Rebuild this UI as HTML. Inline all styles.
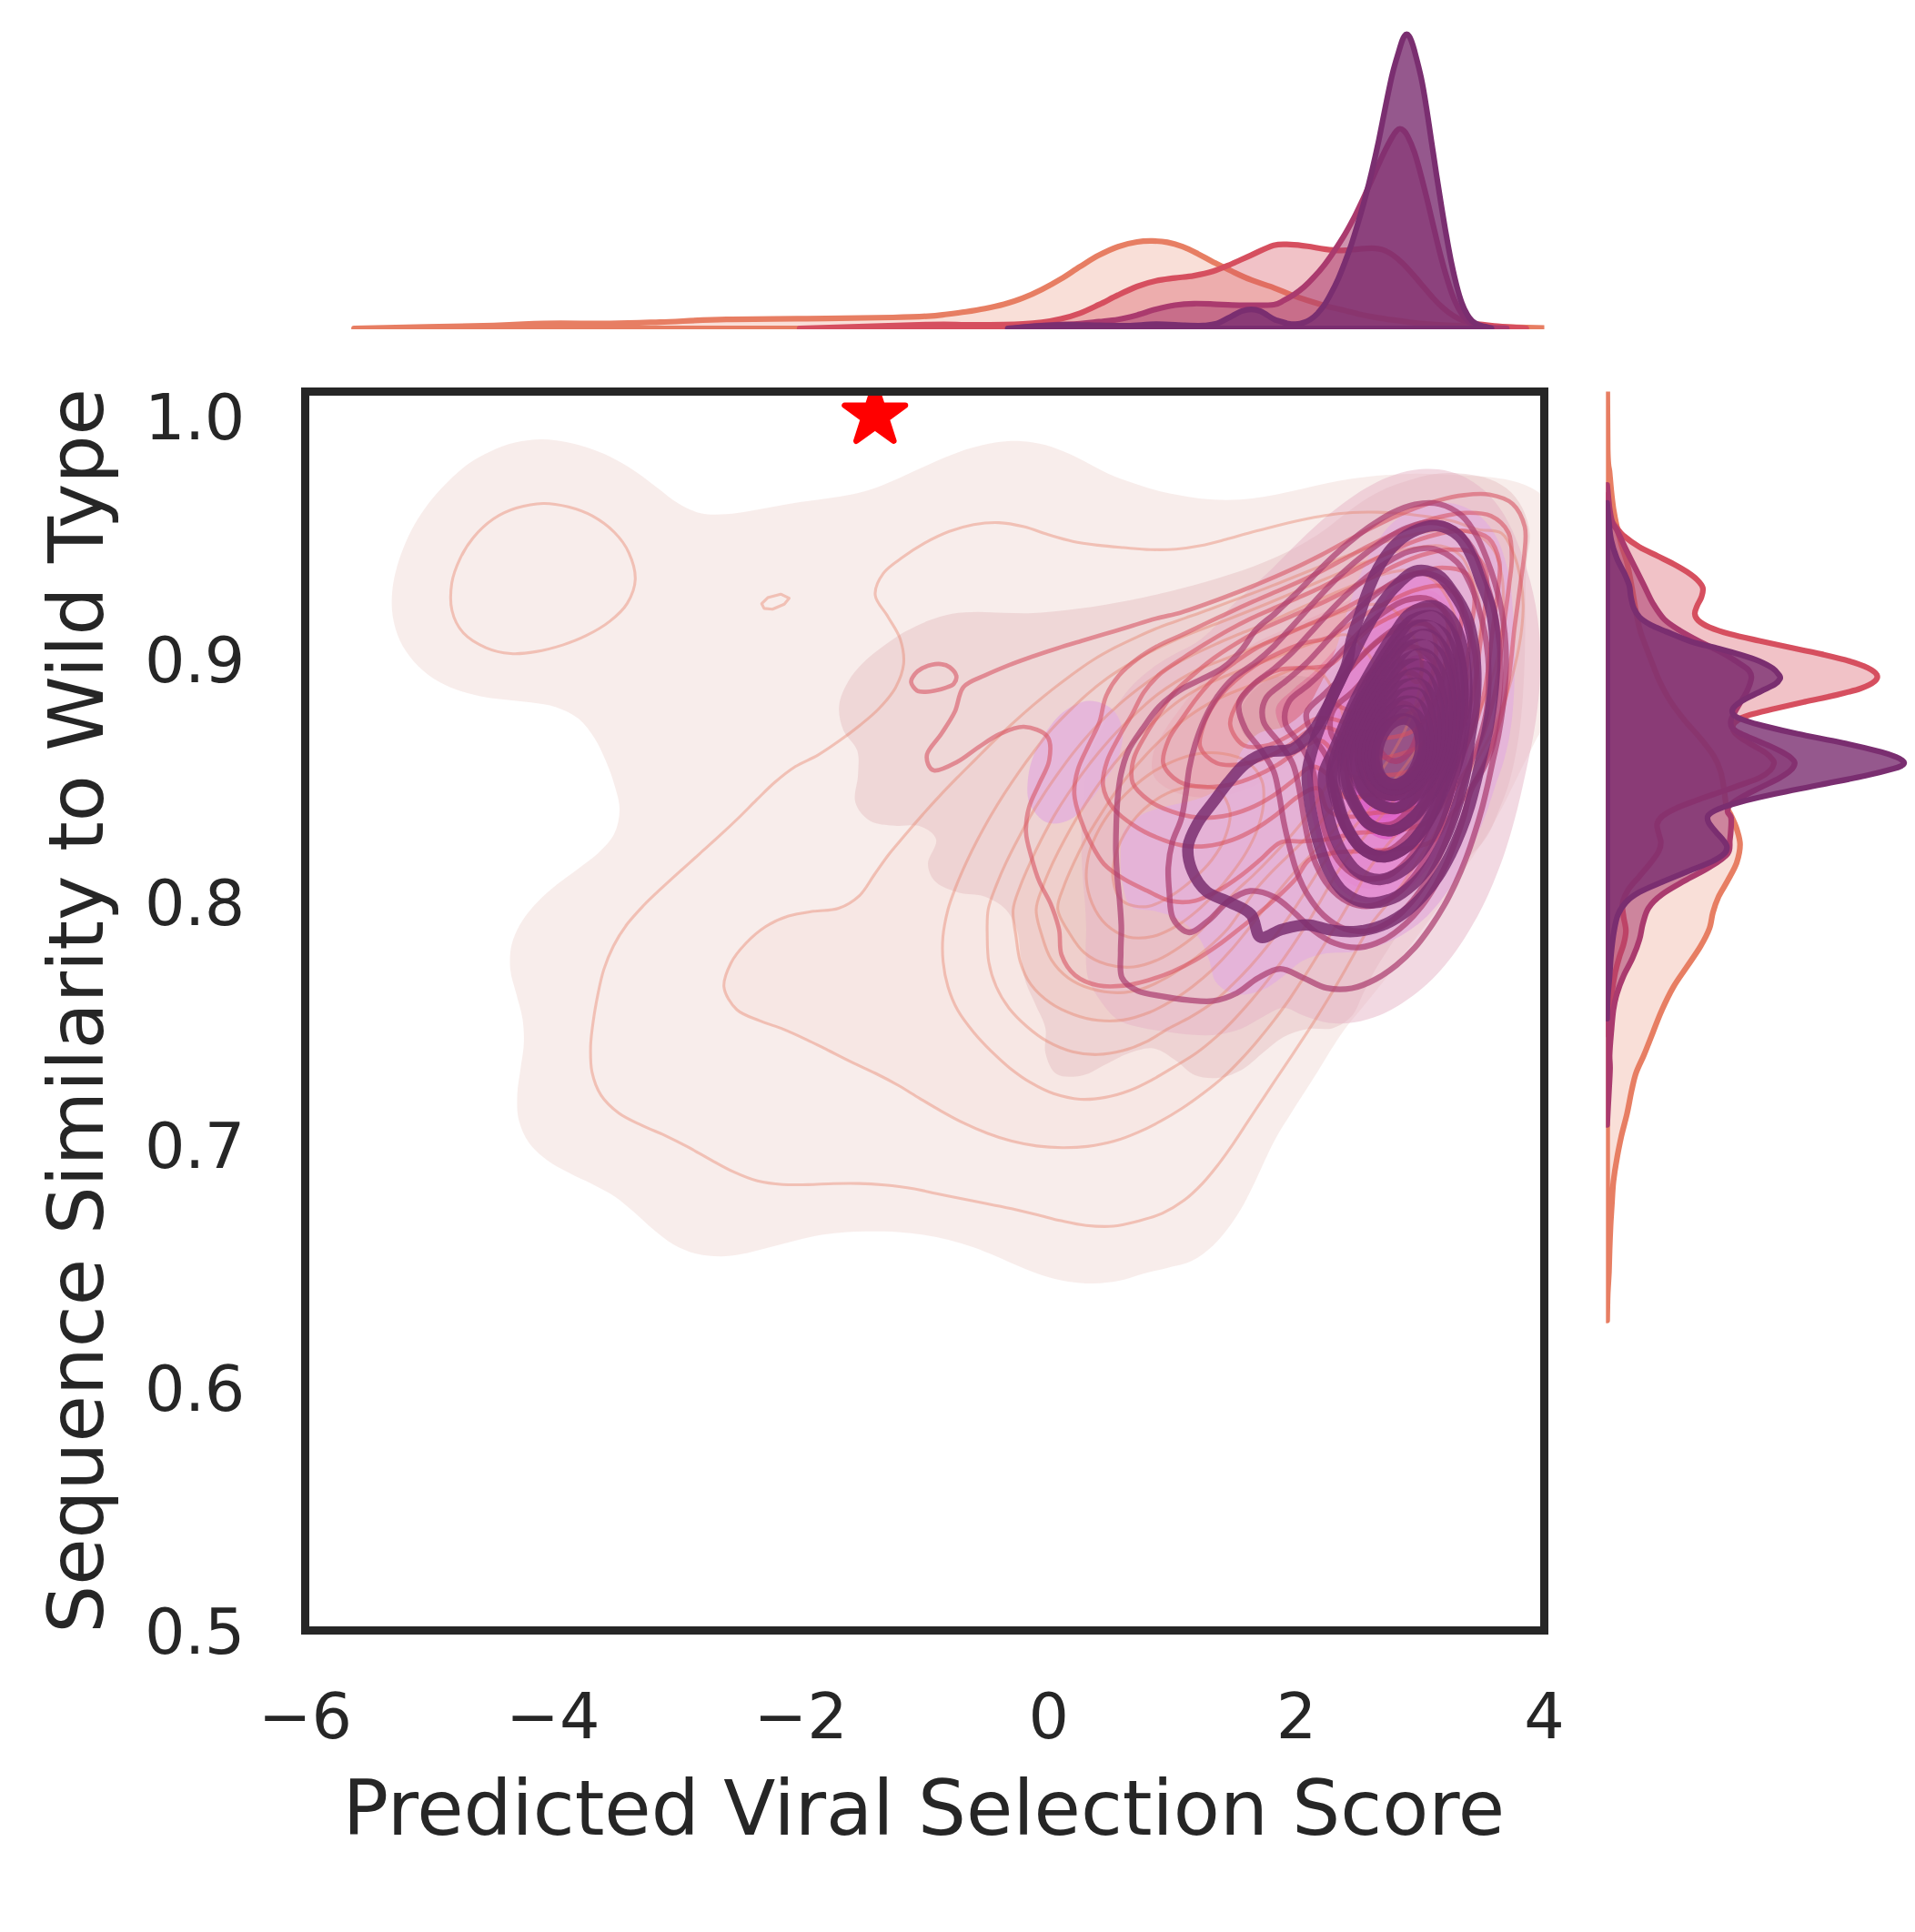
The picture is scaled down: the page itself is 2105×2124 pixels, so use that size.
<!DOCTYPE html>
<html><head><meta charset="utf-8"><title>Joint KDE plot</title>
<style>html,body{margin:0;padding:0;background:#fff}svg{display:block}</style></head>
<body><svg width="2105" height="2124" viewBox="0 0 2105 2124">
<rect width="2105" height="2124" fill="#ffffff"/>
<clipPath id="cpt"><rect x="335.5" y="0" width="1362" height="362"/></clipPath><g clip-path="url(#cpt)" stroke-linejoin="round">
<path d="M389.2 361C414.8 360.5 508 358.7 542.8 357.8C577.5 356.8 576.3 355.9 597.6 355.6C618.9 355.2 649.4 355.8 670.7 355.6C692 355.3 704.2 354.8 725.5 354.1C746.9 353.4 768.2 351.8 798.6 351.2C829.1 350.5 877.8 350.4 908.3 350.1C938.8 349.7 962.8 349.4 981.4 349C1000 348.6 1010.1 348.2 1020 347.6C1029.9 347 1033.9 346.3 1040.9 345.5C1047.9 344.7 1054.8 343.9 1061.8 342.8C1068.7 341.8 1075.7 340.7 1082.7 339.3C1089.6 337.9 1096.6 336.4 1103.6 334.5C1110.5 332.5 1117.5 330.3 1124.4 327.6C1131.4 324.9 1138.4 321.7 1145.3 318.2C1152.3 314.7 1159.3 310.9 1166.2 306.7C1173.2 302.5 1180.1 297.5 1187.1 293.1C1194.1 288.8 1201 284.2 1208 280.6C1215 276.9 1221.9 273.6 1228.9 271.2C1235.8 268.7 1243.5 267 1249.8 266C1256 264.9 1260.9 264.8 1266.5 264.9C1272 265 1277.6 265.3 1283.2 266.4C1288.8 267.4 1294.3 269.1 1299.9 271.2C1305.5 273.3 1311 276.1 1316.6 278.9C1322.2 281.7 1327 284.6 1333.3 287.9C1339.6 291.1 1347.2 295 1354.2 298.3C1361.2 301.6 1367.5 304.7 1375.1 307.7C1382.7 310.7 1392.7 313.7 1400 316.3C1407.3 319 1412.4 321.5 1418.6 323.8C1424.8 326.1 1431.1 328.3 1437.3 330.3C1443.5 332.3 1449.7 334.2 1455.9 335.9C1462.1 337.6 1468.3 339 1474.5 340.6C1480.8 342.1 1487 343.8 1493.2 345.2C1499.4 346.6 1505.6 347.9 1511.8 348.9C1518 350 1524.2 350.9 1530.5 351.7C1536.7 352.6 1542.9 353.4 1549.1 354.2C1555.3 354.9 1561.5 355.5 1567.7 356C1573.9 356.6 1577.1 356.9 1586.4 357.3C1595.7 357.8 1605.1 358.3 1623.6 358.8C1642.2 359.4 1682.3 360.2 1697.8 360.6C1713.4 361 1713.7 360.9 1716.8 361L1716.8 361.0L389.2 361.0Z" fill="#e77e63" fill-opacity="0.25" stroke="#e77e63" stroke-width="6.2"/>
<path d="M879 361C902.5 360.3 989.5 357.5 1020 356.8C1050.5 356.2 1047.9 357 1061.8 357C1075.7 357 1093.1 357 1103.6 356.8C1114 356.7 1117.5 356.6 1124.4 356.2C1131.4 355.8 1138.4 355.2 1145.3 354.3C1152.3 353.4 1159.3 352.2 1166.2 350.5C1173.2 348.9 1180.1 346.9 1187.1 344.3C1194.1 341.7 1201 338.2 1208 334.9C1215 331.6 1221.9 327.7 1228.9 324.4C1235.8 321.1 1242.8 317.7 1249.8 315C1256.7 312.4 1263.7 310.3 1270.7 308.8C1277.6 307.2 1284.6 306.6 1291.5 305.6C1298.5 304.7 1305.5 304.4 1312.4 303.1C1319.4 301.9 1326.4 300.5 1333.3 298.3C1340.3 296.1 1347.2 292.9 1354.2 290C1361.2 287 1367.5 283.9 1375.1 280.6C1382.7 277.2 1392.7 271.7 1400 269.7C1407.3 267.8 1412.4 268.7 1418.6 268.8C1424.8 269 1431.1 269.8 1437.3 270.7C1443.5 271.5 1449.7 273.1 1455.9 273.8C1462.1 274.6 1468.3 275.3 1474.5 275.3C1480.8 275.3 1487.6 274.2 1493.2 273.8C1498.8 273.4 1503.7 272.8 1508.1 272.9C1512.4 273 1515.6 273.2 1519.3 274.4C1523 275.6 1526.7 277.5 1530.5 280C1534.2 282.5 1537.9 285.7 1541.6 289.3C1545.4 292.9 1549.1 297.2 1552.8 301.4C1556.6 305.6 1560.3 310.1 1564 314.5C1567.7 318.8 1571.5 323.5 1575.2 327.5C1578.9 331.6 1582.6 335.4 1586.4 338.7C1590.1 342 1593.8 344.8 1597.6 347.1C1601.3 349.4 1605 351.3 1608.7 352.7C1612.5 354.1 1614.3 354.5 1619.9 355.5C1625.5 356.4 1632.7 357.3 1642.3 358.3C1651.9 359.2 1671.8 360.5 1677.7 361L1677.7 361.0L879.0 361.0Z" fill="#d64f5f" fill-opacity="0.35" stroke="#d64f5f" stroke-width="6.2"/>
<path d="M1112 361C1117.6 360.5 1132.8 358.7 1145.3 357.9C1157.8 357 1176.7 356.5 1187.1 355.8C1197.5 355.1 1201 354.4 1208 353.7C1215 352.9 1221.9 352.4 1228.9 351.2C1235.8 350 1242.8 348.2 1249.8 346.4C1256.7 344.5 1263.7 341.9 1270.7 340.1C1277.6 338.3 1284.6 336.6 1291.5 335.5C1298.5 334.5 1305.5 334 1312.4 333.8C1319.4 333.6 1326.4 334 1333.3 334.3C1340.3 334.5 1347.2 335.1 1354.2 335.3C1361.2 335.5 1367.5 335.6 1375.1 335.5C1382.7 335.5 1394 335.8 1400 335C1406 334.1 1407.5 332.2 1411.2 330.3C1414.9 328.4 1418.6 326.3 1422.4 323.8C1426.1 321.3 1429.8 318.7 1433.5 315.4C1437.3 312.1 1441 308.3 1444.7 304.2C1448.5 300.2 1452.2 296 1455.9 291.2C1459.6 286.4 1463.4 280.9 1467.1 275.3C1470.8 269.7 1474.5 264 1478.3 257.6C1482 251.3 1485.7 244.4 1489.5 237.1C1493.2 229.8 1497.5 220.5 1500.6 213.8C1503.7 207.1 1505.6 202.6 1508.1 197.1C1510.6 191.5 1513.1 185.7 1515.6 180.3C1518 174.8 1520.5 169.4 1523 164.4C1525.5 159.5 1528.4 153.9 1530.5 150.5C1532.5 147 1533.7 145.4 1535.1 143.9C1536.5 142.4 1537.5 141.5 1538.8 141.5C1540.2 141.5 1541.7 142.4 1543.1 143.8C1544.5 145.1 1545.3 145.6 1547.2 149.5C1549.2 153.4 1552.2 159.9 1554.7 167.2C1557.2 174.5 1559.7 184 1562.1 193.3C1564.6 202.6 1567.1 212.9 1569.6 223.1C1572.1 233.4 1574.6 244.6 1577.1 254.8C1579.5 265.1 1582 275.3 1584.5 284.6C1587 294 1589.5 303 1592 310.7C1594.4 318.5 1596.9 325.5 1599.4 331.2C1601.9 337 1604.4 341.5 1606.9 345.2C1609.4 348.9 1611.5 351.5 1614.3 353.6C1617.1 355.7 1619.6 356.6 1623.6 357.7C1627.7 358.8 1633.1 359.7 1638.6 360.2C1644 360.8 1653.3 360.9 1656.3 361L1656.3 361.0L1112.0 361.0Z" fill="#aa3a6e" fill-opacity="0.55" stroke="#aa3a6e" stroke-width="6.2"/>
<path d="M1107.7 361C1114 360.5 1133.8 358.7 1145.3 358.1C1156.8 357.4 1166.2 357.1 1176.7 357C1187.1 357 1197.5 357.5 1208 357.7C1218.4 357.8 1228.9 358.3 1239.3 358.1C1249.8 357.9 1260.2 356.5 1270.7 356.4C1281.1 356.3 1293.3 357.4 1302 357.7C1310.7 357.9 1317 358.2 1322.9 357.9C1328.8 357.5 1332.3 357.5 1337.5 355.8C1342.7 354 1349.7 349.7 1354.2 347.4C1358.7 345.2 1361.2 343.4 1364.6 342.2C1368.1 341 1371.6 340.1 1375.1 340.1C1378.6 340.1 1381.4 340.4 1385.5 342.2C1389.7 344 1396.7 349.1 1400 350.8C1403.3 352.6 1403.1 351.9 1405.6 352.7C1408.1 353.4 1411.8 354.8 1414.9 355.5C1418 356.1 1421.1 356.6 1424.2 356.4C1427.3 356.2 1430.8 355.5 1433.5 354.5C1436.3 353.6 1438.5 352.5 1441 350.8C1443.5 349.1 1446 346.9 1448.5 344.3C1450.9 341.6 1453.4 338.7 1455.9 335C1458.4 331.2 1460.9 326.6 1463.4 321.9C1465.9 317.3 1468.3 312.6 1470.8 307C1473.3 301.4 1475.8 294.9 1478.3 288.4C1480.8 281.9 1483.2 275.3 1485.7 267.9C1488.2 260.4 1490.7 252 1493.2 243.6C1495.7 235.3 1498.2 226.9 1500.6 217.6C1503.1 208.2 1505.6 198.3 1508.1 187.7C1510.6 177.2 1513.1 166 1515.6 154.2C1518 142.4 1520.5 129 1523 116.9C1525.5 104.8 1528 91.8 1530.5 81.5C1532.9 71.3 1536.1 61.6 1537.9 55.4C1539.7 49.3 1540.3 47.3 1541.3 44.6C1542.3 41.9 1543 40.5 1543.9 39.4C1544.7 38.2 1545.5 37.7 1546.3 37.7C1547.1 37.7 1547.9 38.2 1548.7 39.4C1549.6 40.5 1550.3 41.9 1551.3 44.6C1552.3 47.3 1552.9 48.6 1554.7 55.4C1556.5 62.2 1560 75 1562.1 85.2C1564.3 95.5 1565.9 105.4 1567.7 116.9C1569.6 128.4 1571.5 141.8 1573.3 154.2C1575.2 166.6 1577.1 179.3 1578.9 191.5C1580.8 203.6 1582.6 215.4 1584.5 226.9C1586.4 238.4 1588.2 249.9 1590.1 260.4C1592 271 1593.8 281.2 1595.7 290.2C1597.6 299.2 1599.4 307.3 1601.3 314.5C1603.1 321.6 1605 328 1606.9 333.1C1608.7 338.2 1610.6 342 1612.5 345.2C1614.3 348.5 1616.2 350.8 1618.1 352.7C1619.9 354.5 1621.5 355.4 1623.6 356.4C1625.8 357.4 1628.5 358.1 1631.1 358.8C1633.7 359.6 1638.1 360.6 1639.5 361L1639.5 361.0L1107.7 361.0Z" fill="#7a2e70" fill-opacity="0.80" stroke="#7a2e70" stroke-width="6.2"/>
</g>
<clipPath id="cpr"><rect x="1765.3" y="430.5" width="340" height="1362"/></clipPath><g clip-path="url(#cpr)" stroke-linejoin="round">
<path d="M1766.6 380C1766.7 399.1 1766.8 471.3 1767.2 494.5C1767.7 517.8 1768.7 511.9 1769.3 519.4C1770 526.8 1770.4 532.6 1771.1 539.3C1771.8 545.9 1772.5 552.5 1773.5 559.1C1774.6 565.8 1775.8 572.4 1777.3 579C1778.7 585.6 1780.4 592.3 1782.2 598.9C1784.1 605.5 1786.6 611.3 1788.5 618.8C1790.3 626.2 1791.9 635.3 1793.4 643.6C1795 651.9 1796.3 661 1797.6 668.5C1799 675.9 1800.4 683.1 1801.6 688.3C1802.9 693.6 1802.9 693.9 1805.1 700C1807.3 706.1 1811.3 716.6 1814.5 724.8C1817.8 733.1 1820.8 741.8 1824.5 749.7C1828.2 757.6 1832.3 765 1836.9 772.1C1841.5 779.1 1846.4 785.3 1851.8 791.9C1857.2 798.6 1863.8 805.2 1869.2 811.8C1874.6 818.4 1880.4 825.5 1884.1 831.7C1887.8 837.9 1889.7 842.9 1891.6 849.1C1893.4 855.3 1894.3 862.7 1895.3 869C1896.3 875.2 1896.5 881.8 1897.8 886.4C1899 890.9 1900.9 892.1 1902.7 896.3C1904.6 900.4 1907.3 905.8 1909 911.2C1910.6 916.6 1912.7 922.4 1912.7 928.6C1912.7 934.8 1911.2 941.8 1909 948.5C1906.7 955.1 1902.3 962.1 1899 968.3C1895.7 974.6 1891.8 979.9 1889.1 985.7C1886.4 991.5 1884.5 997.3 1882.9 1003.1C1881.2 1008.9 1881.4 1014.3 1879.1 1020.5C1876.9 1026.7 1873.3 1033.4 1869.2 1040.4C1865.1 1047.4 1859.3 1055.3 1854.3 1062.8C1849.3 1070.2 1843.9 1077.3 1839.4 1085.1C1834.8 1093 1830.7 1101.7 1827 1110C1823.2 1118.3 1820.3 1126.5 1817 1134.8C1813.7 1143.1 1810.2 1152.2 1807.1 1159.7C1804 1167.1 1800.7 1172.9 1798.4 1179.5C1796.1 1186.1 1795.1 1191.9 1793.4 1199.4C1791.8 1206.8 1790.3 1216 1788.5 1224.2C1786.6 1232.5 1784.1 1240.8 1782.2 1249.1C1780.4 1257.4 1778.7 1265.6 1777.3 1273.9C1775.8 1282.2 1774.5 1290.5 1773.5 1298.8C1772.6 1307.1 1772.3 1315.3 1771.8 1323.6C1771.3 1331.9 1770.7 1340.2 1770.3 1348.5C1769.9 1356.8 1769.6 1365 1769.3 1373.3C1769 1381.6 1768.9 1389.9 1768.6 1398.2C1768.2 1406.4 1767.6 1414.1 1767.2 1423C1766.9 1431.9 1766.7 1446.8 1766.6 1451.6Z" fill="#e77e63" fill-opacity="0.25" stroke="#e77e63" stroke-width="6.25"/>
<path d="M1766.6 544.2C1766.9 546.7 1767.5 554.6 1768.2 559.1C1769 563.7 1769.6 568 1771.1 571.6C1772.6 575.1 1775 577.4 1777.3 580.3C1779.5 583.2 1780.6 585.4 1784.7 589C1788.9 592.5 1795.9 597.7 1802.1 601.4C1808.3 605.1 1815.8 608.2 1822 611.3C1828.2 614.4 1834 617.1 1839.4 620C1844.8 622.9 1849.9 625.8 1854.3 628.7C1858.6 631.6 1862.6 634.5 1865.5 637.4C1868.4 640.3 1870.9 643 1871.7 646.1C1872.5 649.2 1871.5 652.7 1870.4 656C1869.4 659.4 1866.7 662.9 1865.5 666C1864.2 669.1 1862.8 672 1863 674.7C1863.2 677.4 1864 679.6 1866.7 682.1C1869.4 684.6 1873.3 687.1 1879.1 689.6C1884.9 692.1 1892.4 694.6 1901.5 697C1910.6 699.5 1922.6 702 1933.8 704.5C1945 707 1957 709.5 1968.6 712C1980.2 714.4 1992.6 716.9 2003.4 719.4C2014.1 721.9 2024.9 724.4 2033.2 726.9C2041.5 729.3 2048.1 731.8 2053.1 734.3C2058 736.8 2061.8 739.3 2063 741.8C2064.3 744.3 2063.4 746.7 2060.5 749.2C2057.6 751.7 2052.7 754.2 2045.6 756.7C2038.6 759.2 2028.6 761.6 2018.3 764.1C2007.9 766.6 1994.7 769.1 1983.5 771.6C1972.3 774.1 1961.1 776.7 1951.2 779C1941.3 781.4 1930.1 784 1923.9 785.7C1917.7 787.5 1916.7 788 1913.9 789.4C1911.1 790.9 1908.5 792.8 1907 794.4C1905.4 796.1 1904.5 797.5 1904.5 799.4C1904.5 801.3 1905 803.3 1907 805.6C1909 807.9 1912.8 810.6 1916.4 813.1C1920.1 815.5 1924.7 818 1928.8 820.5C1933 823 1937.9 825.5 1941.3 828C1944.6 830.4 1947.3 833.6 1948.7 835.4C1950.2 837.3 1950.4 837.3 1950 839.1C1949.5 841 1948.9 843.9 1946.2 846.6C1943.5 849.3 1939.2 852.6 1933.8 855.3C1928.4 858 1921.4 860.1 1913.9 862.7C1906.5 865.4 1897.4 868.5 1889.1 871.4C1880.8 874.3 1872.1 877.2 1864.2 880.1C1856.4 883 1848.1 885.9 1841.9 888.8C1835.7 891.7 1830.4 894.6 1827 897.5C1823.6 900.4 1822.1 903.1 1821.5 906.2C1820.9 909.3 1822.5 912.9 1823.2 916.2C1823.9 919.5 1825.7 922.8 1825.7 926.1C1825.7 929.4 1825.1 932.3 1823.2 936C1821.4 939.8 1818.1 943.9 1814.5 948.5C1811 953 1806.3 958.4 1802.1 963.4C1798 968.3 1792.8 973.3 1789.7 978.3C1786.6 983.3 1784.3 988.2 1783.5 993.2C1782.7 998.2 1784.1 1003.1 1784.7 1008.1C1785.3 1013.1 1787.2 1018 1787.2 1023C1787.2 1028 1786 1032.9 1784.7 1037.9C1783.5 1042.9 1781.4 1047 1779.8 1052.8C1778.1 1058.6 1776.2 1065.2 1774.8 1072.7C1773.3 1080.2 1772.1 1089.3 1771.1 1097.5C1770 1105.8 1769.3 1115.8 1768.6 1122.4C1767.8 1129 1766.9 1134.8 1766.6 1137.3Z" fill="#d64f5f" fill-opacity="0.35" stroke="#d64f5f" stroke-width="6.25"/>
<path d="M1766.6 533.1C1767.1 537.4 1768.4 552.3 1769.3 559.1C1770.3 566 1771 570.1 1772.3 574.1C1773.6 578 1774.8 577.8 1777.3 582.7C1779.8 587.7 1783.9 597 1787.2 603.9C1790.5 610.7 1793.8 617.1 1797.1 623.7C1800.5 630.4 1803.8 637 1807.1 643.6C1810.4 650.2 1813.3 657.3 1817 663.5C1820.8 669.7 1824.5 675.9 1829.4 680.9C1834.4 685.9 1840.2 689.2 1846.8 693.3C1853.5 697.5 1861.3 701.6 1869.2 705.7C1877.1 709.9 1886.6 714 1894.1 718.2C1901.5 722.3 1909.2 727.4 1913.9 730.6C1918.7 733.8 1920.8 734.8 1922.6 737.3C1924.5 739.8 1925.5 741.6 1925.1 745.5C1924.7 749.3 1922.2 755.8 1920.1 760.4C1918.1 764.9 1915 768.8 1912.7 772.8C1910.3 776.8 1907.6 781.3 1906 784.5C1904.3 787.7 1903.2 789.4 1902.7 791.9C1902.3 794.4 1902 797.1 1903.5 799.4C1904.9 801.7 1907.2 803.3 1911.4 805.6C1915.7 807.9 1923 810.6 1928.8 813.1C1934.6 815.5 1940.8 818 1946.2 820.5C1951.6 823 1957.2 825.7 1961.1 828C1965.1 830.2 1967.9 832.3 1969.8 834.2C1971.8 836 1973 837.1 1972.8 839.1C1972.6 841.2 1971.4 843.9 1968.6 846.6C1965.8 849.3 1961.6 852.2 1956.2 855.3C1950.8 858.4 1942.9 861.9 1936.3 865.2C1929.7 868.5 1922.2 871.9 1916.4 875.2C1910.6 878.5 1904.4 882.2 1901.5 885.1C1898.6 888 1898.8 890.3 1899 892.6C1899.2 894.8 1902.1 895.7 1902.7 898.8C1903.4 901.9 1903 907.1 1902.7 911.2C1902.5 915.3 1902.1 919.1 1901.5 923.6C1900.9 928.2 1902.7 933.6 1899 938.5C1895.3 943.5 1887 948.5 1879.1 953.4C1871.3 958.4 1860.5 963.4 1851.8 968.3C1843.1 973.3 1833.6 978.3 1827 983.3C1820.3 988.2 1815.6 992.8 1812.1 998.2C1808.5 1003.5 1807.5 1009.8 1805.8 1015.6C1804.2 1021.4 1804 1026.7 1802.1 1032.9C1800.3 1039.2 1797.6 1046.2 1794.7 1052.8C1791.8 1059.5 1787.6 1066.1 1784.7 1072.7C1781.8 1079.3 1779.1 1086.4 1777.3 1092.6C1775.4 1098.8 1774.6 1102.9 1773.5 1110C1772.5 1117 1771.8 1126.5 1771.1 1134.8C1770.4 1143.1 1769.5 1153 1769.3 1159.7C1769.1 1166.3 1769.9 1167.9 1769.8 1174.5C1769.7 1181.2 1769.1 1189 1768.6 1199.4C1768 1209.7 1766.9 1230.4 1766.6 1236.7Z" fill="#aa3a6e" fill-opacity="0.55" stroke="#aa3a6e" stroke-width="6.25"/>
<path d="M1766.6 552.9C1766.9 556.5 1767.8 567.2 1768.6 574.1C1769.3 580.9 1769.6 587.3 1771.1 593.9C1772.5 600.6 1774.8 607.6 1777.3 613.8C1779.8 620 1783.7 626.2 1786 631.2C1788.2 636.2 1789.8 639.5 1790.9 643.6C1792.1 647.8 1791.8 651.9 1792.7 656C1793.5 660.2 1794.3 664.7 1795.9 668.5C1797.5 672.2 1799 675.3 1802.1 678.4C1805.2 681.5 1809.6 684.4 1814.5 687.1C1819.5 689.8 1824.5 691.5 1831.9 694.5C1839.4 697.6 1849.7 702.4 1859.3 705.5C1868.8 708.5 1880 710.5 1889.1 712.9C1898.2 715.3 1906.5 717.6 1913.9 719.9C1921.4 722.2 1928 724.3 1933.8 726.8C1939.6 729.3 1945.1 732.2 1948.7 734.8C1952.4 737.4 1954.3 740.4 1955.7 742.2C1957 744.1 1957.4 744.3 1956.7 746C1955.9 747.6 1954.6 749.9 1951.2 752.2C1947.8 754.5 1941.7 756.9 1936.3 759.6C1930.9 762.3 1923.7 765.6 1918.9 768.3C1914.1 771 1910.2 773.5 1907.7 775.8C1905.2 778.1 1904 780 1904 782C1904 783.9 1905.2 785.7 1907.7 787.5C1910.2 789.2 1913.7 790.6 1918.9 792.4C1924.1 794.2 1929.3 795.7 1938.8 798.1C1948.3 800.5 1961.6 803.7 1976 806.8C1990.5 809.9 2010.4 813.5 2025.7 816.8C2041.1 820.1 2058.2 824.2 2068 826.7C2077.7 829.3 2080.3 830.7 2084.1 832.2C2088 833.7 2089.6 834.8 2091.1 835.9C2092.6 837 2093.2 837.7 2093.1 838.6C2093 839.6 2092.5 840.6 2090.6 841.6C2088.7 842.7 2088.3 843.2 2081.6 845.1C2075 847 2064 849.9 2050.6 852.8C2037.1 855.7 2017.5 859.4 2000.9 862.7C1984.3 866.1 1965.7 869.6 1951.2 872.7C1936.7 875.8 1924.3 878.6 1913.9 881.4C1903.6 884.2 1895.1 886.8 1889.1 889.3C1883.1 891.8 1879.8 893.9 1877.9 896.3C1876 898.7 1876.7 900.8 1877.9 903.7C1879.1 906.6 1882.7 910.4 1885.4 913.7C1888 917 1891.9 920.7 1894.1 923.6C1896.2 926.5 1898.1 928.6 1898.3 931.1C1898.5 933.6 1898.1 935.8 1895.3 938.5C1892.5 941.2 1888.5 943.9 1881.6 947.2C1874.8 950.5 1863.4 954.7 1854.3 958.4C1845.2 962.1 1835.7 965.9 1827 969.6C1818.3 973.3 1808.7 977 1802.1 980.8C1795.5 984.5 1791.1 987.8 1787.2 992C1783.3 996.1 1780.7 1000.4 1778.5 1005.6C1776.4 1010.8 1775.5 1016 1774.3 1023C1773 1030 1771.9 1039.6 1771.1 1047.9C1770.2 1056.1 1770 1064.4 1769.3 1072.7C1768.7 1081 1767.7 1089.7 1767.2 1097.5C1766.8 1105.4 1766.7 1116.2 1766.6 1119.9Z" fill="#7a2e70" fill-opacity="0.80" stroke="#7a2e70" stroke-width="6.25"/>
</g>
<clipPath id="cpj"><rect x="335.5" y="430.5" width="1362" height="1362"/></clipPath><g clip-path="url(#cpj)" fill="none" stroke-linejoin="round">
<path d="M595.8 483.1C605.4 483.1 614.5 484.5 623.6 486.2C632.7 488 641.8 490.7 650.5 493.8C659.3 496.9 668 500.6 676.2 504.9C684.5 509.2 692.4 514.3 700.1 519.5C707.8 524.8 715 530.7 722.5 536.3C730 541.9 737 548.4 744.9 553C752.9 557.7 761.4 562.2 770.3 564.2C779.2 566.3 788.9 565.8 798.1 565.3C807.4 564.8 816.6 562.8 825.9 561.4C835.1 559.9 844.2 558.1 853.4 556.5C862.6 554.9 871.8 553.2 881.1 551.8C890.3 550.4 899.6 549.4 908.8 548C918 546.7 927.4 545.6 936.5 543.6C945.6 541.6 954.6 539.1 963.4 536C972.2 532.9 980.7 528.9 989.2 525.2C997.7 521.4 1006.2 517.3 1014.7 513.5C1023.2 509.7 1031.7 505.7 1040.3 502.2C1049 498.8 1057.7 495.3 1066.6 492.7C1075.6 490.1 1084.7 487.7 1093.9 486.4C1103.1 485.2 1112.6 484.5 1121.8 484.9C1131.1 485.4 1140.4 486.8 1149.4 489.2C1158.3 491.5 1167 495.4 1175.5 499.1C1184 502.9 1192.2 507.5 1200.6 511.7C1208.9 515.9 1217.1 520.5 1225.7 524.1C1234.2 527.7 1243.2 530.4 1252.1 533.2C1261 536 1269.9 539 1279 541.1C1288 543.3 1297.3 544.8 1306.5 546.2C1315.7 547.6 1325 548.8 1334.3 549.3C1343.6 549.8 1353 549.8 1362.3 549.2C1371.6 548.6 1380.9 547.4 1390.1 545.9C1399.3 544.4 1408.4 542.4 1417.6 540.4C1426.7 538.5 1435.8 536.2 1444.9 534.2C1454 532.2 1463.1 530.1 1472.3 528.5C1481.5 526.9 1490.8 525.5 1500 524.4C1509.3 523.3 1518.6 522.5 1527.9 521.9C1537.2 521.3 1546.6 520.8 1555.9 520.7C1565.2 520.6 1574.6 521 1583.9 521.4C1593.2 521.7 1602.6 522.2 1611.9 522.7C1621.2 523.3 1630.6 523.5 1639.8 524.7C1649 525.9 1658.5 527.2 1667.2 530.1C1676 533 1685.2 536.5 1692.3 542.1C1699.4 547.6 1705.3 555.6 1709.7 563.5C1714.1 571.4 1716.8 580.6 1718.7 589.6C1720.6 598.7 1720.5 608.2 1721.1 617.5C1721.6 626.8 1721.9 636.2 1722.1 645.5C1722.4 654.9 1722.6 664.2 1722.7 673.5C1722.8 682.9 1722.8 692.2 1722.8 701.5C1722.7 710.9 1722.6 720.2 1722.2 729.5C1721.7 738.9 1721.8 748.4 1720.1 757.5C1718.4 766.5 1716.4 776.1 1712 783.9C1707.6 791.8 1698.9 797.1 1693.6 804.7C1688.4 812.2 1684.7 821 1680.4 829.3C1676.1 837.5 1672.1 846 1667.9 854.3C1663.8 862.7 1659.7 871.1 1655.5 879.4C1651.2 887.7 1646.9 896 1642.3 904.2C1637.7 912.3 1632.9 920.3 1627.9 928.2C1623 936.1 1617.8 943.9 1612.6 951.6C1607.5 959.4 1602.3 967.2 1597 974.9C1591.7 982.6 1586.3 990.2 1580.9 997.8C1575.5 1005.4 1570 1013 1564.5 1020.5C1558.9 1028 1553.4 1035.5 1547.8 1043C1542.2 1050.5 1536.6 1058 1530.9 1065.4C1525.3 1072.8 1519.7 1080.3 1513.9 1087.6C1508.1 1094.9 1502.1 1102.1 1496.2 1109.3C1490.3 1116.6 1484 1123.5 1478.5 1131C1472.9 1138.5 1468 1146.4 1462.9 1154.3C1457.9 1162.2 1453.3 1170.3 1448.3 1178.2C1443.4 1186.1 1438.3 1193.9 1433.3 1201.8C1428.2 1209.7 1423.1 1217.5 1418.2 1225.4C1413.2 1233.3 1408 1241.1 1403.5 1249.2C1398.9 1257.4 1395 1265.9 1391 1274.3C1387 1282.7 1383.4 1291.4 1379.3 1299.8C1375.2 1308.2 1371.3 1316.7 1366.7 1324.8C1362 1332.8 1357.1 1340.8 1351.5 1348.3C1345.9 1355.7 1340 1363.2 1333.3 1369.5C1326.5 1375.7 1319 1381.8 1310.8 1385.8C1302.6 1389.9 1293 1391.4 1284 1393.7C1275 1396.1 1265.8 1397.8 1256.8 1400.2C1247.8 1402.6 1239.1 1406.3 1230 1408.1C1220.9 1409.9 1211.4 1410.9 1202.2 1411.1C1192.9 1411.2 1183.5 1410.5 1174.3 1409.1C1165.1 1407.7 1156 1405.3 1147.1 1402.5C1138.2 1399.7 1129.6 1396 1121 1392.4C1112.3 1388.9 1103.9 1384.8 1095.3 1381.2C1086.7 1377.6 1078.1 1373.9 1069.3 1370.9C1060.5 1367.9 1051.5 1365.3 1042.4 1363C1033.3 1360.8 1024.2 1359 1014.9 1357.6C1005.7 1356.2 996.4 1355.1 987.1 1354.5C977.8 1353.8 968.5 1353.8 959.1 1353.8C949.8 1353.7 940.4 1353.7 931.1 1354.4C921.8 1355 912.5 1356.1 903.3 1357.6C894.1 1359.1 885 1361.3 875.9 1363.5C866.9 1365.6 857.9 1368.3 848.9 1370.6C839.8 1372.9 830.8 1375.6 821.7 1377.4C812.5 1379.1 803.2 1381 794 1381.2C784.7 1381.4 775.2 1380.7 766.2 1378.6C757.3 1376.4 748.4 1372.7 740.4 1368.2C732.3 1363.7 725.2 1357.4 718 1351.5C710.8 1345.6 704.3 1338.7 697.2 1332.7C690.1 1326.6 683.1 1320.4 675.4 1315.2C667.7 1310 659.2 1306 650.9 1301.7C642.6 1297.4 633.9 1293.9 625.7 1289.5C617.4 1285.1 608.8 1281.1 601.5 1275.5C594.1 1270 586.6 1263.8 581.4 1256.3C576.2 1248.9 572.3 1239.8 570.2 1231C568 1222.1 568.3 1212.4 568.6 1203.2C568.9 1193.9 570.9 1184.6 572.1 1175.4C573.3 1166.1 575.4 1156.9 575.8 1147.6C576.2 1138.4 575.7 1128.9 574.3 1119.8C572.9 1110.6 569.7 1101.7 567.5 1092.6C565.2 1083.6 561.7 1074.6 560.9 1065.5C560.1 1056.3 560.4 1046.7 562.6 1037.8C564.8 1029 569.1 1020.2 574 1012.4C578.8 1004.6 585.3 997.5 591.7 990.8C598.2 984.1 605.4 978.1 612.6 972.1C619.8 966.2 627.6 961 635 955.4C642.4 949.7 650.5 944.6 657.2 938.3C663.8 931.9 671 925.2 675 917.1C679 909.1 681 899.2 681.1 890.1C681.1 881.1 678 871.8 675.4 862.9C672.9 854 669.6 845.1 665.9 836.6C662.3 828 658.5 819.3 653.5 811.5C648.5 803.8 642.9 795.7 635.9 790C628.8 784.3 619.9 780.3 611.3 777.4C602.6 774.4 593 773.6 583.8 772.3C574.5 771 565.2 770.4 555.9 769.3C546.6 768.1 537.3 767.3 528.2 765.4C519.1 763.5 509.9 761.3 501.2 758C492.5 754.7 483.8 750.8 476.2 745.7C468.5 740.6 461.2 734.3 455.1 727.4C449 720.5 443.5 712.6 439.6 704.3C435.7 695.9 433.1 686.7 431.7 677.6C430.3 668.5 430.3 658.9 431.2 649.7C432 640.4 434.1 631.2 436.6 622.3C439.1 613.3 442.4 604.5 446.1 595.9C449.8 587.4 454.1 579 459 571.1C463.8 563.1 469.3 555.5 475.2 548.2C481 541 487.5 534.2 494.2 527.7C500.9 521.3 507.8 514.8 515.4 509.5C523 504.2 531.3 499.7 539.8 495.9C548.2 492 556.8 488.6 566.1 486.5C575.5 484.4 586.2 483.2 595.8 483.1ZM795.6 1085.3C794.5 1076.8 799.2 1067.1 803.2 1059C807.3 1050.9 813.7 1043.5 820.1 1036.7C826.4 1030 833.6 1023.7 841.4 1018.8C849.2 1013.8 857.9 1009.9 866.7 1007.1C875.5 1004.2 884.9 1003.2 894.1 1001.7C903.3 1000.3 913.3 1001.5 921.8 998.6C930.3 995.7 938.5 990.6 945 984.4C951.6 978.2 955.7 969.1 961.1 961.5C966.4 953.9 971.6 946.1 977.3 938.7C983.1 931.4 989.4 924.4 995.4 917.3C1001.5 910.2 1007.5 903.1 1013.6 896.1C1019.8 889.1 1026.1 882.2 1032.5 875.3C1038.9 868.5 1045.3 861.8 1051.9 855.2C1058.4 848.5 1065.1 842 1071.7 835.4C1078.3 828.8 1084.8 822.1 1091.5 815.6C1098.2 809.1 1104.7 802.8 1111.8 796.3C1119 789.8 1127 782.7 1134.3 776.4C1141.6 770.1 1148.6 764.4 1155.9 758.6C1163.2 752.8 1170.7 747.2 1178.2 741.7C1185.7 736.2 1193.3 730.6 1201.2 725.6C1209 720.7 1217.3 716.2 1225.5 711.9C1233.8 707.6 1242.3 703.7 1250.8 699.8C1259.3 695.9 1267.8 692.1 1276.5 688.7C1285.2 685.3 1294.1 682.5 1302.9 679.4C1311.7 676.3 1320.5 673.3 1329.3 670C1338 666.8 1346.7 663.4 1355.5 660.1C1364.2 656.8 1373 653.7 1381.7 650.4C1390.5 647.1 1399.1 643.7 1407.8 640.2C1416.5 636.8 1425.1 633.2 1433.8 629.8C1442.5 626.3 1451.1 622.8 1459.8 619.3C1468.4 615.8 1477.1 612.3 1485.8 609C1494.5 605.6 1503.2 602.1 1512 599.1C1520.9 596.1 1529.4 593.3 1538.8 590.9C1548.1 588.5 1558.6 586.1 1568.1 584.7C1577.6 583.3 1586.8 581.9 1596 582.4C1605.1 582.9 1615.4 583.7 1623.2 587.6C1631 591.5 1638.2 598.5 1642.9 606C1647.5 613.5 1649.2 623.5 1650.9 632.6C1652.5 641.7 1652.6 651.2 1652.7 660.5C1652.7 669.8 1652.1 679.2 1651.2 688.5C1650.3 697.8 1649.1 707.1 1647.4 716.2C1645.6 725.4 1643.3 734.4 1640.7 743.4C1638 752.3 1634.8 761.1 1631.4 769.8C1627.9 778.4 1624 786.9 1619.9 795.3C1615.8 803.7 1611.3 811.9 1606.6 819.9C1601.9 828 1596.9 835.9 1591.7 843.7C1586.6 851.4 1581.3 859.1 1575.7 866.6C1570.1 874.1 1564.2 881.3 1558.4 888.6C1552.5 895.9 1546.8 902.8 1540.6 910.3C1534.5 917.7 1527.4 925.7 1521.3 933.3C1515.3 940.8 1509.5 947.7 1504.4 955.5C1499.4 963.3 1495.5 971.9 1490.9 980C1486.3 988.1 1481.4 996.1 1476.6 1004.1C1471.8 1012.1 1466.9 1020.1 1462.1 1028C1457.2 1036 1452.4 1044 1447.4 1051.9C1442.5 1059.8 1437.6 1067.8 1432.5 1075.6C1427.4 1083.5 1422.4 1091.3 1417.1 1099C1411.8 1106.6 1406.2 1114.2 1400.6 1121.6C1394.9 1129 1389 1136.2 1383 1143.4C1377 1150.5 1370.9 1157.6 1364.5 1164.4C1358.2 1171.3 1351.6 1178 1344.7 1184.2C1337.8 1190.4 1330.4 1196.2 1323 1201.8C1315.5 1207.5 1307.9 1212.9 1300.1 1218.1C1292.3 1223.2 1284.3 1228 1276.1 1232.4C1268 1236.9 1259.6 1241.1 1251 1244.8C1242.5 1248.5 1234.1 1252 1224.8 1254.6C1215.6 1257.2 1205 1259.2 1195.4 1260.4C1185.9 1261.6 1176.8 1261.9 1167.5 1261.8C1158.2 1261.7 1148.8 1261.1 1139.6 1259.9C1130.4 1258.7 1121.1 1256.9 1112.1 1254.6C1103.1 1252.3 1094.2 1249.3 1085.5 1246C1076.8 1242.8 1068.2 1239 1059.8 1234.9C1051.4 1230.9 1043.2 1226.4 1035 1221.8C1026.9 1217.3 1018.9 1212.4 1010.9 1207.6C1002.9 1202.8 995.2 1197.6 987 1193C978.9 1188.4 970.6 1184.1 962.3 1180C953.9 1175.8 945.3 1172.2 936.9 1168.1C928.5 1164 920.2 1159.7 911.9 1155.5C903.5 1151.4 895.3 1147 886.8 1143C878.4 1139 869.9 1135.1 861.3 1131.6C852.6 1128.1 843.5 1125.7 834.9 1122.1C826.4 1118.6 816.4 1116.2 809.8 1110.1C803.3 1103.9 796.7 1093.9 795.6 1085.3Z" fill="#e6bdb7" fill-opacity="0.28" fill-rule="evenodd"/>
<path d="M795.6 1085.3C794.5 1076.8 799.2 1067.1 803.2 1059C807.3 1050.9 813.7 1043.5 820.1 1036.7C826.4 1030 833.6 1023.7 841.4 1018.8C849.2 1013.8 857.9 1009.9 866.7 1007.1C875.5 1004.2 884.9 1003.2 894.1 1001.7C903.3 1000.3 913.3 1001.5 921.8 998.6C930.3 995.7 938.5 990.6 945 984.4C951.6 978.2 955.7 969.1 961.1 961.5C966.4 953.9 971.6 946.1 977.3 938.7C983.1 931.4 989.4 924.4 995.4 917.3C1001.5 910.2 1007.5 903.1 1013.6 896.1C1019.8 889.1 1026.1 882.2 1032.5 875.3C1038.9 868.5 1045.3 861.8 1051.9 855.2C1058.4 848.5 1065.1 842 1071.7 835.4C1078.3 828.8 1084.8 822.1 1091.5 815.6C1098.2 809.1 1104.7 802.8 1111.8 796.3C1119 789.8 1127 782.7 1134.3 776.4C1141.6 770.1 1148.6 764.4 1155.9 758.6C1163.2 752.8 1170.7 747.2 1178.2 741.7C1185.7 736.2 1193.3 730.6 1201.2 725.6C1209 720.7 1217.3 716.2 1225.5 711.9C1233.8 707.6 1242.3 703.7 1250.8 699.8C1259.3 695.9 1267.8 692.1 1276.5 688.7C1285.2 685.3 1294.1 682.5 1302.9 679.4C1311.7 676.3 1320.5 673.3 1329.3 670C1338 666.8 1346.7 663.4 1355.5 660.1C1364.2 656.8 1373 653.7 1381.7 650.4C1390.5 647.1 1399.1 643.7 1407.8 640.2C1416.5 636.8 1425.1 633.2 1433.8 629.8C1442.5 626.3 1451.1 622.8 1459.8 619.3C1468.4 615.8 1477.1 612.3 1485.8 609C1494.5 605.6 1503.2 602.1 1512 599.1C1520.9 596.1 1529.4 593.3 1538.8 590.9C1548.1 588.5 1558.6 586.1 1568.1 584.7C1577.6 583.3 1586.8 581.9 1596 582.4C1605.1 582.9 1615.4 583.7 1623.2 587.6C1631 591.5 1638.2 598.5 1642.9 606C1647.5 613.5 1649.2 623.5 1650.9 632.6C1652.5 641.7 1652.6 651.2 1652.7 660.5C1652.7 669.8 1652.1 679.2 1651.2 688.5C1650.3 697.8 1649.1 707.1 1647.4 716.2C1645.6 725.4 1643.3 734.4 1640.7 743.4C1638 752.3 1634.8 761.1 1631.4 769.8C1627.9 778.4 1624 786.9 1619.9 795.3C1615.8 803.7 1611.3 811.9 1606.6 819.9C1601.9 828 1596.9 835.9 1591.7 843.7C1586.6 851.4 1581.3 859.1 1575.7 866.6C1570.1 874.1 1564.2 881.3 1558.4 888.6C1552.5 895.9 1546.8 902.8 1540.6 910.3C1534.5 917.7 1527.4 925.7 1521.3 933.3C1515.3 940.8 1509.5 947.7 1504.4 955.5C1499.4 963.3 1495.5 971.9 1490.9 980C1486.3 988.1 1481.4 996.1 1476.6 1004.1C1471.8 1012.1 1466.9 1020.1 1462.1 1028C1457.2 1036 1452.4 1044 1447.4 1051.9C1442.5 1059.8 1437.6 1067.8 1432.5 1075.6C1427.4 1083.5 1422.4 1091.3 1417.1 1099C1411.8 1106.6 1406.2 1114.2 1400.6 1121.6C1394.9 1129 1389 1136.2 1383 1143.4C1377 1150.5 1370.9 1157.6 1364.5 1164.4C1358.2 1171.3 1351.6 1178 1344.7 1184.2C1337.8 1190.4 1330.4 1196.2 1323 1201.8C1315.5 1207.5 1307.9 1212.9 1300.1 1218.1C1292.3 1223.2 1284.3 1228 1276.1 1232.4C1268 1236.9 1259.6 1241.1 1251 1244.8C1242.5 1248.5 1234.1 1252 1224.8 1254.6C1215.6 1257.2 1205 1259.2 1195.4 1260.4C1185.9 1261.6 1176.8 1261.9 1167.5 1261.8C1158.2 1261.7 1148.8 1261.1 1139.6 1259.9C1130.4 1258.7 1121.1 1256.9 1112.1 1254.6C1103.1 1252.3 1094.2 1249.3 1085.5 1246C1076.8 1242.8 1068.2 1239 1059.8 1234.9C1051.4 1230.9 1043.2 1226.4 1035 1221.8C1026.9 1217.3 1018.9 1212.4 1010.9 1207.6C1002.9 1202.8 995.2 1197.6 987 1193C978.9 1188.4 970.6 1184.1 962.3 1180C953.9 1175.8 945.3 1172.2 936.9 1168.1C928.5 1164 920.2 1159.7 911.9 1155.5C903.5 1151.4 895.3 1147 886.8 1143C878.4 1139 869.9 1135.1 861.3 1131.6C852.6 1128.1 843.5 1125.7 834.9 1122.1C826.4 1118.6 816.4 1116.2 809.8 1110.1C803.3 1103.9 796.7 1093.9 795.6 1085.3ZM1113.5 1000C1114.3 990.7 1118.5 982.2 1121.7 973.5C1124.9 964.8 1128.8 956.3 1132.7 947.7C1136.5 939.2 1140.3 931.1 1144.7 922.5C1149.2 913.9 1154.2 904.5 1159.1 896.1C1164 887.8 1168.9 880.2 1174.1 872.4C1179.3 864.7 1184.7 857.1 1190.3 849.6C1195.8 842.1 1201.3 835 1207.5 827.5C1213.7 820.1 1220.6 812 1227.3 805C1233.9 797.9 1240.5 791.8 1247.3 785.4C1254.1 779 1260.9 772.5 1268.2 766.7C1275.5 760.9 1282.9 755.7 1291.1 750.6C1299.2 745.5 1308.5 740.1 1317.2 735.9C1325.9 731.8 1334.6 729 1343.3 725.6C1351.9 722.2 1360.4 719.1 1369.4 715.5C1378.4 712 1388.2 707.9 1397.2 704.2C1406.1 700.4 1414.3 696.7 1422.9 693.1C1431.5 689.5 1440.1 685.9 1448.8 682.5C1457.5 679.2 1466 675.9 1475.1 672.9C1484.3 669.9 1494.8 665.2 1503.9 664.5C1513 663.8 1522.5 664.4 1529.8 668.6C1537.1 672.9 1542.7 682.2 1547.8 689.9C1552.8 697.6 1557.6 705.8 1560 714.9C1562.4 724 1562.8 735 1562.3 744.5C1561.8 754 1559.3 763 1556.8 771.9C1554.2 780.8 1550.7 789.3 1546.7 798.1C1542.7 806.8 1537.6 816.2 1532.8 824.6C1528 833 1523 840.5 1517.8 848.2C1512.5 856 1506.9 863.5 1501.2 870.9C1495.5 878.3 1489.9 885.2 1483.6 892.6C1477.4 900 1470.3 908 1463.8 915.2C1457.4 922.4 1451.2 929 1444.8 935.8C1438.4 942.6 1431.7 949.1 1425.4 956C1419.2 962.9 1413.4 969.8 1407.3 977.3C1401.1 984.8 1394.6 993.2 1388.5 1000.8C1382.5 1008.3 1377 1015.4 1371.1 1022.7C1365.2 1029.9 1359.7 1037.1 1353.3 1044.3C1346.9 1051.6 1339.7 1059.4 1332.7 1066.1C1325.7 1072.7 1318.7 1078.5 1311.3 1084.2C1303.9 1089.9 1296.3 1095.4 1288.3 1100.2C1280.4 1105 1272.4 1109.5 1263.5 1113C1254.6 1116.6 1244.2 1120 1234.8 1121.4C1225.4 1122.9 1216.1 1122.9 1206.9 1121.9C1197.7 1120.8 1188.5 1118.4 1179.8 1115.2C1171.1 1112.1 1162.5 1108.3 1154.7 1102.9C1147 1097.4 1138.7 1090.1 1133.1 1082.5C1127.6 1074.9 1124 1066 1121.3 1057.3C1118.6 1048.5 1118.2 1039.2 1116.9 1029.7C1115.5 1020.2 1112.7 1009.4 1113.5 1000Z" fill="#e6b0a5" fill-opacity="0.30" fill-rule="evenodd"/>
<path d="M1113.5 1000C1114.3 990.7 1118.5 982.2 1121.7 973.5C1124.9 964.8 1128.8 956.3 1132.7 947.7C1136.5 939.2 1140.3 931.1 1144.7 922.5C1149.2 913.9 1154.2 904.5 1159.1 896.1C1164 887.8 1168.9 880.2 1174.1 872.4C1179.3 864.7 1184.7 857.1 1190.3 849.6C1195.8 842.1 1201.3 835 1207.5 827.5C1213.7 820.1 1220.6 812 1227.3 805C1233.9 797.9 1240.5 791.8 1247.3 785.4C1254.1 779 1260.9 772.5 1268.2 766.7C1275.5 760.9 1282.9 755.7 1291.1 750.6C1299.2 745.5 1308.5 740.1 1317.2 735.9C1325.9 731.8 1334.6 729 1343.3 725.6C1351.9 722.2 1360.4 719.1 1369.4 715.5C1378.4 712 1388.2 707.9 1397.2 704.2C1406.1 700.4 1414.3 696.7 1422.9 693.1C1431.5 689.5 1440.1 685.9 1448.8 682.5C1457.5 679.2 1466 675.9 1475.1 672.9C1484.3 669.9 1494.8 665.2 1503.9 664.5C1513 663.8 1522.5 664.4 1529.8 668.6C1537.1 672.9 1542.7 682.2 1547.8 689.9C1552.8 697.6 1557.6 705.8 1560 714.9C1562.4 724 1562.8 735 1562.3 744.5C1561.8 754 1559.3 763 1556.8 771.9C1554.2 780.8 1550.7 789.3 1546.7 798.1C1542.7 806.8 1537.6 816.2 1532.8 824.6C1528 833 1523 840.5 1517.8 848.2C1512.5 856 1506.9 863.5 1501.2 870.9C1495.5 878.3 1489.9 885.2 1483.6 892.6C1477.4 900 1470.3 908 1463.8 915.2C1457.4 922.4 1451.2 929 1444.8 935.8C1438.4 942.6 1431.7 949.1 1425.4 956C1419.2 962.9 1413.4 969.8 1407.3 977.3C1401.1 984.8 1394.6 993.2 1388.5 1000.8C1382.5 1008.3 1377 1015.4 1371.1 1022.7C1365.2 1029.9 1359.7 1037.1 1353.3 1044.3C1346.9 1051.6 1339.7 1059.4 1332.7 1066.1C1325.7 1072.7 1318.7 1078.5 1311.3 1084.2C1303.9 1089.9 1296.3 1095.4 1288.3 1100.2C1280.4 1105 1272.4 1109.5 1263.5 1113C1254.6 1116.6 1244.2 1120 1234.8 1121.4C1225.4 1122.9 1216.1 1122.9 1206.9 1121.9C1197.7 1120.8 1188.5 1118.4 1179.8 1115.2C1171.1 1112.1 1162.5 1108.3 1154.7 1102.9C1147 1097.4 1138.7 1090.1 1133.1 1082.5C1127.6 1074.9 1124 1066 1121.3 1057.3C1118.6 1048.5 1118.2 1039.2 1116.9 1029.7C1115.5 1020.2 1112.7 1009.4 1113.5 1000ZM1162.3 999.8C1161.4 991.1 1166.7 982.3 1169.7 973.6C1172.8 964.9 1176.7 956.3 1180.7 947.8C1184.6 939.3 1188.5 931.2 1193.2 922.7C1197.9 914.3 1203.7 905.2 1208.8 897C1214 888.9 1218.8 881.2 1224.1 873.6C1229.5 865.9 1235.2 858.5 1241.1 851.3C1247 844 1252.9 837.2 1259.5 830.1C1266.1 823 1273.6 815.4 1280.7 808.8C1287.8 802.3 1294.6 796.3 1302.1 790.7C1309.5 785.1 1317.3 779.9 1325.4 775.2C1333.5 770.6 1341.7 766.8 1350.6 762.9C1359.4 759.1 1369.5 755.4 1378.5 751.9C1387.6 748.5 1396 745.4 1404.8 742.2C1413.6 739.1 1423.1 733.2 1431.3 733.1C1439.5 733 1447.8 735.8 1454.2 741.6C1460.5 747.3 1465.6 758.7 1469.5 767.4C1473.4 776.1 1476.8 784.7 1477.7 793.7C1478.6 802.7 1477.1 812.1 1475 821.5C1472.8 830.8 1468.8 840.9 1464.9 849.7C1461.1 858.5 1456.6 866.5 1451.8 874.4C1447 882.4 1441.7 890.2 1436.1 897.7C1430.6 905.2 1424.7 912.1 1418.4 919.4C1412 926.7 1404.8 934.5 1398.1 941.6C1391.4 948.6 1385.1 955 1378.4 961.5C1371.7 968 1364.4 973.9 1357.8 980.5C1351.2 987.1 1345.2 993.8 1338.7 1001C1332.3 1008.2 1326 1017 1319 1023.7C1312.1 1030.3 1304.8 1035.8 1297.1 1041C1289.4 1046.3 1281.4 1051.4 1272.9 1055.1C1264.4 1058.8 1255.6 1062.2 1246.2 1063.1C1236.8 1064 1225.7 1063 1216.6 1060.4C1207.6 1057.8 1198.8 1053.4 1191.9 1047.6C1185 1041.9 1180.3 1033.7 1175.4 1025.8C1170.4 1017.8 1163.2 1008.5 1162.3 999.8Z" fill="#e79580" fill-opacity="0.30" fill-rule="evenodd"/>
<path d="M1162.3 999.8C1161.4 991.1 1166.7 982.3 1169.7 973.6C1172.8 964.9 1176.7 956.3 1180.7 947.8C1184.6 939.3 1188.5 931.2 1193.2 922.7C1197.9 914.3 1203.7 905.2 1208.8 897C1214 888.9 1218.8 881.2 1224.1 873.6C1229.5 865.9 1235.2 858.5 1241.1 851.3C1247 844 1252.9 837.2 1259.5 830.1C1266.1 823 1273.6 815.4 1280.7 808.8C1287.8 802.3 1294.6 796.3 1302.1 790.7C1309.5 785.1 1317.3 779.9 1325.4 775.2C1333.5 770.6 1341.7 766.8 1350.6 762.9C1359.4 759.1 1369.5 755.4 1378.5 751.9C1387.6 748.5 1396 745.4 1404.8 742.2C1413.6 739.1 1423.1 733.2 1431.3 733.1C1439.5 733 1447.8 735.8 1454.2 741.6C1460.5 747.3 1465.6 758.7 1469.5 767.4C1473.4 776.1 1476.8 784.7 1477.7 793.7C1478.6 802.7 1477.1 812.1 1475 821.5C1472.8 830.8 1468.8 840.9 1464.9 849.7C1461.1 858.5 1456.6 866.5 1451.8 874.4C1447 882.4 1441.7 890.2 1436.1 897.7C1430.6 905.2 1424.7 912.1 1418.4 919.4C1412 926.7 1404.8 934.5 1398.1 941.6C1391.4 948.6 1385.1 955 1378.4 961.5C1371.7 968 1364.4 973.9 1357.8 980.5C1351.2 987.1 1345.2 993.8 1338.7 1001C1332.3 1008.2 1326 1017 1319 1023.7C1312.1 1030.3 1304.8 1035.8 1297.1 1041C1289.4 1046.3 1281.4 1051.4 1272.9 1055.1C1264.4 1058.8 1255.6 1062.2 1246.2 1063.1C1236.8 1064 1225.7 1063 1216.6 1060.4C1207.6 1057.8 1198.8 1053.4 1191.9 1047.6C1185 1041.9 1180.3 1033.7 1175.4 1025.8C1170.4 1017.8 1163.2 1008.5 1162.3 999.8Z" fill="#dc8068" fill-opacity="0.30"/>
<path d="M1241.6 660.1C1232.2 662 1223.3 663.4 1214 664.9C1204.8 666.4 1195.6 667.8 1186.3 669C1177.1 670.3 1167.8 671.5 1158.5 672.3C1149.2 673.2 1139.9 674 1130.6 674.3C1121.3 674.5 1111.9 674.1 1102.6 673.8C1093.3 673.6 1083.9 672.6 1074.6 672.7C1065.3 672.9 1055.9 673.1 1046.8 674.7C1037.7 676.4 1028.7 679.3 1020 682.6C1011.3 685.9 1002.8 690.1 994.7 694.6C986.6 699.2 978.9 704.6 971.4 710.1C963.9 715.6 956.2 721.2 949.7 727.7C943.1 734.3 936.7 741.4 932.2 749.4C927.7 757.3 923.3 766.6 922.4 775.4C921.5 784.2 923.5 793.9 926.8 802.2C930.1 810.5 939.6 816.8 942.3 825.2C945 833.6 943.4 843 943.1 852.4C942.7 861.9 937.9 873.6 940.2 882C942.4 890.3 949.2 898.1 956.5 902.4C963.8 906.7 974.5 906.7 983.7 907.7C992.9 908.8 1004.1 905.9 1011.7 908.4C1019.2 911 1027.7 916.4 1029.1 923.3C1030.5 930.1 1020 941.5 1020 949.3C1020 957.1 1023.3 964.8 1029.1 970.1C1034.8 975.5 1045.7 979 1054.5 981.5C1063.4 984.1 1073.5 982.5 1082 985.5C1090.5 988.6 1099.5 993.4 1105.5 999.8C1111.6 1006.3 1115.6 1015.5 1118.4 1024.1C1121.1 1032.8 1120.6 1042.6 1122.1 1051.8C1123.6 1060.9 1124.5 1070.2 1127.2 1079.1C1130 1087.9 1134.8 1096.2 1138.4 1104.7C1142.1 1113.3 1147.4 1121.7 1149.2 1130.5C1151 1139.4 1147.1 1149.4 1149.2 1157.8C1151.3 1166.3 1155 1177.1 1161.8 1181.1C1168.6 1185.2 1181.1 1184 1190 1182.2C1199 1180.3 1206.9 1174.2 1215.3 1170.2C1223.7 1166.2 1231.9 1161.1 1240.5 1158.1C1249.2 1155.2 1259 1151.4 1267.5 1152.6C1276 1153.7 1283.9 1160.3 1291.5 1165.2C1299.2 1170.1 1305.3 1178.7 1313.5 1182C1321.7 1185.2 1332 1185.9 1340.9 1184.7C1349.8 1183.5 1358.9 1179.5 1366.8 1174.9C1374.7 1170.4 1381.1 1163.1 1388.4 1157.3C1395.7 1151.5 1402.5 1144.5 1410.5 1140.2C1418.6 1135.9 1427.8 1133 1436.8 1131.3C1445.8 1129.7 1456.5 1132.8 1464.7 1130.4C1472.9 1127.9 1480.4 1123.2 1486.1 1116.8C1491.7 1110.4 1494.5 1100.1 1498.7 1091.8C1502.9 1083.5 1506.7 1074.9 1511.3 1066.8C1515.9 1058.7 1521.1 1051 1526.2 1043.1C1531.3 1035.3 1536.2 1027.7 1541.7 1019.8C1547.2 1011.8 1553.3 1003.1 1559.1 995.4C1564.9 987.6 1570.4 980.4 1576.5 973.4C1582.6 966.4 1588.8 959.1 1595.9 953.2C1602.9 947.3 1612.2 944.1 1618.9 938C1625.6 932 1631.3 924.8 1636 917C1640.7 909.2 1643.8 900 1647.3 891.4C1650.9 882.8 1654.5 874.1 1657.4 865.3C1660.2 856.4 1662.4 847.3 1664.3 838.2C1666.3 829 1667.9 819.8 1669.3 810.6C1670.7 801.4 1671.7 792.1 1672.6 782.8C1673.5 773.5 1674.1 764.2 1674.6 754.9C1675.2 745.5 1675.6 736.2 1675.9 726.9C1676.2 717.6 1676.3 708.2 1676.5 698.9C1676.6 689.5 1676.6 680.2 1676.7 670.9C1676.8 661.5 1676.8 652.2 1677 642.9C1677.3 633.5 1677.5 624.2 1678.3 614.9C1679.1 605.6 1682.4 596.6 1681.6 587.2C1680.8 577.8 1677.7 567 1673.5 558.7C1669.3 550.3 1663.2 542.8 1656.2 537.1C1649.2 531.5 1640.1 527.6 1631.3 524.8C1622.6 522.1 1613 521 1603.7 520.4C1594.5 519.8 1585 519.9 1575.9 521.2C1566.7 522.4 1557.6 525.1 1548.7 527.9C1539.8 530.6 1530.9 533.6 1522.4 537.4C1513.9 541.3 1505.7 545.9 1497.9 550.9C1490 555.9 1482.8 561.8 1475.3 567.4C1467.9 573.1 1460.9 579.3 1453.2 584.6C1445.6 589.9 1437.5 594.7 1429.4 599.3C1421.2 603.8 1412.8 607.8 1404.3 611.7C1395.8 615.6 1387.2 619.1 1378.4 622.4C1369.7 625.7 1360.9 628.7 1352 631.6C1343.1 634.5 1334.1 637.1 1325.2 639.7C1316.2 642.2 1307.2 644.8 1298.2 647.1C1289.1 649.5 1280.4 651.6 1271 653.8C1261.5 655.9 1251.1 658.3 1241.6 660.1ZM1313.9 990.2C1304.8 992.3 1295.2 992.2 1286.3 990.4C1277.5 988.5 1269.2 983.2 1260.7 979.2C1252.3 975.3 1243.6 971.5 1235.7 966.6C1227.8 961.7 1219.7 956.6 1213.5 949.8C1207.3 943.1 1203 934.4 1198.7 926.2C1194.4 918 1190.6 909.3 1187.7 900.5C1184.7 891.7 1181.4 882.5 1180.9 873.4C1180.4 864.4 1182.1 855.1 1184.8 846C1187.4 836.8 1192.9 827.3 1196.9 818.6C1200.9 809.8 1205.6 801.9 1208.7 793.2C1211.8 784.5 1211.9 774.5 1215.5 766.1C1219 757.6 1224.1 749.6 1230 742.6C1235.9 735.5 1243.3 729.5 1250.7 724C1258.1 718.4 1266.2 713.7 1274.4 709.2C1282.6 704.8 1291.4 701.5 1299.9 697.6C1308.3 693.6 1316.4 689.6 1325.1 685.5C1333.9 681.3 1343.6 676.8 1352.3 672.8C1361.1 668.7 1369.3 665 1377.9 661.2C1386.4 657.4 1395 653.8 1403.6 650.1C1412.2 646.4 1420.8 642.7 1429.3 638.8C1437.8 634.9 1446.2 631 1454.6 626.8C1462.9 622.6 1471.1 618 1479.3 613.6C1487.6 609.2 1495.7 604.7 1504.1 600.4C1512.4 596.2 1520.7 592 1529.2 588.1C1537.7 584.2 1546 580.5 1555 577.2C1564.1 573.9 1574.3 570.4 1583.6 568.1C1593 565.9 1602.1 563.9 1611.3 563.8C1620.4 563.6 1630.9 563.5 1638.8 567.2C1646.6 570.8 1654.3 578 1658.1 585.6C1661.9 593.3 1661.7 603.8 1661.8 613.1C1662 622.3 1660.2 631.7 1659.1 640.9C1658.1 650.2 1656.7 659.5 1655.5 668.7C1654.3 678 1653 686.9 1651.8 696.5C1650.6 706.1 1649.7 716.8 1648.5 726.4C1647.3 736 1646.2 744.9 1644.6 754.1C1642.9 763.3 1641 772.5 1638.6 781.5C1636.2 790.5 1633.4 799.5 1630.2 808.2C1626.9 816.9 1623.2 825.6 1619 833.9C1614.7 842.2 1609.9 850.2 1604.9 858.1C1599.8 865.9 1594.3 873.6 1588.7 881C1583.1 888.4 1578.3 897.3 1571.1 902.4C1563.8 907.5 1554.4 909.8 1545.1 911.7C1535.8 913.6 1524.8 913.2 1515.2 914C1505.5 914.8 1496.5 915 1487.3 916.4C1478.1 917.9 1469 921.1 1459.9 922.5C1450.9 923.9 1441.7 924.3 1432.9 925C1424.1 925.6 1415 923.1 1407.2 926.3C1399.4 929.6 1393.2 938.5 1386 944.5C1378.9 950.5 1371.8 956.7 1364.3 962.3C1356.8 967.8 1349.5 973.2 1341.1 977.9C1332.7 982.5 1323 988.1 1313.9 990.2Z" fill="#e2b6b9" fill-opacity="0.40" fill-rule="evenodd"/>
<path d="M1313.9 990.2C1304.8 992.3 1295.2 992.2 1286.3 990.4C1277.5 988.5 1269.2 983.2 1260.7 979.2C1252.3 975.3 1243.6 971.5 1235.7 966.6C1227.8 961.7 1219.7 956.6 1213.5 949.8C1207.3 943.1 1203 934.4 1198.7 926.2C1194.4 918 1190.6 909.3 1187.7 900.5C1184.7 891.7 1181.4 882.5 1180.9 873.4C1180.4 864.4 1182.1 855.1 1184.8 846C1187.4 836.8 1192.9 827.3 1196.9 818.6C1200.9 809.8 1205.6 801.9 1208.7 793.2C1211.8 784.5 1211.9 774.5 1215.5 766.1C1219 757.6 1224.1 749.6 1230 742.6C1235.9 735.5 1243.3 729.5 1250.7 724C1258.1 718.4 1266.2 713.7 1274.4 709.2C1282.6 704.8 1291.4 701.5 1299.9 697.6C1308.3 693.6 1316.4 689.6 1325.1 685.5C1333.9 681.3 1343.6 676.8 1352.3 672.8C1361.1 668.7 1369.3 665 1377.9 661.2C1386.4 657.4 1395 653.8 1403.6 650.1C1412.2 646.4 1420.8 642.7 1429.3 638.8C1437.8 634.9 1446.2 631 1454.6 626.8C1462.9 622.6 1471.1 618 1479.3 613.6C1487.6 609.2 1495.7 604.7 1504.1 600.4C1512.4 596.2 1520.7 592 1529.2 588.1C1537.7 584.2 1546 580.5 1555 577.2C1564.1 573.9 1574.3 570.4 1583.6 568.1C1593 565.9 1602.1 563.9 1611.3 563.8C1620.4 563.6 1630.9 563.5 1638.8 567.2C1646.6 570.8 1654.3 578 1658.1 585.6C1661.9 593.3 1661.7 603.8 1661.8 613.1C1662 622.3 1660.2 631.7 1659.1 640.9C1658.1 650.2 1656.7 659.5 1655.5 668.7C1654.3 678 1653 686.9 1651.8 696.5C1650.6 706.1 1649.7 716.8 1648.5 726.4C1647.3 736 1646.2 744.9 1644.6 754.1C1642.9 763.3 1641 772.5 1638.6 781.5C1636.2 790.5 1633.4 799.5 1630.2 808.2C1626.9 816.9 1623.2 825.6 1619 833.9C1614.7 842.2 1609.9 850.2 1604.9 858.1C1599.8 865.9 1594.3 873.6 1588.7 881C1583.1 888.4 1578.3 897.3 1571.1 902.4C1563.8 907.5 1554.4 909.8 1545.1 911.7C1535.8 913.6 1524.8 913.2 1515.2 914C1505.5 914.8 1496.5 915 1487.3 916.4C1478.1 917.9 1469 921.1 1459.9 922.5C1450.9 923.9 1441.7 924.3 1432.9 925C1424.1 925.6 1415 923.1 1407.2 926.3C1399.4 929.6 1393.2 938.5 1386 944.5C1378.9 950.5 1371.8 956.7 1364.3 962.3C1356.8 967.8 1349.5 973.2 1341.1 977.9C1332.7 982.5 1323 988.1 1313.9 990.2ZM1317 876.5C1307.5 875.7 1298 874 1289.9 870.2C1281.8 866.4 1272.1 860.8 1268.4 853.6C1264.7 846.4 1265.8 835.5 1267.9 827C1269.9 818.4 1275.9 810.1 1280.7 802.2C1285.6 794.3 1291.3 786.8 1296.9 779.3C1302.5 771.9 1308 764.3 1314.3 757.4C1320.5 750.5 1327.3 744 1334.4 738C1341.6 732 1349.3 726.7 1357 721.4C1364.7 716.2 1372.4 710.8 1380.5 706.3C1388.7 701.9 1397.5 698.5 1406 694.6C1414.5 690.8 1423.1 687.1 1431.6 683.3C1440.2 679.6 1448.8 675.9 1457.3 672.1C1465.7 668.2 1474.2 664.2 1482.6 660C1490.9 655.9 1499 651.2 1507.3 646.9C1515.6 642.6 1523.8 638.1 1532.3 634.2C1540.8 630.3 1549.3 626.4 1558.2 623.6C1567 620.8 1576.3 617.8 1585.4 617.4C1594.4 617 1605.8 616.7 1612.4 621.1C1619 625.6 1623.2 635.6 1625.1 644C1627 652.5 1624.7 662.6 1623.9 671.9C1623.1 681.2 1621.4 690.4 1620.3 699.7C1619.1 709 1618.3 718.3 1617 727.5C1615.8 736.8 1614.7 746.1 1612.7 755.2C1610.8 764.3 1608.5 773.4 1605.3 782.2C1602.2 790.9 1598.4 799.5 1593.9 807.7C1589.5 815.9 1584.5 824 1578.8 831.3C1573.2 838.6 1567.6 847.1 1560 851.5C1552.4 856 1542.4 856.6 1533.3 858.2C1524.2 859.7 1514.4 860.4 1505.4 860.9C1496.4 861.3 1485.8 864.8 1479.1 860.9C1472.4 857.1 1470.9 843.9 1465.1 837.6C1459.4 831.4 1452 823.4 1444.7 823.4C1437.4 823.4 1429.1 832.6 1421.4 837.6C1413.7 842.6 1406.4 848.8 1398.4 853.6C1390.4 858.3 1382.1 862.8 1373.5 866.3C1364.9 869.8 1356.3 873 1346.9 874.7C1337.5 876.4 1326.5 877.2 1317 876.5Z" fill="#e1a9ad" fill-opacity="0.40" fill-rule="evenodd"/>
<path d="M1317 876.5C1307.5 875.7 1298 874 1289.9 870.2C1281.8 866.4 1272.1 860.8 1268.4 853.6C1264.7 846.4 1265.8 835.5 1267.9 827C1269.9 818.4 1275.9 810.1 1280.7 802.2C1285.6 794.3 1291.3 786.8 1296.9 779.3C1302.5 771.9 1308 764.3 1314.3 757.4C1320.5 750.5 1327.3 744 1334.4 738C1341.6 732 1349.3 726.7 1357 721.4C1364.7 716.2 1372.4 710.8 1380.5 706.3C1388.7 701.9 1397.5 698.5 1406 694.6C1414.5 690.8 1423.1 687.1 1431.6 683.3C1440.2 679.6 1448.8 675.9 1457.3 672.1C1465.7 668.2 1474.2 664.2 1482.6 660C1490.9 655.9 1499 651.2 1507.3 646.9C1515.6 642.6 1523.8 638.1 1532.3 634.2C1540.8 630.3 1549.3 626.4 1558.2 623.6C1567 620.8 1576.3 617.8 1585.4 617.4C1594.4 617 1605.8 616.7 1612.4 621.1C1619 625.6 1623.2 635.6 1625.1 644C1627 652.5 1624.7 662.6 1623.9 671.9C1623.1 681.2 1621.4 690.4 1620.3 699.7C1619.1 709 1618.3 718.3 1617 727.5C1615.8 736.8 1614.7 746.1 1612.7 755.2C1610.8 764.3 1608.5 773.4 1605.3 782.2C1602.2 790.9 1598.4 799.5 1593.9 807.7C1589.5 815.9 1584.5 824 1578.8 831.3C1573.2 838.6 1567.6 847.1 1560 851.5C1552.4 856 1542.4 856.6 1533.3 858.2C1524.2 859.7 1514.4 860.4 1505.4 860.9C1496.4 861.3 1485.8 864.8 1479.1 860.9C1472.4 857.1 1470.9 843.9 1465.1 837.6C1459.4 831.4 1452 823.4 1444.7 823.4C1437.4 823.4 1429.1 832.6 1421.4 837.6C1413.7 842.6 1406.4 848.8 1398.4 853.6C1390.4 858.3 1382.1 862.8 1373.5 866.3C1364.9 869.8 1356.3 873 1346.9 874.7C1337.5 876.4 1326.5 877.2 1317 876.5ZM1397.9 813.3C1389 815.1 1377 815.7 1371 811.4C1365 807.1 1361.4 795.6 1361.9 787.5C1362.4 779.5 1368.1 769.9 1374 762.9C1380 755.9 1389.2 748.7 1397.7 745.4C1406.2 742.1 1416 743.1 1425.1 742.9C1434.3 742.7 1444.3 746.8 1452.7 744.1C1461.2 741.3 1468.9 732.8 1476 726.4C1483 720.1 1488.2 712.1 1495.1 706C1502.1 699.8 1509.4 694.5 1517.6 689.6C1525.9 684.7 1535.6 679.6 1544.6 676.4C1553.5 673.3 1564.2 668.8 1571.5 670.8C1578.8 672.8 1585.8 680.6 1588.3 688.6C1590.7 696.5 1587.4 708.8 1586.4 718.4C1585.5 728 1584.5 737 1582.3 746.1C1580.1 755.1 1577.8 764.1 1573.2 772.4C1568.7 780.7 1562.5 790.6 1555.2 795.9C1547.8 801.2 1538 803.1 1529.1 804.3C1520.2 805.4 1510.9 805.3 1501.9 802.8C1492.9 800.4 1484 792.6 1475 789.7C1466 786.9 1456.4 784.1 1448 785.8C1439.6 787.6 1433 795.7 1424.6 800.3C1416.3 804.9 1406.8 811.4 1397.9 813.3Z" fill="#de7a84" fill-opacity="0.40" fill-rule="evenodd"/>
<path d="M1397.9 813.3C1389 815.1 1377 815.7 1371 811.4C1365 807.1 1361.4 795.6 1361.9 787.5C1362.4 779.5 1368.1 769.9 1374 762.9C1380 755.9 1389.2 748.7 1397.7 745.4C1406.2 742.1 1416 743.1 1425.1 742.9C1434.3 742.7 1444.3 746.8 1452.7 744.1C1461.2 741.3 1468.9 732.8 1476 726.4C1483 720.1 1488.2 712.1 1495.1 706C1502.1 699.8 1509.4 694.5 1517.6 689.6C1525.9 684.7 1535.6 679.6 1544.6 676.4C1553.5 673.3 1564.2 668.8 1571.5 670.8C1578.8 672.8 1585.8 680.6 1588.3 688.6C1590.7 696.5 1587.4 708.8 1586.4 718.4C1585.5 728 1584.5 737 1582.3 746.1C1580.1 755.1 1577.8 764.1 1573.2 772.4C1568.7 780.7 1562.5 790.6 1555.2 795.9C1547.8 801.2 1538 803.1 1529.1 804.3C1520.2 805.4 1510.9 805.3 1501.9 802.8C1492.9 800.4 1484 792.6 1475 789.7C1466 786.9 1456.4 784.1 1448 785.8C1439.6 787.6 1433 795.7 1424.6 800.3C1416.3 804.9 1406.8 811.4 1397.9 813.3Z" fill="#b34c57" fill-opacity="0.40"/>
<path d="M1245.6 752.6C1252.3 745.7 1259.3 739.9 1266.7 734.4C1274.2 728.8 1282.2 724 1290.3 719.4C1298.3 714.7 1307.4 711.6 1314.9 706.4C1322.5 701.3 1329.3 695 1335.6 688.4C1342 681.8 1346.9 673.6 1353.2 666.8C1359.6 660.1 1366.8 654.2 1373.7 647.9C1380.5 641.6 1387.6 635.4 1394.3 629C1401 622.5 1407.3 616 1414.2 609.2C1421 602.4 1428.5 594.7 1435.5 588.1C1442.5 581.4 1449.2 575.3 1456.3 569.3C1463.4 563.3 1470.8 557.4 1478.3 552C1485.9 546.5 1493.5 541.1 1501.6 536.5C1509.7 531.9 1518 527.6 1526.7 524.3C1535.3 521 1544.4 518.2 1553.5 516.8C1562.6 515.4 1572.1 514.9 1581.1 516C1590.2 517.1 1599.1 519.5 1607.7 523.5C1616.2 527.4 1625.3 533.5 1632.3 539.8C1639.4 546.1 1644.9 553.4 1650.1 561.1C1655.3 568.7 1659.5 577.2 1663.4 585.6C1667.3 594 1670.5 602.9 1673.6 611.7C1676.7 620.5 1679.5 629.4 1681.9 638.4C1684.3 647.4 1686.3 656.6 1688 665.7C1689.7 674.9 1690.9 684.2 1691.8 693.5C1692.7 702.8 1693.2 711.8 1693.3 721.4C1693.4 731.1 1693.1 741.8 1692.5 751.4C1691.9 761.1 1691 770 1689.9 779.3C1688.8 788.6 1687.4 797.8 1685.8 807C1684.2 816.2 1682.2 825.4 1680.3 834.5C1678.4 843.6 1676.3 852.7 1674.3 861.9C1672.2 871 1670.2 880.1 1668 889.1C1665.7 898.2 1663.2 907.2 1660.6 916.2C1657.9 925.1 1655.3 933.7 1652.1 942.9C1648.8 952 1645 961.9 1641.3 970.9C1637.5 979.8 1633.9 988 1629.7 996.4C1625.5 1004.7 1621 1012.9 1616.2 1020.9C1611.5 1028.9 1606.5 1036.9 1601.1 1044.4C1595.6 1052 1589.9 1059.5 1583.7 1066.4C1577.5 1073.3 1570.9 1080 1563.9 1086.1C1556.8 1092.1 1549.3 1097.8 1541.5 1102.8C1533.7 1107.8 1525.8 1112.3 1516.9 1115.9C1508 1119.4 1497.7 1122.6 1488.3 1124.1C1478.9 1125.5 1469.6 1125.7 1460.6 1124.6C1451.6 1123.4 1442.4 1119.8 1434.2 1117.1C1425.9 1114.3 1418.5 1108 1410.9 1108.1C1403.3 1108.2 1396.4 1113.9 1388.6 1117.7C1380.8 1121.5 1372.8 1127.7 1364.3 1131C1355.8 1134.3 1346.7 1136.5 1337.5 1137.6C1328.4 1138.7 1319.3 1138.2 1309.7 1137.6C1300 1137 1289.4 1135.3 1279.9 1134C1270.4 1132.6 1261.2 1131.5 1252.6 1129.3C1244 1127.1 1235.4 1125.4 1228.2 1120.7C1221.1 1115.9 1215.1 1107.9 1209.8 1100.5C1204.5 1093.2 1199.3 1085 1196.5 1076.5C1193.8 1068 1193.9 1058.6 1193.5 1049.4C1193 1040.3 1194.1 1030.8 1194 1021.5C1193.9 1012.2 1193.3 1003.2 1192.7 993.5C1192 983.9 1190.7 973.3 1190.1 963.6C1189.5 954 1189 945 1188.8 935.6C1188.6 926.3 1188.7 916.9 1189 907.6C1189.2 898.3 1189.7 888.9 1190.5 879.6C1191.3 870.3 1192.1 861 1193.7 851.8C1195.3 842.7 1196.9 833.4 1200 824.7C1203 816 1207.4 807.7 1211.9 799.5C1216.4 791.4 1221.3 783.8 1227 776C1232.6 768.1 1239 759.6 1245.6 752.6ZM1379.5 728.1C1386.9 722 1393.8 716.2 1400.5 709.8C1407.2 703.3 1413.4 696.2 1419.7 689.4C1426 682.5 1432.2 675.5 1438.5 668.6C1444.8 661.7 1451.1 654.8 1457.6 648.1C1464.1 641.4 1470.7 634.8 1477.6 628.6C1484.5 622.3 1491.6 616.2 1499 610.4C1506.3 604.7 1513.8 599 1521.7 594.1C1529.6 589.2 1537.7 584.2 1546.3 581C1554.8 577.9 1564.2 575 1572.9 575.4C1581.6 575.7 1591.1 578.4 1598.4 582.9C1605.8 587.4 1612 595 1617.1 602.4C1622.2 609.9 1625.5 619 1629 627.6C1632.4 636.2 1635.2 645.2 1637.8 654.2C1640.3 663.1 1642.5 672.2 1644.2 681.4C1645.9 690.5 1647.2 699.8 1648 709.1C1648.9 718.4 1649.1 727.7 1649.1 737.1C1649.1 746.4 1648.7 755.7 1648 765C1647.3 774.3 1646.2 783.6 1644.9 792.9C1643.6 802.1 1642.7 811.6 1640.2 820.4C1637.7 829.1 1633.6 837 1629.8 845.1C1626 853.2 1620.7 860.6 1617.3 869C1614 877.5 1612.2 886.8 1609.4 895.7C1606.7 904.6 1603.8 913.5 1600.6 922.3C1597.4 931.1 1594.1 939.8 1590.2 948.3C1586.4 956.8 1582.2 965.2 1577.5 973.2C1572.8 981.2 1567.7 989.2 1562 996.4C1556.2 1003.7 1549.9 1010.8 1543 1016.8C1536 1022.9 1528.4 1028.8 1520.3 1032.7C1512.1 1036.6 1502.9 1039.8 1494.1 1040.4C1485.3 1040.9 1475.8 1039 1467.4 1036C1459 1032.9 1451.1 1027.3 1443.6 1021.9C1436.1 1016.5 1429.8 1009.3 1422.6 1003.5C1415.4 997.7 1408.3 990.8 1400.3 987.1C1392.3 983.4 1383 980.4 1374.7 981.2C1366.3 982 1357.9 986.9 1350.4 991.8C1342.9 996.6 1336.8 1005.3 1329.7 1010.3C1322.5 1015.3 1314 1022.1 1307.4 1021.8C1300.9 1021.5 1294.2 1015.1 1290.6 1008.4C1286.9 1001.7 1286.6 990.8 1285.6 981.7C1284.6 972.5 1284.1 963 1284.7 953.8C1285.3 944.5 1287 935.3 1289.2 926.3C1291.3 917.4 1295.5 908.8 1297.8 899.9C1300.2 890.9 1301.8 881.8 1303.4 872.6C1305 863.4 1305.7 854.1 1307.5 844.9C1309.3 835.8 1311.4 826.7 1314.2 817.8C1316.9 808.9 1320.2 800.1 1324.1 791.6C1328 783.2 1332.4 774.9 1337.7 767.3C1343 759.8 1348.9 752.8 1355.8 746.3C1362.8 739.8 1372.1 734.2 1379.5 728.1Z" fill="#e5b3c5" fill-opacity="0.50" fill-rule="evenodd"/>
<path d="M1379.8 728.6C1387.4 722.6 1394 716.5 1400.7 709.9C1407.3 703.4 1413.4 696.3 1419.7 689.4C1426 682.5 1432.2 675.5 1438.5 668.6C1444.8 661.7 1451 654.7 1457.5 648C1464 641.3 1470.6 634.7 1477.5 628.4C1484.4 622.1 1491.5 616 1498.8 610.2C1506.2 604.5 1513.7 598.8 1521.5 593.9C1529.4 588.9 1537.4 583.7 1546 580.3C1554.6 577 1564.1 573.6 1573 573.8C1581.8 574 1591.7 576.9 1599.2 581.6C1606.7 586.3 1612.9 594.3 1617.9 601.9C1622.9 609.6 1625.8 618.8 1629.2 627.5C1632.5 636.2 1635.5 645.1 1638 654.1C1640.6 663.1 1642.8 672.2 1644.5 681.3C1646.2 690.5 1647.5 699.8 1648.3 709.1C1649.2 718.4 1649.4 727.7 1649.3 737.1C1649.3 746.4 1649 755.8 1648.3 765.1C1647.5 774.4 1646.3 783.6 1645 792.9C1643.7 802.1 1643 811.8 1640.5 820.5C1638.1 829.3 1634.2 837.4 1630.3 845.4C1626.3 853.5 1620.3 860.3 1616.8 868.7C1613.4 877.1 1612.2 886.8 1609.6 895.8C1606.9 904.7 1603.9 913.6 1600.8 922.4C1597.6 931.1 1594.3 939.9 1590.5 948.4C1586.6 956.9 1582.5 965.3 1577.8 973.4C1573.1 981.4 1568.1 989.4 1562.4 996.7C1556.6 1004.1 1550.3 1011.1 1543.3 1017.2C1536.4 1023.4 1528.8 1029.4 1520.7 1033.5C1512.5 1037.5 1503.1 1041.1 1494.2 1041.7C1485.3 1042.3 1475.5 1040.2 1467 1037C1458.5 1033.7 1450.6 1028 1443.2 1022.4C1435.8 1016.8 1429.9 1009.4 1422.8 1003.3C1415.7 997.2 1408.8 990.1 1400.8 986.1C1392.7 982.1 1383 978.5 1374.5 979.3C1366 980.2 1357.3 985.8 1349.9 991C1342.5 996.3 1337.1 1005 1330 1010.7C1322.8 1016.4 1314 1025.5 1307.1 1025.3C1300.3 1025.1 1292.7 1016.7 1289.1 1009.4C1285.4 1002.1 1286.2 991 1285.4 981.7C1284.6 972.4 1283.6 963 1284.2 953.7C1284.7 944.5 1286.2 935.1 1288.6 926.2C1291 917.2 1296.1 909 1298.6 900.1C1301.1 891.2 1302.1 881.8 1303.5 872.6C1304.9 863.4 1305.4 854 1307.2 844.9C1308.9 835.7 1311.1 826.6 1313.9 817.7C1316.6 808.8 1319.8 799.9 1323.7 791.5C1327.6 783 1332 774.6 1337.3 767C1342.6 759.4 1348.3 752.2 1355.4 745.8C1362.4 739.4 1372.3 734.6 1379.8 728.6ZM1517.9 975.2C1509.2 977.7 1498.8 977.5 1490.6 974.5C1482.4 971.6 1474.7 964.6 1468.8 957.7C1462.9 950.9 1458.6 942 1455 933.5C1451.4 925 1449.3 915.8 1447.1 906.7C1445 897.6 1443.7 888.3 1442.1 879.2C1440.5 870 1439.9 860.4 1437.4 851.6C1434.9 842.7 1431.5 833.8 1427 825.8C1422.4 817.8 1414.1 811.5 1410 803.6C1406 795.7 1400.8 785.9 1402.7 778.4C1404.5 770.8 1414.4 764.6 1421.1 758.2C1427.7 751.9 1435.8 746.7 1442.6 740.3C1449.4 733.9 1455.5 726.8 1461.9 720C1468.3 713.2 1474.3 706.1 1480.8 699.4C1487.4 692.8 1493.7 686.3 1501 680C1508.3 673.7 1516.6 666.8 1524.7 661.6C1532.8 656.5 1540.9 651 1549.6 649.2C1558.2 647.4 1569 647.3 1576.6 650.8C1584.3 654.3 1590.7 662.8 1595.7 670.3C1600.6 677.9 1603.4 687.3 1606.3 696.2C1609.1 705 1611.2 714.2 1612.8 723.4C1614.3 732.6 1615.2 741.9 1615.6 751.2C1615.9 760.5 1615.8 770 1614.7 779.2C1613.5 788.4 1611.1 797.5 1608.6 806.4C1606.1 815.4 1602.3 824 1599.4 832.9C1596.6 841.8 1594.3 850.9 1591.7 859.8C1589 868.8 1586.6 877.8 1583.5 886.6C1580.5 895.4 1577.2 904.2 1573.2 912.6C1569.3 921.1 1565.1 929.5 1560 937.3C1554.9 945 1549.7 952.9 1542.7 959.2C1535.7 965.5 1526.5 972.6 1517.9 975.2Z" fill="#e5a1ba" fill-opacity="0.50" fill-rule="evenodd"/>
<path d="M1517.9 975.2C1509.2 977.7 1498.8 977.5 1490.6 974.5C1482.4 971.6 1474.7 964.6 1468.8 957.7C1462.9 950.9 1458.6 942 1455 933.5C1451.4 925 1449.3 915.8 1447.1 906.7C1445 897.6 1443.7 888.3 1442.1 879.2C1440.5 870 1439.9 860.4 1437.4 851.6C1434.9 842.7 1431.5 833.8 1427 825.8C1422.4 817.8 1414.1 811.5 1410 803.6C1406 795.7 1400.8 785.9 1402.7 778.4C1404.5 770.8 1414.4 764.6 1421.1 758.2C1427.7 751.9 1435.8 746.7 1442.6 740.3C1449.4 733.9 1455.5 726.8 1461.9 720C1468.3 713.2 1474.3 706.1 1480.8 699.4C1487.4 692.8 1493.7 686.3 1501 680C1508.3 673.7 1516.6 666.8 1524.7 661.6C1532.8 656.5 1540.9 651 1549.6 649.2C1558.2 647.4 1569 647.3 1576.6 650.8C1584.3 654.3 1590.7 662.8 1595.7 670.3C1600.6 677.9 1603.4 687.3 1606.3 696.2C1609.1 705 1611.2 714.2 1612.8 723.4C1614.3 732.6 1615.2 741.9 1615.6 751.2C1615.9 760.5 1615.8 770 1614.7 779.2C1613.5 788.4 1611.1 797.5 1608.6 806.4C1606.1 815.4 1602.3 824 1599.4 832.9C1596.6 841.8 1594.3 850.9 1591.7 859.8C1589 868.8 1586.6 877.8 1583.5 886.6C1580.5 895.4 1577.2 904.2 1573.2 912.6C1569.3 921.1 1565.1 929.5 1560 937.3C1554.9 945 1549.7 952.9 1542.7 959.2C1535.7 965.5 1526.5 972.6 1517.9 975.2ZM1523.9 899.5C1516.1 900.3 1506.2 894.2 1500.5 888C1494.7 881.9 1492.3 871.8 1489.4 862.6C1486.6 853.5 1486.4 842.3 1483.5 833.3C1480.5 824.2 1473.4 816.8 1471.6 808.2C1469.8 799.7 1469 789.6 1472.6 782.1C1476.1 774.5 1486 769.6 1492.8 762.8C1499.6 756 1506.4 747.6 1513.6 741.2C1520.7 734.7 1527.6 727.3 1535.6 724.1C1543.6 720.9 1554.8 718.4 1561.7 722.1C1568.7 725.9 1573.8 737.9 1577.2 746.5C1580.5 755.2 1581.7 764.5 1582 774C1582.3 783.5 1580.9 794.3 1579 803.7C1577.1 813.1 1573.6 821.2 1570.6 830.4C1567.7 839.6 1565.1 850.1 1561.2 858.8C1557.3 867.6 1553.7 876.3 1547.5 883.1C1541.3 889.9 1531.7 898.7 1523.9 899.5Z" fill="#e2659c" fill-opacity="0.50" fill-rule="evenodd"/>
<path d="M1523.9 899.5C1516.1 900.3 1506.2 894.2 1500.5 888C1494.7 881.9 1492.3 871.8 1489.4 862.6C1486.6 853.5 1486.4 842.3 1483.5 833.3C1480.5 824.2 1473.4 816.8 1471.6 808.2C1469.8 799.7 1469 789.6 1472.6 782.1C1476.1 774.5 1486 769.6 1492.8 762.8C1499.6 756 1506.4 747.6 1513.6 741.2C1520.7 734.7 1527.6 727.3 1535.6 724.1C1543.6 720.9 1554.8 718.4 1561.7 722.1C1568.7 725.9 1573.8 737.9 1577.2 746.5C1580.5 755.2 1581.7 764.5 1582 774C1582.3 783.5 1580.9 794.3 1579 803.7C1577.1 813.1 1573.6 821.2 1570.6 830.4C1567.7 839.6 1565.1 850.1 1561.2 858.8C1557.3 867.6 1553.7 876.3 1547.5 883.1C1541.3 889.9 1531.7 898.7 1523.9 899.5Z" fill="#b04a77" fill-opacity="0.50"/>
<path d="M1235.4 913.9C1239.3 905.9 1247.7 900.1 1255.4 895.5C1263.1 891 1272.9 889 1281.9 886.5C1290.8 884 1300.4 883.3 1309.2 880.5C1318 877.8 1327.3 875 1334.8 869.9C1342.3 864.8 1349 857.5 1354.1 850C1359.2 842.4 1360.5 832 1365.5 824.7C1370.6 817.3 1376.9 810.1 1384.5 805.8C1392.2 801.5 1403.2 802.9 1411.4 799C1419.6 795.1 1427.5 789.3 1433.6 782.6C1439.7 775.9 1443.6 766.9 1448 758.8C1452.5 750.6 1456.5 742.1 1460.3 733.5C1464 725 1467.5 716.3 1470.5 707.5C1473.5 698.7 1475.5 689.8 1478.3 680.6C1481.2 671.4 1484.3 661.1 1487.6 652C1490.8 642.9 1494 634.5 1497.8 626C1501.6 617.5 1505.6 608.9 1510.5 601C1515.3 593.1 1520.5 585 1526.9 578.5C1533.4 571.9 1541 565.8 1549 561.5C1557.1 557.2 1566.3 553.8 1575.3 552.7C1584.3 551.6 1594.3 552.4 1603 555C1611.7 557.5 1620.5 562.2 1627.4 568C1634.3 573.8 1640 581.9 1644.5 589.8C1649 597.8 1651.9 607 1654.6 615.9C1657.2 624.8 1659 634.1 1660.4 643.3C1661.8 652.5 1662.3 661.9 1663 671.2C1663.7 680.5 1664.1 689.8 1664.4 699.1C1664.7 708.5 1665.1 717.5 1665.1 727.2C1665.1 736.8 1664.8 747.5 1664.4 757.2C1664 766.8 1663.4 775.8 1662.5 785.1C1661.5 794.4 1660.3 803.7 1658.6 812.8C1656.8 822 1654.5 831.1 1651.9 840C1649.2 848.9 1645.7 857.6 1642.8 866.5C1639.8 875.3 1637.3 884.3 1634.1 893.1C1630.8 901.9 1627.1 910.4 1623.4 919C1619.8 927.6 1616.1 936.2 1612 944.6C1607.8 952.9 1603.4 961.2 1598.4 969.1C1593.5 977 1588.1 984.7 1582.2 991.9C1576.3 999.1 1570.1 1006.2 1563.1 1012.3C1556.1 1018.4 1548.3 1023.8 1540.3 1028.5C1532.2 1033.1 1523.6 1037 1514.8 1040C1506 1043 1497.1 1045 1487.6 1046.4C1478.1 1047.8 1467.1 1046.4 1457.7 1048.1C1448.4 1049.8 1439.5 1052.2 1431.6 1056.5C1423.6 1060.8 1417.3 1068.6 1409.7 1074C1402.2 1079.4 1394.8 1085.7 1386.3 1088.9C1377.9 1092.1 1367.2 1094.6 1358.9 1093.2C1350.7 1091.7 1341.8 1086.7 1336.8 1080.1C1331.7 1073.5 1331.9 1062.1 1328.5 1053.5C1325.1 1045 1321.9 1036 1316.3 1028.8C1310.8 1021.6 1303.1 1014.9 1295.3 1010.4C1287.5 1005.9 1278.2 1004 1269.5 1001.6C1260.9 999.3 1249.1 1001.6 1243.2 996.5C1237.3 991.4 1235.9 980.1 1234 971.2C1232.1 962.3 1231.7 952.8 1231.9 943.3C1232.2 933.7 1231.5 921.8 1235.4 913.9ZM1197.2 770.4C1206 770.1 1216.7 774.3 1222.8 780C1229 785.6 1233 795.4 1234 804.3C1235 813.2 1232.1 824.6 1228.9 833.5C1225.7 842.4 1220 849.8 1214.8 857.6C1209.7 865.3 1204.5 872.8 1198.1 880C1191.8 887.2 1184.7 896.7 1176.7 900.7C1168.7 904.8 1157.8 907.1 1150.3 904.1C1142.8 901.1 1135 890.9 1131.6 882.7C1128.3 874.5 1129.2 864.2 1130.1 855.1C1131 846 1133.5 836.9 1137.1 828.1C1140.7 819.2 1146.1 809.8 1151.7 802C1157.3 794.2 1163 786.7 1170.6 781.4C1178.2 776.2 1188.5 770.6 1197.2 770.4ZM1443.4 820.7C1446 811.5 1449.4 803 1452.8 794.3C1456.1 785.6 1459.8 776.9 1463.6 768.4C1467.4 759.9 1471.5 751.5 1475.6 743.1C1479.7 734.7 1483.9 726.4 1488.1 718.1C1492.4 709.7 1496.4 701.3 1500.9 693.1C1505.4 684.9 1510 676.7 1515.2 669C1520.4 661.3 1525.5 653.6 1532.2 646.8C1538.9 640 1547.3 630.6 1555.4 628.2C1563.4 625.8 1573.4 628 1580.6 632.2C1587.8 636.4 1593.4 645.8 1598.7 653.4C1603.9 661.1 1608.8 669.3 1612.2 677.9C1615.6 686.5 1617.4 695.8 1619.1 705C1620.7 714.1 1621.5 723.5 1622 732.8C1622.5 742.1 1622.5 751.5 1622 760.8C1621.6 770.2 1620.5 779.1 1619.3 788.7C1618 798.3 1615.9 808.8 1614.6 818.4C1613.2 828 1612.8 836.9 1611.2 846.1C1609.6 855.3 1607.5 864.3 1605.1 873.3C1602.6 882.3 1599.9 891.3 1596.7 900.1C1593.6 908.9 1590.1 917.6 1586.1 926C1582 934.4 1577.6 942.8 1572.3 950.4C1566.9 957.9 1560.9 965.4 1554 971.5C1547.2 977.7 1539.8 983.9 1531.2 987.4C1522.5 990.8 1511.1 993.3 1502.1 992.2C1493.1 991.1 1484 986.5 1477.2 980.8C1470.3 975.2 1465.3 966.5 1461 958.4C1456.6 950.3 1453.9 941.1 1451 932.2C1448.2 923.3 1446 914.2 1444 905.1C1442 896 1440.2 886.7 1439.1 877.5C1437.9 868.2 1436.3 859 1437 849.6C1437.8 840.1 1440.8 829.9 1443.4 820.7Z" fill="#e4b1db" fill-opacity="0.85" fill-rule="evenodd"/>
<path d="M1443.4 820.7C1446 811.5 1449.4 803 1452.8 794.3C1456.1 785.6 1459.8 776.9 1463.6 768.4C1467.4 759.9 1471.5 751.5 1475.6 743.1C1479.7 734.7 1483.9 726.4 1488.1 718.1C1492.4 709.7 1496.4 701.3 1500.9 693.1C1505.4 684.9 1510 676.7 1515.2 669C1520.4 661.3 1525.5 653.6 1532.2 646.8C1538.9 640 1547.3 630.6 1555.4 628.2C1563.4 625.8 1573.4 628 1580.6 632.2C1587.8 636.4 1593.4 645.8 1598.7 653.4C1603.9 661.1 1608.8 669.3 1612.2 677.9C1615.6 686.5 1617.4 695.8 1619.1 705C1620.7 714.1 1621.5 723.5 1622 732.8C1622.5 742.1 1622.5 751.5 1622 760.8C1621.6 770.2 1620.5 779.1 1619.3 788.7C1618 798.3 1615.9 808.8 1614.6 818.4C1613.2 828 1612.8 836.9 1611.2 846.1C1609.6 855.3 1607.5 864.3 1605.1 873.3C1602.6 882.3 1599.9 891.3 1596.7 900.1C1593.6 908.9 1590.1 917.6 1586.1 926C1582 934.4 1577.6 942.8 1572.3 950.4C1566.9 957.9 1560.9 965.4 1554 971.5C1547.2 977.7 1539.8 983.9 1531.2 987.4C1522.5 990.8 1511.1 993.3 1502.1 992.2C1493.1 991.1 1484 986.5 1477.2 980.8C1470.3 975.2 1465.3 966.5 1461 958.4C1456.6 950.3 1453.9 941.1 1451 932.2C1448.2 923.3 1446 914.2 1444 905.1C1442 896 1440.2 886.7 1439.1 877.5C1437.9 868.2 1436.3 859 1437 849.6C1437.8 840.1 1440.8 829.9 1443.4 820.7ZM1484.8 827.9C1487.3 818.7 1491.2 810.7 1495.1 801.8C1499 793 1503.6 783.3 1508.3 774.8C1512.9 766.3 1517.6 758.9 1523.2 751C1528.7 743.1 1534.2 732.4 1541.6 727.3C1549 722.2 1560.7 717.9 1567.7 720.3C1574.8 722.8 1580.2 733.4 1583.9 741.9C1587.6 750.4 1589 761.4 1590 771.3C1591 781.2 1590.7 791.7 1590 801.3C1589.4 810.9 1588.1 819.6 1586.1 829.1C1584 838.5 1581 848.5 1577.7 858C1574.4 867.4 1570.9 877.3 1566.3 885.8C1561.7 894.2 1557.2 902.5 1550.3 908.7C1543.4 914.8 1533.2 922.4 1524.7 922.7C1516.2 923 1505.6 916.7 1499.2 910.5C1492.8 904.4 1489.3 895 1486.1 886C1482.9 877 1480.2 866.3 1480 856.6C1479.7 846.9 1482.2 837 1484.8 827.9Z" fill="#e38ad5" fill-opacity="0.85" fill-rule="evenodd"/>
<path d="M1484.8 827.9C1487.3 818.7 1491.2 810.7 1495.1 801.8C1499 793 1503.6 783.3 1508.3 774.8C1512.9 766.3 1517.6 758.9 1523.2 751C1528.7 743.1 1534.2 732.4 1541.6 727.3C1549 722.2 1560.7 717.9 1567.7 720.3C1574.8 722.8 1580.2 733.4 1583.9 741.9C1587.6 750.4 1589 761.4 1590 771.3C1591 781.2 1590.7 791.7 1590 801.3C1589.4 810.9 1588.1 819.6 1586.1 829.1C1584 838.5 1581 848.5 1577.7 858C1574.4 867.4 1570.9 877.3 1566.3 885.8C1561.7 894.2 1557.2 902.5 1550.3 908.7C1543.4 914.8 1533.2 922.4 1524.7 922.7C1516.2 923 1505.6 916.7 1499.2 910.5C1492.8 904.4 1489.3 895 1486.1 886C1482.9 877 1480.2 866.3 1480 856.6C1479.7 846.9 1482.2 837 1484.8 827.9ZM1509.5 824.1C1510.8 817.4 1513.2 811.2 1516.3 805.3C1519.3 799.5 1523.1 793.5 1527.7 789C1532.4 784.6 1538.6 779 1544 778.7C1549.3 778.3 1556.1 782.5 1559.8 787C1563.4 791.5 1565.1 798.9 1566 805.7C1566.9 812.5 1566.4 820.8 1565.3 827.6C1564.2 834.5 1562.2 840.8 1559.4 846.7C1556.6 852.7 1553.2 859.2 1548.6 863.5C1544 867.7 1537.3 872.4 1531.8 872.5C1526.2 872.6 1519.3 868.6 1515.4 864.2C1511.4 859.8 1509.2 852.6 1508.2 845.9C1507.2 839.2 1508.1 830.9 1509.5 824.1Z" fill="#de5ecd" fill-opacity="0.85" fill-rule="evenodd"/>
<path d="M1509.5 824.1C1510.8 817.4 1513.2 811.2 1516.3 805.3C1519.3 799.5 1523.1 793.5 1527.7 789C1532.4 784.6 1538.6 779 1544 778.7C1549.3 778.3 1556.1 782.5 1559.8 787C1563.4 791.5 1565.1 798.9 1566 805.7C1566.9 812.5 1566.4 820.8 1565.3 827.6C1564.2 834.5 1562.2 840.8 1559.4 846.7C1556.6 852.7 1553.2 859.2 1548.6 863.5C1544 867.7 1537.3 872.4 1531.8 872.5C1526.2 872.6 1519.3 868.6 1515.4 864.2C1511.4 859.8 1509.2 852.6 1508.2 845.9C1507.2 839.2 1508.1 830.9 1509.5 824.1Z" fill="#8e4b84" fill-opacity="0.85"/>
<path d="M791.6 918.2C798.7 911.7 805.3 905.5 812 899C818.7 892.5 825.2 885.7 831.8 879.2C838.5 872.7 845 865.8 852 859.8C859.1 853.7 866.4 847.8 874.2 842.8C882.1 837.9 891.1 834.8 899.1 830.1C907.1 825.4 914.8 820 922.4 814.6C930 809.3 937.5 803.6 944.8 797.7C952 791.8 959.3 786.3 965.9 779.3C972.5 772.4 979.8 764.2 984.4 755.9C988.9 747.6 992.4 738.6 993.3 729.7C994.1 720.8 992.3 711.1 989.5 702.4C986.6 693.8 980.6 686 976 678C971.5 670 962.9 662.3 962.1 654.3C961.2 646.3 966 637.1 971.1 630.1C976.2 623.1 985.2 617.8 992.7 612.3C1000.2 606.8 1007.8 601.8 1016.2 597.1C1024.6 592.5 1034.3 587.7 1043.3 584.3C1052.3 580.9 1061.1 578.5 1070.2 576.8C1079.3 575.2 1088.8 574.2 1098 574.6C1107.3 575 1116.5 576.9 1125.6 579.1C1134.6 581.3 1143.2 585.1 1152.2 587.8C1161.1 590.5 1170 593.3 1179.2 595.2C1188.3 597.2 1197.6 598.3 1206.8 599.4C1216.1 600.5 1225.1 601.2 1234.7 602C1244.4 602.8 1255 604 1264.7 604.2C1274.3 604.5 1283.3 604.4 1292.6 603.7C1301.9 602.9 1311.2 601.6 1320.3 599.8C1329.5 598 1338.5 595.4 1347.5 593C1356.5 590.6 1365.5 587.9 1374.5 585.5C1383.5 583.1 1392.5 580.6 1401.6 578.4C1410.7 576.1 1419.7 573.9 1428.9 572C1438 570 1446.8 568.1 1456.4 566.7C1465.9 565.2 1476.5 564.1 1486.2 563.5C1495.8 562.9 1504.9 562.9 1514.2 563.1C1523.5 563.3 1532.8 564 1542.1 564.8C1551.4 565.7 1560.7 566.7 1570 568.1C1579.2 569.5 1588.5 570.7 1597.5 573C1606.5 575.3 1615.1 579.9 1623.9 582C1632.7 584.2 1643.5 581.6 1650.2 586C1656.8 590.5 1660.3 600.2 1663.9 608.8C1667.5 617.4 1669.9 628.3 1671.7 637.7C1673.4 647.2 1674.2 656.3 1674.3 665.6C1674.4 674.8 1673.5 684.2 1672.4 693.5C1671.3 702.7 1669.6 711.9 1667.7 721.1C1665.8 730.2 1663.5 739.3 1661 748.3C1658.5 757.2 1655.6 766.2 1652.4 774.9C1649.2 783.7 1645.7 792.4 1641.8 800.8C1637.9 809.3 1633.7 817.3 1629 825.7C1624.3 834.2 1618.7 843.3 1613.9 851.6C1609 860 1604.6 867.9 1600 876C1595.4 884.1 1591 892.3 1586.3 900.4C1581.7 908.5 1577 916.6 1572.2 924.6C1567.4 932.6 1562.4 940.5 1557.3 948.4C1552.3 956.2 1547.2 964.1 1541.8 971.7C1536.4 979.3 1530.6 986.6 1524.9 994C1519.2 1001.4 1512.8 1007.9 1507.4 1015.8C1502 1023.8 1497.1 1033.4 1492.4 1041.8C1487.6 1050.2 1483.3 1058.1 1478.7 1066.2C1474.1 1074.3 1469.4 1082.4 1464.6 1090.4C1459.8 1098.4 1454.9 1106.4 1450 1114.3C1445 1122.2 1440 1130.1 1434.9 1137.9C1429.8 1145.7 1424.6 1153.5 1419.4 1161.3C1414.3 1169 1409 1176.8 1403.8 1184.5C1398.6 1192.3 1393.6 1199.8 1388.3 1207.8C1382.9 1215.9 1377 1224.8 1371.7 1232.9C1366.4 1240.9 1361.6 1248.6 1356.3 1256.3C1351 1264 1345.7 1271.7 1340 1279.1C1334.3 1286.4 1328.6 1293.8 1322.2 1300.6C1315.8 1307.3 1309 1314.1 1301.6 1319.6C1294.2 1325.1 1286.1 1330.1 1277.7 1333.9C1269.3 1337.7 1260.1 1340.1 1251.1 1342.5C1242.1 1344.8 1233.3 1347.3 1223.7 1348C1214.2 1348.8 1203.4 1348.2 1193.8 1347.2C1184.2 1346.2 1175.4 1344.1 1166.3 1342.1C1157.2 1340.1 1148.2 1337.4 1139.1 1335.2C1130.1 1333 1121 1330.9 1111.9 1328.8C1102.7 1326.8 1093.6 1325 1084.4 1323.2C1075.3 1321.3 1066.1 1319.6 1056.9 1317.7C1047.8 1315.9 1038.6 1314.1 1029.5 1312.2C1020.3 1310.3 1011.6 1308 1002.1 1306.5C992.5 1304.9 981.9 1303.7 972.3 1302.8C962.7 1301.9 953.7 1301.3 944.3 1301.1C935 1300.8 925.7 1301 916.3 1301.2C907 1301.4 897.7 1302.2 888.3 1302.4C879 1302.5 869.6 1302.9 860.4 1302.2C851.1 1301.6 841.7 1300.6 832.7 1298.3C823.7 1296 815 1292.2 806.6 1288.4C798.1 1284.6 790.3 1280 781.8 1275.3C773.3 1270.7 764.1 1265.2 755.6 1260.7C747.1 1256.2 739 1252.1 730.6 1248.1C722.1 1244.2 713.3 1241 704.9 1236.9C696.5 1232.9 687.6 1229.3 680.2 1223.8C672.9 1218.4 665.7 1211.8 660.7 1204.2C655.8 1196.6 652.6 1187.3 650.7 1178.4C648.8 1169.4 649 1159.8 649.2 1150.5C649.4 1141.2 650.8 1132.2 652.1 1122.7C653.4 1113.1 655.3 1102.6 657.2 1093.1C659.1 1083.6 660.9 1074.7 663.7 1065.9C666.6 1057 670.1 1048.3 674.3 1040C678.5 1031.7 683.5 1023.8 689.1 1016.3C694.7 1008.9 701.2 1002.1 707.6 995.3C714.1 988.6 721 982.3 727.8 975.9C734.6 969.5 741.5 963.3 748.5 957C755.4 950.7 762.2 944.8 769.3 938.3C776.5 931.8 784.5 924.8 791.6 918.2Z" stroke="#e77e63" stroke-opacity="0.40" stroke-width="3.1"/>
<path d="M795.8 1085.3C794.7 1076.8 799.3 1067.1 803.3 1059C807.3 1050.9 813.7 1043.5 820.1 1036.8C826.5 1030.1 833.7 1023.8 841.4 1018.8C849.2 1013.9 857.9 1009.9 866.7 1007.1C875.5 1004.3 884.9 1003.2 894.1 1001.8C903.3 1000.4 913.3 1001.5 921.8 998.5C930.3 995.6 938.4 990.5 945 984.3C951.5 978.1 955.7 969.1 961.1 961.5C966.5 953.9 971.6 946.1 977.4 938.7C983.1 931.4 989.4 924.4 995.4 917.3C1001.5 910.2 1007.5 903.1 1013.7 896.1C1019.8 889.1 1026.1 882.2 1032.5 875.4C1038.9 868.5 1045.4 861.8 1051.9 855.2C1058.4 848.5 1065.1 842 1071.7 835.4C1078.3 828.8 1084.8 822.1 1091.5 815.6C1098.2 809.1 1104.7 802.9 1111.8 796.3C1119 789.8 1127 782.7 1134.3 776.4C1141.7 770.2 1148.6 764.4 1155.9 758.6C1163.2 752.9 1170.7 747.2 1178.2 741.7C1185.7 736.2 1193.3 730.6 1201.2 725.7C1209.1 720.7 1217.3 716.2 1225.5 711.9C1233.8 707.6 1242.3 703.7 1250.8 699.8C1259.3 695.9 1267.8 692.1 1276.5 688.7C1285.2 685.3 1294.1 682.5 1302.9 679.4C1311.7 676.3 1320.5 673.3 1329.3 670C1338 666.8 1346.7 663.4 1355.5 660.1C1364.2 656.8 1373 653.7 1381.7 650.4C1390.4 647.1 1399.1 643.6 1407.8 640.2C1416.5 636.8 1425.1 633.2 1433.8 629.8C1442.5 626.3 1451.1 622.8 1459.8 619.3C1468.4 615.8 1477.1 612.3 1485.8 609C1494.5 605.6 1503.2 602.2 1512 599.2C1520.9 596.2 1529.4 593.4 1538.8 591C1548.1 588.6 1558.6 586.1 1568.1 584.7C1577.6 583.3 1586.8 582 1596 582.4C1605.1 582.9 1615.4 583.8 1623.2 587.7C1631 591.6 1638.2 598.5 1642.8 606C1647.4 613.5 1649.2 623.6 1650.8 632.6C1652.5 641.7 1652.6 651.2 1652.6 660.5C1652.7 669.8 1652 679.2 1651.2 688.5C1650.3 697.8 1649.1 707.1 1647.4 716.2C1645.6 725.4 1643.3 734.4 1640.7 743.4C1638 752.3 1634.8 761.1 1631.4 769.8C1627.9 778.4 1624 786.9 1619.9 795.3C1615.8 803.7 1611.3 811.9 1606.6 819.9C1601.9 828 1596.9 835.9 1591.7 843.7C1586.6 851.4 1581.2 859.1 1575.7 866.6C1570.1 874.1 1564.2 881.3 1558.4 888.6C1552.5 895.9 1546.8 902.8 1540.6 910.3C1534.5 917.7 1527.4 925.7 1521.4 933.3C1515.3 940.8 1509.6 947.8 1504.5 955.6C1499.4 963.4 1495.5 971.9 1490.9 980C1486.2 988.1 1481.4 996.1 1476.6 1004.1C1471.8 1012.1 1466.9 1020.1 1462.1 1028C1457.2 1036 1452.4 1044 1447.4 1051.9C1442.5 1059.8 1437.6 1067.8 1432.5 1075.6C1427.4 1083.5 1422.4 1091.3 1417.1 1099C1411.7 1106.6 1406.2 1114.2 1400.5 1121.6C1394.9 1129 1389 1136.2 1383 1143.4C1377 1150.5 1370.9 1157.6 1364.5 1164.4C1358.1 1171.2 1351.6 1178 1344.7 1184.2C1337.8 1190.4 1330.4 1196.2 1322.9 1201.8C1315.5 1207.4 1307.9 1212.9 1300.1 1218C1292.3 1223.1 1284.3 1228 1276.1 1232.4C1268 1236.9 1259.6 1241.1 1251 1244.8C1242.5 1248.5 1234.1 1251.9 1224.8 1254.5C1215.6 1257.1 1205 1259.1 1195.4 1260.4C1185.9 1261.6 1176.8 1261.9 1167.5 1261.8C1158.2 1261.7 1148.8 1261.1 1139.6 1259.9C1130.4 1258.7 1121.1 1256.9 1112.1 1254.6C1103.1 1252.3 1094.2 1249.3 1085.5 1246C1076.8 1242.7 1068.2 1239 1059.8 1234.9C1051.4 1230.9 1043.2 1226.4 1035.1 1221.8C1026.9 1217.3 1018.9 1212.4 1010.9 1207.6C1002.9 1202.8 995.1 1197.6 987 1193C978.9 1188.4 970.6 1184.1 962.3 1180C953.9 1175.8 945.3 1172.2 936.9 1168.1C928.5 1164 920.2 1159.7 911.9 1155.5C903.5 1151.4 895.3 1147 886.8 1143.1C878.4 1139.1 869.9 1135.1 861.3 1131.6C852.6 1128.1 843.5 1125.7 834.9 1122.1C826.4 1118.5 816.5 1116.1 809.9 1110C803.4 1103.8 796.9 1093.8 795.8 1085.3Z" stroke="#e77e63" stroke-opacity="0.40" stroke-width="3.1"/>
<path d="M1042 1000C1044.5 990.7 1047.9 982.3 1051.2 973.6C1054.6 964.9 1058.4 956.4 1062.3 947.9C1066.2 939.4 1070.4 931 1074.7 922.8C1079 914.5 1083.4 906.6 1088.2 898.2C1093.1 889.9 1098.7 880.8 1103.9 872.7C1109.2 864.5 1114.2 857.1 1119.6 849.4C1124.9 841.8 1130.4 834.2 1136.1 826.8C1141.7 819.3 1147.2 811.8 1153.3 804.7C1159.4 797.7 1165.7 791.3 1172.6 784.4C1179.4 777.6 1187.1 770.1 1194.3 763.8C1201.6 757.4 1208.6 751.8 1216.2 746.3C1223.7 740.8 1231.7 735.9 1239.6 731C1247.6 726 1255.5 721.2 1263.8 716.8C1272 712.5 1280.2 708.7 1289.1 704.8C1297.9 700.9 1307.8 696.9 1316.8 693.4C1325.8 689.8 1334.3 686.8 1343 683.5C1351.8 680.2 1360.5 676.8 1369.1 673.3C1377.8 669.9 1386.5 666.4 1395.1 662.8C1403.7 659.2 1412 655.6 1420.9 651.8C1429.8 648 1439.6 643.8 1448.5 640C1457.4 636.2 1465.6 632.7 1474.2 629.1C1482.8 625.4 1491.4 621.6 1500.1 618.2C1508.7 614.8 1517.4 611.3 1526.4 608.7C1535.3 606.1 1544.2 604 1553.7 602.6C1563.2 601.2 1574.7 598.6 1583.5 600.1C1592.3 601.7 1600.8 605.8 1606.7 612C1612.5 618.2 1615.4 628.5 1618.7 637.1C1622 645.8 1625 654.9 1626.4 664C1627.8 673.1 1628 682.3 1627.2 691.8C1626.4 701.4 1623.9 711.9 1621.6 721.3C1619.2 730.6 1616.3 739.2 1613.1 747.9C1609.9 756.7 1606.2 765.3 1602.3 773.8C1598.4 782.2 1594.1 790.5 1589.5 798.7C1585 806.8 1580.3 814.6 1575 822.6C1569.7 830.7 1563.4 839.3 1557.7 847.1C1552 854.9 1546.5 862 1540.7 869.4C1534.9 876.7 1529 884 1523.2 891.2C1517.3 898.5 1511.4 905.7 1505.5 913C1499.7 920.3 1493.8 927.1 1487.9 934.8C1482 942.4 1475.4 950.8 1470.1 958.9C1464.8 966.9 1460.6 975 1455.9 983C1451.2 991.1 1446.6 999.2 1441.8 1007.2C1436.9 1015.2 1431.9 1023.1 1426.8 1030.9C1421.7 1038.7 1416.6 1046.1 1411 1054C1405.4 1061.9 1399 1070.5 1393.1 1078.1C1387.1 1085.7 1381.4 1092.7 1375.4 1099.8C1369.3 1106.9 1363.1 1113.9 1356.7 1120.6C1350.2 1127.4 1343.6 1134 1336.7 1140.2C1329.7 1146.4 1322.6 1152.4 1314.9 1157.8C1307.2 1163.3 1298.5 1168.1 1290.6 1172.9C1282.6 1177.7 1275.3 1182.3 1267.2 1186.7C1259.1 1191 1250.7 1195.5 1242 1198.8C1233.3 1202.1 1224.3 1204.8 1215.1 1206.4C1206 1208 1196.8 1209.1 1187.3 1208.5C1177.8 1207.8 1167.2 1205.3 1158.1 1202.3C1149.1 1199.3 1141 1194.9 1132.9 1190.2C1124.9 1185.6 1117.3 1180 1110 1174.2C1102.7 1168.4 1096 1161.9 1089.3 1155.4C1082.7 1148.8 1076.4 1142.3 1070.3 1134.9C1064.1 1127.4 1057.4 1119 1052.7 1110.6C1048 1102.3 1044.7 1093.7 1042 1084.8C1039.4 1076 1037.6 1066.6 1036.7 1057.4C1035.8 1048.2 1035.7 1039 1036.5 1029.5C1037.4 1019.9 1039.6 1009.3 1042 1000Z" stroke="#e77e63" stroke-opacity="0.40" stroke-width="3.1"/>
<path d="M1086.2 1000.1C1087.9 990.7 1091.7 982.3 1095 973.6C1098.4 964.9 1102.1 956.3 1106.1 947.9C1110 939.4 1114.3 931.2 1118.7 922.9C1123 914.6 1127.4 906.4 1132 898.3C1136.7 890.2 1141.6 882.2 1146.6 874.4C1151.7 866.5 1156.8 859.1 1162.4 851.2C1168 843.3 1174.2 834.7 1180.2 827.1C1186.2 819.5 1192 812.6 1198.3 805.7C1204.5 798.8 1211.1 792.1 1217.8 785.7C1224.6 779.3 1231.6 773 1238.8 767.1C1246 761.2 1253.4 755.5 1261 750C1268.5 744.6 1276 739.5 1284.3 734.5C1292.5 729.6 1302 724.6 1310.6 720.2C1319.2 715.9 1327.4 712.1 1335.9 708.3C1344.4 704.4 1353.1 700.9 1361.7 697.3C1370.3 693.8 1379.1 690.6 1387.7 687C1396.3 683.3 1404.8 679.4 1413.3 675.6C1421.9 671.8 1430 668 1438.9 664.1C1447.7 660.2 1457.5 656 1466.4 652.3C1475.3 648.5 1483.6 644.9 1492.3 641.5C1501 638.1 1509.6 634.5 1518.6 632C1527.6 629.6 1537.2 626.4 1546 626.9C1554.8 627.3 1564.2 629.8 1571.5 634.6C1578.8 639.3 1585 647.3 1589.9 655.4C1594.7 663.5 1598.7 673.9 1600.7 683.1C1602.6 692.4 1602.3 701.7 1601.7 710.9C1601.1 720.2 1599.2 729.5 1597 738.5C1594.8 747.5 1591.7 756.4 1588.3 765.1C1585 773.8 1581 782.3 1576.7 790.6C1572.5 798.9 1567.9 807 1563 814.9C1558.1 822.9 1553.1 830.4 1547.4 838.2C1541.7 846 1535 854.3 1529 861.9C1522.9 869.4 1517.1 876.3 1511.1 883.4C1505 890.5 1498.8 897.5 1492.7 904.5C1486.6 911.6 1480.4 918.6 1474.4 925.7C1468.3 932.8 1461.9 939.7 1456.4 947.2C1450.8 954.6 1446.3 962.5 1441.1 970.6C1435.9 978.7 1430.3 987.8 1424.9 995.8C1419.6 1003.9 1414.4 1011.3 1409 1018.8C1403.5 1026.4 1398 1034 1392.2 1041.3C1386.4 1048.6 1380.4 1055.7 1374.1 1062.6C1367.8 1069.5 1361.3 1076.2 1354.6 1082.7C1347.8 1089.1 1341.4 1095.6 1333.9 1101.5C1326.3 1107.4 1317.3 1113.1 1309 1117.9C1300.7 1122.8 1292.4 1126.2 1284.2 1130.8C1276.1 1135.3 1268.6 1141.1 1260.3 1145.1C1251.9 1149.2 1243.1 1152.7 1234.2 1155.1C1225.2 1157.4 1215.8 1159.1 1206.6 1159.3C1197.4 1159.5 1188.2 1158.6 1178.9 1156.2C1169.7 1153.8 1159.6 1149.5 1151.3 1144.9C1142.9 1140.3 1135.7 1134.6 1128.7 1128.5C1121.7 1122.4 1114.9 1115.8 1109.2 1108.5C1103.6 1101.1 1098.7 1093 1095 1084.5C1091.3 1076.1 1088.5 1066.9 1086.9 1057.8C1085.3 1048.7 1085.3 1039.6 1085.2 1030C1085.1 1020.3 1084.6 1009.5 1086.2 1000.1Z" stroke="#e77e63" stroke-opacity="0.40" stroke-width="3.1"/>
<path d="M1113.6 1000.1C1114.4 990.7 1118.6 982.2 1121.7 973.5C1124.9 964.8 1128.8 956.3 1132.7 947.8C1136.5 939.2 1140.3 931.1 1144.8 922.5C1149.2 913.9 1154.2 904.5 1159.1 896.1C1164 887.8 1168.9 880.2 1174.1 872.5C1179.3 864.7 1184.7 857.1 1190.3 849.6C1195.8 842.1 1201.3 835 1207.5 827.5C1213.7 820.1 1220.7 812 1227.3 805C1233.9 797.9 1240.5 791.8 1247.3 785.4C1254.1 779 1260.9 772.5 1268.2 766.7C1275.5 760.9 1282.9 755.7 1291.1 750.6C1299.3 745.5 1308.5 740.1 1317.2 736C1325.9 731.8 1334.6 729 1343.3 725.6C1351.9 722.2 1360.4 719.1 1369.4 715.5C1378.4 712 1388.2 707.9 1397.2 704.2C1406.1 700.4 1414.3 696.7 1422.9 693.1C1431.5 689.5 1440.1 685.9 1448.8 682.5C1457.5 679.2 1466 675.9 1475.1 672.9C1484.3 669.9 1494.8 665.3 1503.9 664.6C1513 663.9 1522.4 664.5 1529.7 668.8C1537 673 1542.7 682.2 1547.7 689.9C1552.8 697.6 1557.5 705.8 1559.9 714.9C1562.3 724 1562.8 735 1562.2 744.5C1561.7 754 1559.3 763 1556.7 771.9C1554.1 780.8 1550.7 789.3 1546.7 798C1542.7 806.8 1537.6 816.2 1532.8 824.6C1527.9 833 1523 840.5 1517.7 848.2C1512.5 855.9 1506.9 863.4 1501.2 870.8C1495.5 878.2 1489.8 885.2 1483.6 892.6C1477.4 900 1470.3 908 1463.8 915.2C1457.4 922.4 1451.2 929 1444.8 935.7C1438.4 942.5 1431.7 949.1 1425.4 956C1419.2 962.9 1413.4 969.9 1407.3 977.3C1401.1 984.8 1394.6 993.2 1388.5 1000.8C1382.5 1008.3 1377 1015.4 1371.1 1022.7C1365.2 1029.9 1359.7 1037.1 1353.3 1044.3C1346.9 1051.6 1339.6 1059.4 1332.6 1066.1C1325.6 1072.7 1318.7 1078.5 1311.3 1084.2C1303.9 1089.9 1296.3 1095.3 1288.3 1100.1C1280.3 1104.9 1272.4 1109.4 1263.5 1113C1254.5 1116.5 1244.2 1119.9 1234.8 1121.4C1225.3 1122.8 1216.1 1122.8 1206.9 1121.8C1197.7 1120.8 1188.5 1118.4 1179.8 1115.2C1171.1 1112 1162.6 1108.3 1154.8 1102.8C1147 1097.4 1138.8 1090 1133.2 1082.4C1127.6 1074.8 1124.1 1066 1121.4 1057.2C1118.7 1048.4 1118.1 1039.2 1116.8 1029.7C1115.5 1020.2 1112.8 1009.4 1113.6 1000.1Z" stroke="#e77e63" stroke-opacity="0.40" stroke-width="3.1"/>
<path d="M1139 1000C1139.2 990.8 1143.7 982.2 1146.8 973.5C1149.9 964.8 1153.8 956.2 1157.7 947.7C1161.7 939.2 1165.9 930.9 1170.4 922.7C1174.8 914.5 1179.2 906.6 1184.2 898.3C1189.2 890 1194.9 881 1200.2 872.9C1205.6 864.9 1210.8 857.5 1216.5 850.1C1222.1 842.6 1228.1 835.4 1234.3 828.4C1240.4 821.4 1246.9 814.7 1253.5 808C1260.1 801.4 1266.4 794.9 1273.7 788.6C1280.9 782.2 1289.2 775.3 1297 769.7C1304.9 764.2 1312.7 759.5 1320.9 755.1C1329.2 750.8 1337.8 747.1 1346.4 743.5C1355 739.9 1363.6 736.9 1372.6 733.5C1381.7 730.1 1391.7 726.4 1400.7 723C1409.8 719.5 1418.1 716 1426.8 712.7C1435.6 709.5 1444.4 705.9 1453.3 703.5C1462.2 701 1472.5 696.2 1480.3 698.1C1488.2 699.9 1494.5 707.5 1500.4 714.6C1506.3 721.6 1512.2 731.6 1515.6 740.4C1519 749.2 1520.6 758.4 1520.7 767.5C1520.9 776.6 1518.8 786.1 1516.5 795.1C1514.3 804.1 1510.9 812.6 1507 821.4C1503 830.2 1497.7 839.6 1492.8 847.8C1487.8 856.1 1482.6 863.5 1477.1 871.1C1471.7 878.7 1466.1 886.2 1460.2 893.4C1454.3 900.7 1448.2 907.8 1441.9 914.7C1435.6 921.5 1429.1 927.9 1422.3 934.7C1415.4 941.5 1407.5 948.7 1400.7 955.6C1394 962.5 1387.7 969 1381.8 976.3C1376 983.5 1371.1 991.6 1365.6 999.1C1360.2 1006.7 1355.4 1014.5 1349 1021.7C1342.6 1028.9 1334.7 1036.1 1327.4 1042.4C1320.1 1048.8 1312.9 1054.3 1305.3 1059.7C1297.7 1065.1 1290 1070.5 1281.9 1075C1273.7 1079.5 1265.3 1084 1256.5 1086.7C1247.7 1089.5 1238.5 1091.3 1229 1091.4C1219.5 1091.5 1208.6 1089.8 1199.5 1087.1C1190.4 1084.4 1181.7 1080.5 1174.4 1075.2C1167.1 1069.8 1160.4 1062.5 1155.5 1054.8C1150.7 1047.1 1148.1 1038.1 1145.4 1029C1142.6 1019.9 1138.7 1009.3 1139 1000Z" stroke="#e77e63" stroke-opacity="0.40" stroke-width="3.1"/>
<path d="M1162.7 999.7C1161.7 991 1166.7 982.3 1169.7 973.6C1172.7 964.9 1176.8 956.3 1180.7 947.8C1184.6 939.3 1188.6 931.2 1193.3 922.7C1197.9 914.3 1203.7 905.2 1208.8 897.1C1214 888.9 1218.8 881.2 1224.2 873.6C1229.5 866 1235.2 858.5 1241.1 851.3C1247 844 1252.9 837.2 1259.5 830.1C1266.1 823 1273.6 815.4 1280.7 808.8C1287.8 802.3 1294.7 796.4 1302.1 790.8C1309.6 785.2 1317.3 779.9 1325.4 775.3C1333.5 770.6 1341.7 766.8 1350.6 763C1359.4 759.1 1369.5 755.4 1378.5 752C1387.6 748.5 1396 745.3 1404.8 742.2C1413.6 739.1 1423.1 733.3 1431.3 733.2C1439.5 733.1 1447.7 735.9 1454.1 741.6C1460.5 747.3 1465.5 758.7 1469.4 767.4C1473.4 776.1 1476.7 784.7 1477.6 793.7C1478.5 802.7 1477 812.1 1474.9 821.5C1472.8 830.8 1468.8 840.9 1464.9 849.7C1461.1 858.5 1456.6 866.4 1451.8 874.4C1447 882.4 1441.7 890.2 1436.1 897.7C1430.5 905.2 1424.7 912.1 1418.4 919.4C1412 926.7 1404.8 934.5 1398.1 941.5C1391.4 948.6 1385.1 955 1378.4 961.5C1371.7 968 1364.4 973.9 1357.8 980.5C1351.2 987.1 1345.2 993.9 1338.8 1001C1332.3 1008.2 1325.9 1017 1319 1023.6C1312.1 1030.3 1304.8 1035.8 1297.1 1041C1289.4 1046.3 1281.4 1051.4 1272.9 1055.1C1264.4 1058.7 1255.6 1062.2 1246.2 1063C1236.8 1063.9 1225.7 1062.9 1216.7 1060.3C1207.6 1057.7 1198.8 1053.3 1192 1047.5C1185.1 1041.8 1180.3 1033.7 1175.4 1025.7C1170.5 1017.8 1163.6 1008.4 1162.7 999.7Z" stroke="#e77e63" stroke-opacity="0.40" stroke-width="3.1"/>
<path d="M1194.1 966.2C1194.6 975.6 1196.9 984.9 1200.5 993.3C1204.1 1001.6 1209.2 1010.2 1215.8 1016.3C1222.3 1022.4 1231.1 1027.7 1239.7 1029.9C1248.2 1032.1 1258.3 1031.4 1267.1 1029.5C1276 1027.6 1284.6 1023 1292.6 1018.4C1300.7 1013.8 1308.1 1007.9 1315.2 1001.9C1322.3 995.9 1328.9 989.2 1335.3 982.4C1341.6 975.6 1347.7 968.4 1353.3 961C1359 953.6 1364.6 946 1369.3 938C1374.1 930 1378.5 921.7 1381.7 913C1384.9 904.3 1387.7 895.1 1388.6 885.9C1389.5 876.8 1390.2 866.5 1387.1 858.4C1384.1 850.3 1377.6 842.3 1370.5 837.3C1363.3 832.3 1353.2 829.9 1344.2 828.5C1335.2 827.1 1325.5 827.3 1316.4 828.7C1307.4 830.2 1298.3 833.3 1289.8 836.9C1281.2 840.4 1272.9 845 1265.1 850.1C1257.4 855.2 1250.1 861.2 1243.2 867.4C1236.4 873.7 1229.8 880.5 1224 887.8C1218.3 895.1 1212.9 902.9 1208.5 911C1204.1 919.2 1200 927.5 1197.6 936.7C1195.2 945.9 1193.6 956.8 1194.1 966.2Z" stroke="#e77e63" stroke-opacity="0.40" stroke-width="3.1"/>
<path d="M1223.4 966.2C1224.6 975.2 1227.7 985.7 1234.1 990.7C1240.4 995.8 1252.8 997.5 1261.5 996.6C1270.3 995.7 1278.6 990 1286.8 985.1C1295.1 980.2 1303.3 973.7 1310.8 967.1C1318.3 960.6 1325.9 953.2 1331.8 945.7C1337.6 938.1 1342.7 930.7 1346.1 921.9C1349.5 913 1353.3 901.6 1352.1 892.7C1350.9 883.9 1345.7 873.4 1339 868.7C1332.3 863.9 1321.3 863.8 1312 864.4C1302.7 865 1292.2 868 1283.2 872.1C1274.3 876.1 1265.6 882.4 1258.5 888.7C1251.3 895 1245.6 901.9 1240.3 909.9C1235.1 917.9 1230 927.3 1227.2 936.7C1224.3 946.1 1222.3 957.2 1223.4 966.2Z" stroke="#e77e63" stroke-opacity="0.40" stroke-width="3.1"/>
<path d="M597.1 553.5C606.7 553.3 615.9 555.1 624.9 557.3C633.9 559.6 642.7 562.6 651.1 567.2C659.4 571.8 668.4 578.3 675.1 585C681.9 591.8 687.5 599.2 691.3 607.8C695.2 616.4 698.6 627.6 698.3 636.8C698 646 694.3 655.3 689.6 663.1C685 670.8 677.7 677.2 670.2 683.1C662.7 689 653.1 694.4 644.5 698.7C635.9 703 627.7 706.1 618.5 709.1C609.3 712 598.9 714.9 589.3 716.4C579.8 718 570.6 719.2 561.4 718.5C552.3 717.8 542.9 715.9 534.2 712.1C525.5 708.3 515.5 702.6 509.3 695.8C503 688.9 498.9 680.1 496.8 671C494.7 661.9 495.2 650.6 496.6 641.1C498.1 631.7 501.5 623 505.5 614.6C509.4 606.2 514.2 598.2 520.3 590.9C526.5 583.5 534.4 575.9 542.3 570.5C550.2 565.2 558.5 561.4 567.6 558.6C576.8 555.8 587.6 553.7 597.1 553.5Z" stroke="#e77e63" stroke-opacity="0.40" stroke-width="3.1"/>
<path d="M837.3 663.7 L843.9 657.1 L858.2 653.2 L867.4 657.7 L862.1 664.2 L849.1 669.7 L839.9 668.9 Z" stroke="#e77e63" stroke-opacity="0.4" stroke-width="3.125"/>
<path d="M1059.1 755.3C1064.7 748.6 1074.6 746.4 1082.9 742.4C1091.2 738.5 1100 734.9 1108.7 731.4C1117.3 728 1126.2 724.9 1135 721.8C1143.8 718.7 1152.7 715.8 1161.6 713C1170.5 710.1 1179.4 707.5 1188.4 704.8C1197.3 702.1 1206.3 699.5 1215.2 696.8C1224.2 694.1 1232.8 691.5 1242.1 688.7C1251.3 685.9 1261.5 682.6 1270.8 680.1C1280.1 677.5 1289 676 1298 673.4C1306.9 670.8 1315.7 667.6 1324.5 664.5C1333.3 661.4 1342.1 658.2 1350.8 654.8C1359.6 651.5 1368.2 648.1 1376.9 644.5C1385.5 641 1394.1 637.3 1402.7 633.6C1411.2 629.9 1419.8 626.1 1428.2 622.1C1436.7 618.1 1444.7 614 1453.3 609.6C1461.9 605.1 1471.2 599.8 1479.7 595.2C1488.2 590.6 1496.1 586.3 1504.4 582C1512.7 577.8 1521.1 573.6 1529.6 569.7C1538.1 565.9 1546.6 562.1 1555.4 558.8C1564.1 555.5 1572.9 552.3 1581.9 549.9C1590.9 547.4 1600.1 545.3 1609.3 544.3C1618.6 543.2 1628.3 542.1 1637.2 543.7C1646.1 545.3 1656.2 548 1662.7 553.9C1669.2 559.8 1673.9 570.4 1676.1 579.3C1678.2 588.2 1676.5 597.9 1675.8 607.2C1675.2 616.5 1673.4 625.7 1672.2 635C1671 644.3 1669.7 653.5 1668.5 662.8C1667.3 672 1665.9 681.3 1664.7 690.5C1663.6 699.8 1662.8 709.1 1661.8 718.4C1660.7 727.7 1659.8 737 1658.4 746.2C1657 755.5 1655.5 764.4 1653.3 773.8C1651.2 783.2 1648.5 793.6 1645.6 802.8C1642.7 812 1639.5 820.5 1635.9 829C1632.2 837.6 1628.1 846.1 1623.6 854.2C1619.1 862.4 1614.1 870.3 1608.8 878C1603.5 885.6 1597.1 892.7 1591.8 900.2C1586.6 907.8 1583.9 917.9 1577.2 923.2C1570.4 928.5 1560.4 930.2 1551.5 932.1C1542.6 933.9 1533.2 933.7 1523.6 934.3C1513.9 934.9 1503.2 935.2 1493.6 935.8C1483.9 936.3 1474.6 936.1 1465.6 937.6C1456.6 939.2 1446.5 940.2 1439.5 945C1432.6 949.9 1429.8 959.9 1423.9 966.8C1417.9 973.7 1410.7 980.1 1403.9 986.4C1397 992.7 1389.9 998.8 1382.7 1004.8C1375.6 1010.8 1368.2 1016.6 1360.8 1022.3C1353.5 1028.1 1346.5 1033.8 1338.6 1039.4C1330.7 1045 1321.9 1051 1313.5 1055.8C1305.1 1060.6 1297 1064.6 1288.4 1068.3C1279.9 1071.9 1271 1075.1 1262.1 1077.7C1253.1 1080.3 1243.9 1082.7 1234.8 1083.7C1225.6 1084.6 1215.8 1085.2 1206.9 1083.3C1198.1 1081.4 1188.4 1077.8 1181.7 1072.1C1175 1066.5 1169.8 1058 1166.8 1049.6C1163.9 1041.2 1166.1 1031.2 1164.1 1021.8C1162.1 1012.5 1158.5 1002.5 1154.9 993.6C1151.2 984.8 1145.7 977.3 1142.2 968.7C1138.6 960.1 1136.1 951 1133.7 942.1C1131.3 933.1 1128.2 923.9 1127.8 914.8C1127.4 905.7 1128.7 896.1 1131.2 887.3C1133.6 878.4 1138.6 870.2 1142.3 861.6C1146 853.1 1151.8 844.6 1153.3 835.9C1154.8 827.3 1155.9 815.8 1151.2 809.7C1146.6 803.5 1134.1 799.5 1125.4 799C1116.7 798.6 1107.4 803.2 1099 807C1090.6 810.8 1083 816.6 1075.2 821.7C1067.4 826.8 1060.2 833.4 1052.1 837.6C1044 841.8 1032.2 848.3 1026.7 847C1021.1 845.6 1017.6 836.2 1019 829.4C1020.4 822.7 1029.8 814.3 1034.9 806.5C1040 798.7 1045.4 791.2 1049.5 782.6C1053.5 774.1 1053.5 762 1059.1 755.3Z" stroke="#d64f5f" stroke-opacity="0.57" stroke-width="4.7"/>
<path d="M1001.6 750.2C1001.1 747.2 1003.5 743.7 1005.5 741.2C1007.4 738.6 1010.1 736.7 1013.3 734.9C1016.4 733.2 1021 731.5 1024.5 730.7C1028.1 729.9 1031.3 729.6 1034.5 730.1C1037.7 730.5 1041.1 731.4 1043.9 733.5C1046.6 735.6 1050.4 739.6 1051.1 742.7C1051.9 745.7 1050.3 749.4 1048.4 751.7C1046.5 753.9 1042.9 754.9 1039.5 756.1C1036.1 757.4 1031.4 758.5 1027.8 759.2C1024.2 760 1021.2 760.6 1017.9 760.6C1014.6 760.6 1010.7 761 1008 759.3C1005.3 757.5 1002 753.3 1001.6 750.2Z" stroke="#d64f5f" stroke-opacity="0.57" stroke-width="4.7"/>
<path d="M1313.9 990.2C1304.8 992.3 1295.2 992.2 1286.3 990.4C1277.5 988.5 1269.2 983.2 1260.7 979.2C1252.3 975.3 1243.6 971.5 1235.7 966.6C1227.8 961.7 1219.7 956.6 1213.5 949.8C1207.3 943.1 1203 934.4 1198.7 926.2C1194.4 918 1190.6 909.3 1187.7 900.5C1184.7 891.7 1181.4 882.5 1180.9 873.4C1180.4 864.4 1182.1 855.1 1184.8 846C1187.4 836.8 1192.9 827.3 1196.9 818.6C1200.9 809.8 1205.6 801.9 1208.7 793.2C1211.8 784.5 1211.9 774.5 1215.5 766.1C1219 757.6 1224.1 749.6 1230 742.6C1235.9 735.5 1243.3 729.5 1250.7 724C1258.1 718.4 1266.2 713.7 1274.4 709.2C1282.6 704.8 1291.4 701.5 1299.9 697.6C1308.3 693.6 1316.4 689.6 1325.1 685.5C1333.9 681.3 1343.6 676.8 1352.3 672.8C1361.1 668.7 1369.3 665 1377.9 661.2C1386.4 657.4 1395 653.8 1403.6 650.1C1412.2 646.4 1420.8 642.7 1429.3 638.8C1437.8 634.9 1446.2 631 1454.6 626.8C1462.9 622.6 1471.1 618 1479.3 613.6C1487.6 609.2 1495.7 604.7 1504.1 600.4C1512.4 596.2 1520.7 592 1529.2 588.1C1537.7 584.2 1546 580.5 1555 577.2C1564.1 573.9 1574.3 570.4 1583.6 568.1C1593 565.9 1602.1 563.9 1611.3 563.8C1620.4 563.6 1630.9 563.5 1638.8 567.2C1646.6 570.8 1654.3 578 1658.1 585.6C1661.9 593.3 1661.7 603.8 1661.8 613.1C1662 622.3 1660.2 631.7 1659.1 640.9C1658.1 650.2 1656.7 659.5 1655.5 668.7C1654.3 678 1653 686.9 1651.8 696.5C1650.6 706.1 1649.7 716.8 1648.5 726.4C1647.3 736 1646.2 744.9 1644.6 754.1C1642.9 763.3 1641 772.5 1638.6 781.5C1636.2 790.5 1633.4 799.5 1630.2 808.2C1626.9 816.9 1623.2 825.6 1619 833.9C1614.7 842.2 1609.9 850.2 1604.9 858.1C1599.8 865.9 1594.3 873.6 1588.7 881C1583.1 888.4 1578.3 897.3 1571.1 902.4C1563.8 907.5 1554.4 909.8 1545.1 911.7C1535.8 913.6 1524.8 913.2 1515.2 914C1505.5 914.8 1496.5 915 1487.3 916.4C1478.1 917.9 1469 921.1 1459.9 922.5C1450.9 923.9 1441.7 924.3 1432.9 925C1424.1 925.6 1415 923.1 1407.2 926.3C1399.4 929.6 1393.2 938.5 1386 944.5C1378.9 950.5 1371.8 956.7 1364.3 962.3C1356.8 967.8 1349.5 973.2 1341.1 977.9C1332.7 982.5 1323 988.1 1313.9 990.2Z" stroke="#d64f5f" stroke-opacity="0.57" stroke-width="4.7"/>
<path d="M1326 930.1C1316.5 931.1 1307.2 930.7 1298.1 929.1C1289 927.5 1280.1 924.2 1271.5 920.6C1262.9 917.1 1254.6 913.1 1246.7 907.7C1238.7 902.4 1229.4 895.9 1223.7 888.6C1218 881.3 1213.6 872.4 1212.5 863.8C1211.3 855.1 1214 845.6 1217 836.6C1220 827.5 1225.7 818.2 1230.3 809.7C1234.8 801.2 1239.8 793.6 1244.3 785.5C1248.9 777.3 1252.2 768.3 1257.5 760.8C1262.8 753.2 1269 746.4 1276.2 740.1C1283.5 733.9 1292.8 728.5 1300.9 723.1C1308.9 717.8 1316.6 713 1324.5 708.1C1332.5 703.2 1340.2 698.5 1348.6 693.8C1357 689.1 1366.5 684.1 1375.2 679.9C1383.9 675.7 1392.2 672.3 1400.8 668.5C1409.3 664.8 1417.9 661.1 1426.4 657.3C1435 653.5 1443.3 649.9 1452 645.8C1460.7 641.6 1470.2 636.7 1478.8 632.2C1487.3 627.7 1495.1 623.2 1503.4 618.9C1511.7 614.6 1519.7 610.4 1528.4 606.3C1537.2 602.3 1547 597.9 1556.1 594.6C1565.1 591.3 1573.8 588.5 1582.9 586.6C1592 584.8 1601.7 582.7 1610.6 583.6C1619.6 584.5 1630.3 586.3 1636.6 592C1642.8 597.8 1646.5 609.3 1648.2 618.3C1649.9 627.3 1647.7 636.9 1646.9 646.2C1646.1 655.5 1644.5 664.4 1643.3 674C1642 683.6 1640.6 694.2 1639.4 703.8C1638.2 713.4 1637.5 722.4 1636.3 731.6C1635 740.9 1633.8 750.1 1632 759.3C1630.1 768.4 1628 777.2 1625.1 786.4C1622.1 795.6 1618.4 805.7 1614.4 814.5C1610.4 823.2 1606 831.1 1601.2 839.1C1596.3 847 1591.2 854.7 1585.3 862.2C1579.3 869.7 1573.2 879.2 1565.5 884.2C1557.7 889.1 1548 890.1 1538.9 891.7C1529.8 893.2 1520.2 892.5 1510.9 893.6C1501.7 894.6 1491.8 898.3 1483.3 897.9C1474.8 897.4 1465.4 896.1 1459.7 890.9C1454 885.7 1454.5 869.2 1448.9 866.8C1443.4 864.3 1434 871.4 1426.4 876.1C1418.8 880.9 1411 889.4 1403.3 895.3C1395.6 901.1 1388.3 906.4 1380.2 911.1C1372.2 915.7 1364.1 920 1355 923.2C1346 926.4 1335.5 929.2 1326 930.1Z" stroke="#d64f5f" stroke-opacity="0.57" stroke-width="4.7"/>
<path d="M1344 897.4C1334.5 899 1325.3 899.5 1316.1 898.6C1306.9 897.8 1297.6 895.5 1288.9 892.5C1280.1 889.5 1270.9 885.8 1263.6 880.5C1256.3 875.1 1247.9 868.4 1245.1 860.6C1242.2 852.7 1243.9 842.5 1246.4 833.5C1248.9 824.6 1255.2 815.2 1259.9 806.8C1264.7 798.4 1269.8 790.9 1275 783.2C1280.2 775.5 1285.1 767.4 1291.3 760.4C1297.4 753.5 1304.8 747.6 1311.9 741.6C1319 735.5 1326.2 729.5 1333.7 724C1341.2 718.5 1348.8 713.6 1357.1 708.5C1365.3 703.4 1374.5 698 1383.1 693.6C1391.7 689.2 1400.2 686 1408.7 682.2C1417.3 678.5 1425.8 674.7 1434.4 670.9C1442.9 667.1 1451.5 663.5 1460 659.5C1468.4 655.5 1476.8 651.3 1485.1 647C1493.4 642.7 1501.2 638.2 1509.8 633.8C1518.4 629.3 1527.9 624.4 1536.7 620.5C1545.5 616.6 1553.9 613 1562.8 610.3C1571.7 607.6 1581 604.8 1590.1 604.3C1599.2 603.8 1610.2 603.2 1617.5 607.1C1624.7 611 1630.8 619.5 1633.5 627.9C1636.1 636.3 1634 648.1 1633.4 657.7C1632.8 667.4 1631 676.3 1629.9 685.5C1628.7 694.8 1627.5 704.1 1626.4 713.4C1625.2 722.6 1624.5 732 1623.1 741.2C1621.6 750.4 1620 759.6 1617.6 768.7C1615.3 777.7 1612.6 786.4 1609 795.3C1605.3 804.2 1600.5 813.8 1595.7 822.2C1590.9 830.5 1585.9 838.3 1580 845.4C1574.2 852.6 1568.6 860.9 1560.9 865.2C1553.2 869.6 1543 870.1 1533.9 871.5C1524.8 873 1515.3 873.1 1506 873.9C1496.8 874.7 1485.6 879.6 1478.4 876.4C1471.2 873.2 1468.7 860.1 1462.7 854.5C1456.6 848.9 1449.1 841.9 1442 842.7C1434.8 843.5 1427.4 853.8 1420 859.3C1412.6 864.9 1405.4 871.1 1397.5 876C1389.6 881 1381.6 885.5 1372.7 889C1363.8 892.6 1353.4 895.8 1344 897.4Z" stroke="#d64f5f" stroke-opacity="0.57" stroke-width="4.7"/>
<path d="M1323 865.2C1313.5 864.7 1303.2 863.6 1295.9 859.3C1288.5 855 1280.6 847.2 1278.7 839.4C1276.9 831.7 1281.1 821.3 1284.6 812.9C1288.1 804.6 1294.6 797.2 1299.9 789.4C1305.1 781.7 1310.4 773.9 1316.2 766.6C1322 759.3 1327.9 752 1334.7 745.7C1341.5 739.3 1349.3 734 1356.9 728.5C1364.5 723.1 1372.1 717.6 1380.2 712.9C1388.2 708.3 1397 704.8 1405.4 700.9C1413.9 697 1422.5 693.3 1431.1 689.6C1439.7 685.9 1448.4 682.4 1456.9 678.6C1465.5 674.8 1473.9 670.8 1482.3 666.6C1490.6 662.4 1498.7 657.7 1507 653.4C1515.3 649.1 1523.5 644.6 1532 640.7C1540.5 636.8 1549 632.8 1557.9 630C1566.8 627.3 1576.3 624.1 1585.2 624.1C1594.1 624.2 1605.5 625 1611.4 630.2C1617.3 635.4 1619.5 646.4 1620.6 655.2C1621.8 664.1 1619.3 673.9 1618.3 683.2C1617.3 692.4 1615.9 701.7 1614.7 711C1613.6 720.2 1612.9 729.6 1611.4 738.8C1609.9 748 1608.3 757.3 1605.8 766.3C1603.3 775.2 1600.3 784.2 1596.4 792.7C1592.6 801.1 1587.9 809.3 1582.7 817.1C1577.6 824.8 1572.6 833.6 1565.5 839.1C1558.5 844.6 1549.5 847.9 1540.7 850.2C1531.9 852.4 1522 852.2 1512.8 852.9C1503.6 853.5 1492.8 857.4 1485.6 854C1478.4 850.6 1475.2 839.3 1469.4 832.6C1463.7 825.9 1458.2 815.2 1451.2 813.9C1444.2 812.7 1435.2 820.4 1427.3 824.9C1419.5 829.4 1412.3 836 1404.3 840.8C1396.3 845.6 1388 850 1379.4 853.6C1370.8 857.2 1362.2 860.5 1352.8 862.5C1343.4 864.4 1332.5 865.7 1323 865.2Z" stroke="#d64f5f" stroke-opacity="0.57" stroke-width="4.7"/>
<path d="M1365 840.1C1355.6 841.3 1344.9 842 1337.3 838.8C1329.6 835.6 1321.4 828.3 1319.2 820.8C1317 813.3 1321.1 802.4 1324.2 793.8C1327.3 785.2 1332.3 776.8 1337.7 769.3C1343.2 761.9 1350 755.3 1356.9 749.1C1363.8 742.8 1371.2 736.9 1379 731.9C1386.8 726.9 1395 722.9 1403.7 718.8C1412.5 714.8 1422.3 710.5 1431.5 707.6C1440.7 704.6 1450.3 704.7 1458.8 701.4C1467.3 698 1474.4 692.2 1482.3 687.4C1490.1 682.5 1497.7 677 1505.8 672.3C1513.8 667.6 1522.2 663.3 1530.6 659.3C1539.1 655.4 1547.6 651.1 1556.5 648.6C1565.4 646.1 1575.8 642.4 1583.9 644.3C1592.1 646.3 1601.7 653.1 1605.3 660.4C1609 667.7 1606.2 678.9 1605.7 688.2C1605.2 697.4 1603.4 706.7 1602.2 716C1601 725.2 1600.3 734.6 1598.6 743.8C1596.8 752.9 1594.8 762.2 1591.7 770.9C1588.6 779.6 1584.6 788.2 1579.8 796.2C1575 804.1 1570.3 812.9 1563.1 818.6C1555.8 824.2 1545.5 827.5 1536.4 829.9C1527.3 832.3 1517 834.3 1508.5 833.1C1500 831.8 1492.3 827.6 1485.3 822.4C1478.4 817.3 1474 805.5 1466.6 802.1C1459.2 798.8 1449 799.5 1440.9 802.2C1432.9 804.9 1426.1 813.6 1418.3 818.6C1410.4 823.6 1402.6 828.5 1393.7 832.1C1384.9 835.7 1374.4 839 1365 840.1Z" stroke="#d64f5f" stroke-opacity="0.57" stroke-width="4.7"/>
<path d="M1394.9 819C1385.9 821.2 1374.6 823.1 1367.5 819.5C1360.4 815.8 1353.4 805 1352.3 796.9C1351.3 788.8 1356.5 779 1361.3 770.9C1366.2 762.9 1374 754.6 1381.4 748.8C1388.9 743 1397.1 738.6 1406.2 736.2C1415.3 733.7 1426.5 735.1 1435.9 734.2C1445.3 733.2 1454.5 734.6 1462.5 730.6C1470.6 726.5 1476.8 716.7 1484.2 710C1491.6 703.3 1498.9 695.8 1506.7 690.3C1514.6 684.8 1522.6 681 1531.4 677C1540.2 673 1550.3 667.5 1559.3 666.1C1568.4 664.8 1579.9 663.8 1585.5 668.8C1591 673.8 1591.9 687 1592.5 696.2C1593.2 705.5 1590.7 714.5 1589.3 724.1C1588 733.7 1587 744.2 1584.2 753.7C1581.5 763.3 1577.7 773.3 1572.9 781.4C1568 789.6 1562.8 797.7 1555.1 802.6C1547.4 807.5 1535.9 810.1 1526.6 811C1517.3 811.8 1508.2 810.9 1499.3 807.9C1490.5 804.9 1482.3 795.9 1473.5 792.9C1464.8 789.9 1455.5 787.8 1446.9 790C1438.3 792.2 1430.4 801.1 1421.8 805.9C1413.1 810.8 1404 816.7 1394.9 819Z" stroke="#d64f5f" stroke-opacity="0.57" stroke-width="4.7"/>
<path d="M1515 791C1505.6 790.4 1496.7 787.1 1488.2 783.5C1479.6 779.9 1465.8 775.2 1463.6 769.1C1461.4 763 1469.7 754.1 1474.9 746.6C1480.1 739.1 1488.1 731 1494.8 724C1501.5 717.1 1507.3 710.4 1515 704.8C1522.8 699.2 1532.2 693.3 1541.3 690.4C1550.5 687.4 1563.8 683.7 1570 687C1576.2 690.4 1577.7 701.7 1578.5 710.6C1579.3 719.5 1577.1 731.1 1574.9 740.4C1572.8 749.8 1570.7 759 1565.7 766.7C1560.6 774.4 1552.9 782.7 1544.5 786.7C1536.1 790.8 1524.4 791.5 1515 791Z" stroke="#d64f5f" stroke-opacity="0.57" stroke-width="4.7"/>
<path d="M1535 714.3C1535.6 711.9 1537.9 709.8 1540.3 709C1542.7 708.1 1546.7 708.3 1549.6 709.2C1552.5 710 1555.5 711.8 1557.6 714C1559.7 716.2 1561.4 719.3 1562.3 722.4C1563.2 725.4 1563.2 728.8 1563.2 732.1C1563.1 735.4 1562.8 739.1 1562.1 742C1561.4 744.9 1560.6 748.5 1559.1 749.5C1557.6 750.4 1555.2 749.4 1553.2 747.8C1551.2 746.3 1549.1 742.9 1547.2 740.2C1545.3 737.6 1543.5 734.6 1541.8 731.7C1540.1 728.9 1538.2 725.9 1537.1 722.9C1535.9 720 1534.5 716.6 1535 714.3Z" stroke="#d64f5f" stroke-opacity="0.57" stroke-width="4.7"/>
<path d="M1273.7 777.5C1280.3 770.5 1287.5 764.9 1295.2 759.8C1303 754.7 1311.8 751.3 1320.1 747C1328.3 742.7 1337.3 739.4 1344.7 733.9C1352.2 728.5 1358.7 721.5 1364.7 714.5C1370.7 707.5 1374.8 698.7 1381 691.9C1387.3 685.1 1395.3 680 1402.2 673.8C1409.1 667.6 1415.9 661.1 1422.6 654.6C1429.3 648.1 1435.7 641.3 1442.3 634.7C1448.9 628.1 1455.4 621.4 1462.2 614.9C1469 608.5 1475.8 602.2 1483 596.3C1490.2 590.3 1497.6 584.5 1505.2 579.2C1512.9 573.9 1520.7 568.5 1529 564.4C1537.3 560.3 1546.1 556.3 1555.1 554.6C1564 552.9 1574 552.1 1582.6 554.2C1591.3 556.3 1600.1 561.2 1606.9 567C1613.7 572.9 1618.7 581.4 1623.3 589.5C1627.9 597.5 1631.2 606.4 1634.5 615.1C1637.9 623.8 1640.9 632.6 1643.5 641.6C1646.1 650.6 1648.4 659.6 1650.2 668.8C1651.9 677.9 1653.2 687.2 1654.1 696.5C1655 705.8 1655.5 715.1 1655.6 724.5C1655.6 733.8 1655.1 743.1 1654.5 752.4C1653.8 761.7 1652.8 771 1651.6 780.3C1650.4 789.5 1648.9 798.8 1647.2 807.9C1645.5 817.1 1643.2 826.2 1641.2 835.3C1639.2 844.4 1637.4 853.6 1635.3 862.7C1633.2 871.8 1631.1 880.9 1628.7 889.9C1626.3 898.9 1623.7 907.5 1620.7 916.7C1617.8 925.9 1614.4 936.1 1610.9 945.1C1607.5 954.1 1603.9 962.4 1600 970.8C1596 979.3 1591.8 987.7 1587.2 995.8C1582.6 1003.9 1577.6 1011.8 1572.3 1019.4C1566.9 1027.1 1561.5 1034.8 1555.3 1041.7C1549.1 1048.6 1542.3 1055.2 1535.1 1061C1527.8 1066.8 1520.1 1072.4 1511.9 1076.6C1503.7 1080.9 1494.8 1084.9 1485.9 1086.5C1477 1088.1 1467.2 1088.1 1458.3 1086.2C1449.5 1084.3 1441.3 1078.6 1432.7 1075.1C1424.2 1071.6 1415.7 1065 1407.3 1065.1C1398.9 1065.1 1390.4 1071.1 1382.4 1075.5C1374.5 1079.9 1367.7 1087.5 1359.6 1091.7C1351.4 1095.8 1342.6 1099.2 1333.6 1100.4C1324.6 1101.7 1314.9 1100.2 1305.6 1099.3C1296.4 1098.5 1287.1 1097 1277.9 1095.3C1268.8 1093.6 1258.1 1092.7 1250.7 1089.3C1243.2 1085.8 1236.4 1081.8 1233.2 1074.7C1230.1 1067.7 1232 1056.2 1231.9 1046.9C1231.8 1037.6 1232.8 1028.2 1232.6 1018.9C1232.4 1009.6 1231.5 1000.2 1230.8 990.9C1230 981.6 1228.7 972.4 1228 963.1C1227.3 953.8 1226.8 944.4 1226.6 935.1C1226.5 925.8 1226.7 916.4 1227 907.1C1227.3 897.8 1227.5 888.4 1228.4 879.1C1229.2 869.8 1230.1 860.4 1232.1 851.4C1234.1 842.4 1236.6 833.2 1240.5 824.9C1244.4 816.6 1250.2 809.3 1255.7 801.4C1261.3 793.5 1267.1 784.4 1273.7 777.5Z" stroke="#aa3a6e" stroke-opacity="0.70" stroke-width="6.3"/>
<path d="M1379.8 728.5C1387.3 722.5 1394 716.5 1400.7 709.9C1407.3 703.4 1413.4 696.3 1419.7 689.4C1426 682.5 1432.2 675.5 1438.5 668.6C1444.8 661.7 1451 654.7 1457.5 648C1464 641.3 1470.6 634.7 1477.5 628.4C1484.4 622.1 1491.5 616 1498.8 610.3C1506.2 604.5 1513.7 598.9 1521.5 593.9C1529.4 588.9 1537.4 583.7 1546 580.4C1554.6 577.1 1564.1 573.7 1573 574C1581.8 574.2 1591.6 577 1599.1 581.7C1606.6 586.4 1612.9 594.3 1617.9 602C1622.9 609.6 1625.8 618.8 1629.2 627.5C1632.5 636.2 1635.5 645.1 1638 654.1C1640.6 663.1 1642.7 672.2 1644.5 681.3C1646.2 690.5 1647.5 699.8 1648.3 709.1C1649.1 718.4 1649.3 727.7 1649.3 737.1C1649.3 746.4 1649 755.8 1648.2 765.1C1647.5 774.4 1646.3 783.6 1645 792.9C1643.7 802.1 1643 811.8 1640.5 820.5C1638.1 829.3 1634.2 837.3 1630.2 845.4C1626.3 853.4 1620.3 860.3 1616.9 868.7C1613.4 877.1 1612.2 886.8 1609.6 895.8C1606.9 904.7 1603.9 913.6 1600.8 922.4C1597.6 931.1 1594.3 939.9 1590.4 948.4C1586.6 956.9 1582.5 965.3 1577.8 973.4C1573.1 981.4 1568.1 989.4 1562.3 996.7C1556.6 1004 1550.3 1011.1 1543.3 1017.2C1536.4 1023.3 1528.8 1029.3 1520.6 1033.4C1512.4 1037.5 1503.1 1041 1494.2 1041.6C1485.3 1042.2 1475.5 1040.1 1467.1 1036.9C1458.6 1033.7 1450.6 1028 1443.3 1022.4C1435.9 1016.8 1429.8 1009.4 1422.8 1003.3C1415.7 997.3 1408.8 990.1 1400.7 986.1C1392.7 982.2 1383 978.7 1374.5 979.5C1366 980.3 1357.3 985.9 1349.9 991.1C1342.5 996.3 1337.1 1005 1329.9 1010.7C1322.8 1016.3 1313.9 1025.2 1307.1 1025C1300.3 1024.8 1292.8 1016.6 1289.2 1009.3C1285.6 1002.1 1286.2 990.9 1285.4 981.7C1284.6 972.4 1283.7 963 1284.2 953.7C1284.7 944.5 1286.2 935.1 1288.6 926.2C1291 917.2 1296 909 1298.5 900.1C1301 891.1 1302 881.8 1303.5 872.6C1305 863.4 1305.5 854 1307.2 844.9C1308.9 835.7 1311.1 826.6 1313.9 817.7C1316.7 808.8 1319.8 799.9 1323.7 791.5C1327.6 783 1332 774.6 1337.3 767C1342.6 759.4 1348.3 752.2 1355.4 745.8C1362.5 739.4 1372.2 734.5 1379.8 728.5Z" stroke="#aa3a6e" stroke-opacity="0.70" stroke-width="6.3"/>
<path d="M1505.9 1023C1496.9 1024.8 1486.9 1023.9 1478.4 1021.2C1469.9 1018.4 1461.8 1012.4 1455 1006.3C1448.2 1000.1 1442.6 992.2 1437.7 984.4C1432.8 976.5 1429 967.8 1425.7 959.1C1422.4 950.4 1420.3 941.6 1417.8 932.2C1415.4 922.8 1412.9 912.4 1411 903C1409.1 893.5 1408.1 884.5 1406.3 875.3C1404.5 866.2 1403.5 856.6 1400.1 848.1C1396.7 839.5 1391 831.8 1385.8 824.1C1380.7 816.4 1373 810.1 1369 801.7C1365 793.4 1360.2 782.2 1361.8 774C1363.3 765.8 1371.7 758.9 1378.1 752.4C1384.6 746 1393.2 741.3 1400.3 735.3C1407.5 729.3 1414.5 723.1 1421.1 716.5C1427.8 710 1433.8 702.8 1440.2 695.9C1446.5 689 1452.4 682.2 1459.1 675.2C1465.7 668.2 1473.1 660.4 1480.1 653.8C1487.1 647.1 1493.9 641.1 1501.2 635.3C1508.5 629.5 1516 623.7 1523.9 618.8C1531.8 614 1540.1 608.8 1548.8 606.2C1557.5 603.6 1567.4 601.4 1576.2 603.3C1585 605.3 1594.9 611.5 1601.5 617.9C1608.1 624.3 1611.9 633.4 1615.9 641.7C1619.9 650.1 1622.7 659.2 1625.3 668.1C1628 677.1 1630.3 686.2 1632 695.3C1633.7 704.5 1634.9 713.8 1635.7 723.1C1636.4 732.4 1636.7 741.5 1636.4 751.1C1636.2 760.8 1635.6 771.6 1634.2 781.1C1632.7 790.6 1630.3 799.4 1627.7 808.3C1625.1 817.3 1621.5 826 1618.4 834.8C1615.3 843.6 1612 852.3 1609.2 861.2C1606.4 870.1 1604.5 879 1601.7 888.3C1598.9 897.5 1595.7 907.7 1592.3 916.8C1589 925.9 1585.6 934.2 1581.6 942.7C1577.6 951.1 1573.4 959.5 1568.5 967.5C1563.7 975.4 1558.5 983.3 1552.5 990.4C1546.5 997.5 1540.3 1004.6 1532.5 1010C1524.8 1015.4 1514.9 1021.1 1505.9 1023Z" stroke="#aa3a6e" stroke-opacity="0.70" stroke-width="6.3"/>
<path d="M1508.9 995.7C1500 997.2 1489.9 995.3 1481.8 991.6C1473.8 988 1466.3 981 1460.4 974C1454.5 967.1 1450.2 958.4 1446.4 949.9C1442.7 941.4 1440.3 932.2 1438 923.2C1435.7 914.1 1434.4 905.2 1432.7 895.6C1431 886.1 1429.8 875.4 1427.8 866C1425.8 856.5 1424.5 847.4 1420.7 839C1417 830.6 1410.7 823.3 1405.4 815.6C1400.1 808 1391.1 801.2 1388.8 793.2C1386.5 785.2 1387.3 775.2 1391.5 767.7C1395.8 760.2 1406.8 754.5 1414.1 748.2C1421.4 741.9 1428.6 736.3 1435.3 729.8C1442 723.3 1448.1 716.2 1454.4 709.3C1460.8 702.4 1466.9 695.4 1473.4 688.6C1479.9 681.9 1486.5 675.2 1493.4 669C1500.4 662.8 1507.3 656.8 1515.1 651.2C1523 645.7 1532 639.1 1540.7 635.6C1549.5 632.1 1559.1 629.1 1567.7 630.1C1576.3 631.1 1585.6 635.9 1592.1 641.8C1598.6 647.7 1602.8 657.1 1606.7 665.5C1610.7 673.9 1613.3 682.7 1615.8 692C1618.3 701.4 1620.4 711.9 1621.8 721.5C1623.1 731 1623.7 740.1 1623.8 749.4C1624 758.7 1623.9 768.2 1622.6 777.4C1621.4 786.6 1619.2 795.8 1616.6 804.7C1614.1 813.7 1610.2 822.3 1607.3 831.2C1604.5 840.1 1602 848.8 1599.3 858.1C1596.5 867.4 1594 877.8 1591 887C1588 896.2 1585.1 904.7 1581.5 913.4C1578 922 1574.1 930.6 1569.6 938.8C1565.2 947 1560.4 955.1 1554.7 962.5C1549 969.8 1543.1 977.2 1535.5 982.8C1527.9 988.3 1517.9 994.2 1508.9 995.7Z" stroke="#aa3a6e" stroke-opacity="0.70" stroke-width="6.3"/>
<path d="M1497.1 965.6C1488.5 963.6 1480.6 956.9 1474.5 950.4C1468.4 943.9 1464 934.9 1460.3 926.5C1456.6 918 1454.6 908.7 1452.4 899.7C1450.3 890.6 1449.1 881.3 1447.5 872.1C1445.8 862.9 1445.5 853.6 1442.4 844.6C1439.3 835.6 1433.9 826.4 1429 818.2C1424.1 810 1414.9 803.3 1413 795.4C1411 787.5 1413 777.8 1417.3 770.7C1421.6 763.5 1431.7 758.9 1438.6 752.7C1445.6 746.4 1452.4 740.1 1458.9 733.4C1465.4 726.8 1471.1 719.7 1477.8 712.7C1484.5 705.7 1491.8 697.9 1498.9 691.4C1506 684.9 1512.9 678.9 1520.5 673.7C1528.2 668.5 1536.2 662.4 1544.8 660C1553.3 657.5 1564 656 1571.9 658.9C1579.7 661.8 1586.6 669.6 1591.8 677.2C1597 684.9 1600.2 695.7 1603.1 704.9C1605.9 714.1 1607.7 723 1609.1 732.2C1610.5 741.4 1611.3 750.8 1611.3 760.1C1611.3 769.4 1610.8 778.8 1609.3 788C1607.7 797.1 1604.4 805.9 1601.7 814.9C1599 823.8 1595.8 832.2 1592.9 841.4C1590.1 850.7 1587.6 861.1 1584.7 870.3C1581.8 879.5 1579 888.1 1575.5 896.7C1571.9 905.3 1568 913.9 1563.4 921.9C1558.7 930 1553.7 938.1 1547.5 944.9C1541.3 951.7 1534.5 959.1 1526.1 962.6C1517.7 966 1505.7 967.6 1497.1 965.6Z" stroke="#aa3a6e" stroke-opacity="0.70" stroke-width="6.3"/>
<path d="M1523.8 936C1515.4 938.5 1504.6 937.3 1497 933.4C1489.5 929.6 1483.3 920.7 1478.7 913C1474 905.2 1471.6 895.7 1469.2 886.8C1466.7 877.8 1465.9 868.4 1464 859.3C1462.1 850.1 1461.5 840.5 1458 832C1454.5 823.6 1446.8 816.6 1443.2 808.5C1439.5 800.4 1434 791.2 1436.2 783.5C1438.4 775.8 1449.7 769.2 1456.4 762.5C1463.2 755.7 1470.1 749.7 1476.6 743.1C1483.1 736.4 1489 729.1 1495.6 722.5C1502.2 715.9 1508.8 709.3 1516.2 703.6C1523.5 697.8 1531.2 691.3 1539.5 688.3C1547.9 685.3 1558.7 682.8 1566.2 685.6C1573.8 688.4 1580.3 697.4 1584.9 705C1589.6 712.6 1591.9 722 1594.1 731.3C1596.4 740.7 1597.9 751.4 1598.4 761C1598.9 770.6 1598.7 779.7 1597.3 788.9C1595.9 798 1592.6 806.9 1590 815.8C1587.3 824.8 1584.3 833.6 1581.6 842.5C1578.8 851.4 1576.6 860.6 1573.5 869.3C1570.3 878.1 1566.8 886.9 1562.5 895C1558.1 903.2 1553.7 911.6 1547.3 918.4C1540.8 925.3 1532.2 933.5 1523.8 936Z" stroke="#aa3a6e" stroke-opacity="0.70" stroke-width="6.3"/>
<path d="M1506.4 904.7C1499.2 901.1 1493.5 891.4 1489.5 883.3C1485.5 875.2 1484.4 865.3 1482.3 856.3C1480.1 847.2 1479.8 837.4 1476.6 828.9C1473.4 820.3 1464.6 813 1462.9 804.8C1461.1 796.6 1462 787 1466 779.7C1470 772.3 1480 767.4 1486.6 760.8C1493.3 754.3 1499.1 746.9 1505.9 740.4C1512.6 733.9 1519.2 726.8 1526.9 721.9C1534.6 717 1544.2 710.6 1552 711.2C1559.9 711.7 1568.8 718.4 1574 725.1C1579.2 731.8 1581.3 742.4 1583.2 751.4C1585.2 760.4 1586.2 770 1585.9 779.3C1585.6 788.5 1583.7 797.8 1581.6 806.8C1579.4 815.9 1575.9 824.6 1573.1 833.5C1570.2 842.5 1568 851.6 1564.5 860.2C1561 868.9 1557.3 877.8 1551.9 885.2C1546.6 892.7 1540.1 901.7 1532.5 904.9C1524.9 908.1 1513.5 908.3 1506.4 904.7Z" stroke="#aa3a6e" stroke-opacity="0.70" stroke-width="6.3"/>
<path d="M1514.7 875.1C1508 871.8 1504.4 860.7 1501 852C1497.5 843.3 1496.5 832.2 1493.9 822.8C1491.2 813.4 1483.7 803.8 1485.1 795.4C1486.6 786.9 1496.3 779.5 1502.8 772.1C1509.2 764.7 1516.1 756.4 1524 750.9C1531.9 745.4 1542.6 737.6 1550.1 739C1557.6 740.3 1565.3 750.6 1569.1 758.9C1572.9 767.1 1573.4 778.7 1573 788.5C1572.6 798.3 1569.4 808.1 1566.7 817.7C1564.1 827.4 1561.4 837.3 1557.2 846.2C1552.9 855.2 1548.5 866.7 1541.4 871.5C1534.3 876.3 1521.4 878.3 1514.7 875.1Z" stroke="#aa3a6e" stroke-opacity="0.70" stroke-width="6.3"/>
<path d="M1535.8 836.7C1531.7 837.4 1527 835.5 1523.5 832.8C1520 830 1516.7 824.5 1514.6 820.2C1512.5 815.9 1510.8 811.6 1510.7 806.9C1510.6 802.2 1512 796.4 1513.9 792.1C1515.9 787.8 1518.8 784.3 1522.5 781.2C1526.2 778.2 1531.8 774.8 1536.2 773.8C1540.6 772.8 1545.3 772.9 1548.9 775.2C1552.4 777.4 1555.9 783.1 1557.5 787.5C1559.2 791.8 1559.3 796.3 1558.9 801.1C1558.5 806 1556.7 811.9 1554.9 816.5C1553.2 821 1551.3 825.1 1548.1 828.5C1544.9 831.9 1539.9 836 1535.8 836.7Z" stroke="#aa3a6e" stroke-opacity="0.70" stroke-width="6.3"/>
<path d="M1485.5 703.8C1487.8 694.9 1491.2 686 1494.1 677.2C1497.1 668.3 1499.8 659.4 1503.2 650.7C1506.7 642 1510.1 633.2 1514.6 625.1C1519.2 617 1524.1 608.7 1530.4 602C1536.6 595.3 1544.2 588.9 1552.3 584.9C1560.5 580.9 1570.5 577 1579.1 577.8C1587.7 578.5 1597.3 583.5 1603.8 589.3C1610.3 595.2 1614.3 604.7 1618.3 613.1C1622.3 621.4 1624.7 630.6 1627.9 639.4C1631.2 648.1 1635.3 656.7 1637.7 665.6C1640.2 674.6 1641.6 683.9 1642.5 693.2C1643.4 702.4 1643.3 711.8 1643.2 721.2C1643.1 730.5 1642.7 739.9 1642 749.2C1641.3 758.5 1640.3 767.8 1639.1 777C1637.9 786.3 1636.4 795.5 1634.7 804.7C1632.9 813.9 1630.7 823 1628.7 832.1C1626.6 841.2 1624.5 850.3 1622.3 859.4C1620.1 868.4 1617.9 877.5 1615.2 886.5C1612.5 895.4 1609.5 904.3 1606 912.9C1602.6 921.6 1598.9 930.2 1594.7 938.6C1590.5 946.9 1586.2 955.2 1581 963C1575.9 970.8 1570.1 978.2 1563.8 985.1C1557.6 991.9 1550.8 998.6 1543.3 1004C1535.8 1009.4 1527.4 1014.2 1518.8 1017.5C1510.2 1020.8 1500.8 1023 1491.6 1023.9C1482.4 1024.8 1472.9 1023.9 1463.7 1022.6C1454.5 1021.4 1445.6 1016.8 1436.5 1016.7C1427.5 1016.5 1417.8 1019.5 1409.3 1021.8C1400.8 1024 1391 1033 1385.3 1030.2C1379.7 1027.5 1380.8 1011.7 1375.2 1005.3C1369.6 998.9 1359.9 996.1 1351.8 992C1343.7 987.8 1333.4 986 1326.5 980.3C1319.7 974.6 1314 965.9 1310.6 957.7C1307.2 949.4 1305 939.5 1305.9 930.7C1306.9 922 1311.9 913.2 1316.4 905.2C1321 897.2 1327.5 890.1 1333.1 882.6C1338.7 875.2 1344 867.4 1350 860.3C1356 853.1 1361.7 845.3 1368.9 839.7C1376.2 834.1 1384.8 829.5 1393.4 826.8C1402.1 824.1 1412.8 827 1420.8 823.4C1428.9 819.8 1435.9 812.3 1441.9 805.4C1447.9 798.4 1452.2 789.8 1456.8 781.6C1461.3 773.5 1465.1 764.9 1469 756.4C1472.9 747.9 1477.6 739.6 1480.3 730.8C1483.1 722 1483.2 712.7 1485.5 703.8Z" stroke="#7a2e70" stroke-opacity="0.85" stroke-width="12.5"/>
<path d="M1443.4 820.7C1446.1 811.5 1449.4 803 1452.8 794.3C1456.1 785.6 1459.7 776.9 1463.5 768.4C1467.3 759.9 1471.5 751.5 1475.6 743.1C1479.7 734.7 1483.9 726.4 1488.1 718.1C1492.4 709.7 1496.4 701.3 1500.9 693.1C1505.4 684.9 1509.9 676.7 1515.2 669C1520.4 661.3 1525.5 653.6 1532.2 646.7C1538.9 639.9 1547.2 630.5 1555.3 628.1C1563.4 625.6 1573.5 627.9 1580.7 632.1C1587.9 636.3 1593.4 645.8 1598.7 653.4C1604 661.1 1608.8 669.3 1612.2 677.9C1615.6 686.5 1617.5 695.8 1619.1 705C1620.7 714.1 1621.5 723.5 1622 732.8C1622.5 742.1 1622.5 751.5 1622 760.8C1621.6 770.2 1620.5 779.1 1619.3 788.7C1618 798.3 1615.9 808.8 1614.6 818.4C1613.3 828 1612.9 837 1611.3 846.1C1609.7 855.3 1607.5 864.4 1605.1 873.4C1602.6 882.3 1599.9 891.3 1596.7 900.1C1593.6 908.9 1590.2 917.6 1586.1 926C1582 934.4 1577.7 942.8 1572.3 950.4C1567 958 1560.9 965.4 1554.1 971.6C1547.2 977.7 1539.9 984 1531.2 987.5C1522.5 990.9 1511.1 993.5 1502.1 992.4C1493.1 991.3 1484 986.6 1477.1 980.9C1470.3 975.2 1465.3 966.5 1461 958.4C1456.6 950.3 1453.8 941.1 1451 932.2C1448.2 923.3 1446 914.2 1444 905.1C1442 896 1440.2 886.8 1439 877.5C1437.9 868.2 1436.3 859 1437 849.6C1437.7 840.1 1440.8 829.9 1443.4 820.7Z" stroke="#7a2e70" stroke-opacity="0.85" stroke-width="12.5"/>
<path d="M1466.6 823.9C1470.3 815.2 1473.6 806.6 1477.2 798C1480.8 789.4 1484.3 781 1488.5 772.3C1492.7 763.6 1497.8 754.2 1502.4 745.7C1507.1 737.2 1511.4 729.7 1516.5 721.4C1521.5 713.2 1527.1 704 1532.7 696.2C1538.3 688.3 1542.7 679.2 1550.1 674.2C1557.5 669.3 1569 664.6 1576.9 666.2C1584.9 667.9 1592.4 676.4 1597.5 684C1602.7 691.7 1605.2 702.9 1607.6 712.2C1609.9 721.5 1610.8 730.3 1611.5 739.9C1612.3 749.5 1612.6 760.3 1612.2 769.9C1611.9 779.6 1610.8 788.2 1609.6 797.8C1608.4 807.4 1606.9 818.1 1604.8 827.5C1602.7 836.9 1599.7 845.1 1597 854.4C1594.3 863.7 1591.8 874.1 1588.7 883.2C1585.6 892.4 1582.6 900.6 1578.4 909.3C1574.1 918 1569 927.5 1563.3 935.2C1557.6 942.9 1551.8 950.2 1544.1 955.5C1536.4 960.8 1525.7 966.5 1516.9 966.9C1508.1 967.2 1498.6 963.2 1491.4 957.6C1484.2 952.1 1478.3 942.1 1473.5 933.8C1468.8 925.5 1465.9 917.1 1463.1 907.9C1460.3 898.6 1458 888.1 1456.7 878.5C1455.4 869 1453.4 859.7 1455.1 850.6C1456.7 841.5 1463 832.7 1466.6 823.9Z" stroke="#7a2e70" stroke-opacity="0.85" stroke-width="12.5"/>
<path d="M1469.1 827.9C1471.7 819.1 1475.9 810.5 1479.5 801.9C1483.1 793.2 1486.6 784.5 1490.7 776.1C1494.7 767.7 1499.2 759.4 1503.7 751.2C1508.3 743.1 1513 735 1517.9 727C1522.9 719.1 1527.8 711 1533.4 703.6C1538.9 696.1 1544 686.5 1551.3 682.2C1558.6 677.9 1569.8 675.1 1577.3 677.7C1584.8 680.2 1591.6 689.7 1596.1 697.4C1600.6 705.1 1602.4 715 1604.3 724.1C1606.3 733.2 1607.1 742.7 1607.7 752C1608.2 761.3 1608.2 770.7 1607.7 780C1607.1 789.4 1605.8 798.7 1604.4 807.9C1602.9 817.2 1601.5 826.4 1599 835.4C1596.6 844.4 1592.9 853.1 1589.5 861.8C1586 870.5 1582.6 879.3 1578.3 887.6C1574.1 895.9 1569.6 904.3 1564 911.7C1558.5 919.1 1552.5 927.1 1545 932.1C1537.6 937.2 1527.8 942.3 1519.4 942.1C1511 941.9 1501.5 936.6 1494.8 930.9C1488.1 925.2 1483.4 916 1479.1 907.8C1474.8 899.6 1471.7 890.5 1469.1 881.6C1466.5 872.7 1463.5 863.1 1463.5 854.1C1463.5 845.2 1466.4 836.6 1469.1 827.9Z" stroke="#7a2e70" stroke-opacity="0.85" stroke-width="12.5"/>
<path d="M1472.7 827.9C1475.5 818.8 1479.7 810.5 1483.3 801.9C1487 793.3 1490.5 784.7 1494.7 776.3C1498.8 767.9 1503.3 759.7 1508 751.6C1512.7 743.5 1517.5 735.4 1522.6 727.6C1527.7 719.8 1532.5 711.4 1538.7 704.6C1544.9 697.9 1552.1 689 1559.8 687.4C1567.4 685.8 1578.4 689.8 1584.6 695.2C1590.9 700.6 1594.3 711.2 1597.2 719.8C1600.2 728.5 1601.4 738.1 1602.5 747.4C1603.6 756.6 1603.9 766 1603.8 775.4C1603.6 784.7 1602.5 794 1601.4 803.3C1600.2 812.6 1598.9 821.9 1596.7 831C1594.5 840 1591.3 848.9 1588.2 857.7C1585.1 866.5 1582.2 875.5 1578.4 884C1574.5 892.5 1570.4 901 1565.2 908.7C1560 916.4 1554.3 924.5 1547.2 930C1540 935.6 1530.7 941.4 1522.3 941.9C1514 942.3 1504 938.1 1497.1 932.8C1490.2 927.4 1485.3 918.2 1481 910C1476.8 901.8 1473.8 892.7 1471.4 883.7C1469 874.7 1466.4 865.4 1466.7 856.1C1466.9 846.8 1470 836.9 1472.7 827.9Z" stroke="#7a2e70" stroke-opacity="0.85" stroke-width="12.5"/>
<path d="M1477.8 827.9C1479.4 818.7 1483.8 810.2 1487.3 801.6C1490.9 792.9 1494.7 784.4 1498.9 776C1503.1 767.7 1507.8 759.6 1512.6 751.6C1517.4 743.6 1522.3 735.6 1527.7 727.9C1533.1 720.3 1537.9 710.9 1544.9 705.8C1551.9 700.8 1562.4 695.9 1569.8 697.6C1577.1 699.4 1584.4 708.9 1588.9 716.5C1593.4 724.1 1595 734.2 1596.7 743.3C1598.5 752.4 1599.2 761.9 1599.4 771.2C1599.7 780.5 1599 789.9 1598.1 799.2C1597.2 808.5 1596.3 817.9 1594 826.9C1591.7 835.9 1588.1 844.6 1584.2 853C1580.2 861.5 1575.6 869.8 1570.5 877.5C1565.3 885.2 1559.9 893.4 1553 899.4C1546.2 905.3 1537.4 912.2 1529.3 913.2C1521.1 914.2 1510.9 910.3 1503.9 905.2C1497 900.1 1492.2 890.7 1487.7 882.6C1483.3 874.5 1479.1 865.7 1477.4 856.6C1475.8 847.4 1476.1 837.1 1477.8 827.9Z" stroke="#7a2e70" stroke-opacity="0.85" stroke-width="12.5"/>
<path d="M1481.4 827.9C1483.3 818.7 1487.6 810.2 1491.2 801.6C1494.8 792.9 1498.7 784.4 1503 776.1C1507.4 767.8 1512.2 759.8 1517.2 751.9C1522.2 744 1527.2 735.8 1533.1 728.7C1539 721.6 1545.3 711.7 1552.7 709.3C1560.2 707 1571.5 709.6 1577.7 714.7C1584 719.7 1587.3 730.7 1590.1 739.4C1592.9 748.2 1593.9 757.8 1594.6 767.1C1595.4 776.4 1595.2 785.8 1594.6 795.1C1594.1 804.5 1593.1 813.9 1591.1 823C1589.1 832.1 1586 841 1582.6 849.7C1579.1 858.3 1575 866.9 1570.2 874.9C1565.5 882.9 1560.5 891.3 1553.9 897.6C1547.3 904 1539 911.4 1530.8 912.8C1522.7 914.2 1512.2 911 1505.3 906.1C1498.3 901.2 1493.5 891.5 1489.3 883.2C1485.2 875 1481.5 866 1480.2 856.8C1478.8 847.5 1479.6 837.1 1481.4 827.9Z" stroke="#7a2e70" stroke-opacity="0.85" stroke-width="12.5"/>
<path d="M1486.3 827.9C1486.9 818.8 1491.6 810 1495.1 801.4C1498.6 792.8 1502.6 784.6 1507.3 776.2C1511.9 767.7 1517.6 758.7 1523.1 750.7C1528.6 742.7 1533 733.8 1540.1 728.4C1547.2 723.1 1558.6 717 1565.8 718.8C1573 720.6 1579.3 730.9 1583.3 739.1C1587.3 747.4 1588.7 758.8 1589.9 768.3C1591.1 777.8 1591.1 786.6 1590.6 796.2C1590.1 805.9 1589.4 816.8 1586.9 826C1584.5 835.2 1580.9 843.4 1576 851.5C1571 859.7 1564.1 868.5 1557 874.7C1549.9 880.9 1541.8 888.2 1533.5 888.9C1525.2 889.7 1514 884.7 1507 879.2C1500 873.7 1494.8 864.7 1491.3 856.2C1487.9 847.6 1485.7 837.1 1486.3 827.9Z" stroke="#7a2e70" stroke-opacity="0.85" stroke-width="12.5"/>
<path d="M1490.3 828C1491.1 818.8 1495.5 810 1499 801.4C1502.6 792.7 1506.8 784.6 1511.7 776.3C1516.5 767.9 1522.4 758.8 1528.4 751.2C1534.3 743.7 1539.9 733.3 1547.4 730.9C1554.9 728.5 1567.3 731.6 1573.3 736.9C1579.4 742.1 1581.5 753.3 1583.7 762.6C1586 771.9 1586.6 782.9 1586.7 792.5C1586.7 802.2 1586 811.4 1584.2 820.5C1582.3 829.6 1579.7 838.5 1575.4 847C1571.1 855.5 1564.9 864.8 1558.3 871.7C1551.7 878.5 1544.2 886.6 1536.1 888.1C1527.9 889.6 1516.1 885.8 1509.2 880.6C1502.2 875.4 1497.3 865.8 1494.2 857.1C1491 848.3 1489.5 837.3 1490.3 828Z" stroke="#7a2e70" stroke-opacity="0.85" stroke-width="12.5"/>
<path d="M1495.5 822.2C1496.5 813 1501.2 804.6 1505.4 795.9C1509.5 787.1 1514.9 778.1 1520.5 769.8C1526.2 761.6 1532.2 751.2 1539.4 746.4C1546.6 741.6 1557.3 737.8 1563.9 741.1C1570.4 744.4 1575.6 757.1 1578.7 766.2C1581.8 775.4 1582.2 786.4 1582.4 796C1582.6 805.7 1582.4 814.8 1579.9 824C1577.5 833.2 1573.5 843.3 1567.8 851.1C1562.1 859 1553.8 867.7 1545.7 871.3C1537.6 874.9 1526.9 876.2 1519.3 872.7C1511.6 869.3 1503.5 859.1 1499.6 850.6C1495.6 842.2 1494.6 831.3 1495.5 822.2Z" stroke="#7a2e70" stroke-opacity="0.85" stroke-width="12.5"/>
<path d="M1499.2 822.7C1500.3 814.1 1504.3 806.3 1508.3 798.2C1512.2 790.2 1517.5 781.5 1522.8 774.2C1528.1 766.9 1533 758 1539.9 754.6C1546.8 751.2 1558.4 750.2 1564.3 753.9C1570.2 757.6 1573.1 768.4 1575.5 776.9C1577.8 785.3 1578.3 795.8 1578.2 804.8C1578.1 813.7 1577.6 822.2 1574.9 830.6C1572.1 839 1567.2 848.3 1561.8 855.2C1556.5 862.2 1550.1 869.8 1542.5 872.4C1535 874.9 1523.4 874.4 1516.6 870.6C1509.8 866.8 1504.6 857.7 1501.7 849.7C1498.8 841.7 1498.1 831.3 1499.2 822.7Z" stroke="#7a2e70" stroke-opacity="0.85" stroke-width="12.5"/>
<path d="M1503.1 823.3C1503.9 815.9 1507 809.3 1510.3 802.4C1513.5 795.5 1517.9 788.2 1522.7 781.8C1527.4 775.4 1532.7 767.3 1538.9 764.2C1545.2 761 1554.7 759.7 1560.1 762.9C1565.5 766.2 1569 776.1 1571.3 783.5C1573.6 791 1574 799.8 1574 807.4C1574.1 815 1573.8 822.1 1571.6 829.3C1569.4 836.5 1565.6 844.4 1560.8 850.6C1556 856.7 1549.5 863.6 1542.7 866C1535.9 868.4 1526.4 868.4 1520.2 865.2C1514 861.9 1508.5 853.6 1505.6 846.6C1502.8 839.6 1502.4 830.6 1503.1 823.3Z" stroke="#7a2e70" stroke-opacity="0.85" stroke-width="12.5"/>
<path d="M1506.6 823.7C1507.5 817 1510.1 811 1513.2 804.8C1516.2 798.5 1520.3 791.6 1525 786.1C1529.7 780.6 1535.7 773.5 1541.3 771.6C1547 769.7 1554.4 770.9 1558.9 774.7C1563.4 778.5 1566.4 787.3 1568.2 794.3C1570 801.2 1570.1 809.3 1569.7 816.2C1569.4 823.2 1568.5 829.5 1566 835.9C1563.5 842.4 1559.6 849.6 1554.9 854.9C1550.1 860.2 1543.4 866.2 1537.4 867.6C1531.4 869.1 1524 867.6 1519.1 863.8C1514.1 860.1 1509.8 852 1507.7 845.4C1505.7 838.7 1505.7 830.5 1506.6 823.7Z" stroke="#7a2e70" stroke-opacity="0.85" stroke-width="12.5"/>
<path d="M1510.4 824.3C1511.1 818.1 1513.5 812.5 1516.1 807.1C1518.7 801.8 1522.1 796.4 1526.1 792.1C1530.1 787.8 1535 782.6 1540.1 781.4C1545.1 780.2 1552.3 781.9 1556.3 785.1C1560.3 788.3 1562.6 795.2 1564.2 800.8C1565.7 806.4 1566.1 812.8 1565.7 818.8C1565.4 824.7 1564.3 830.9 1562.1 836.4C1560 841.9 1556.7 847.5 1552.8 851.8C1548.8 856 1543.4 860.6 1538.2 861.8C1533 863 1525.9 861.8 1521.6 858.8C1517.2 855.8 1513.8 849.8 1512 844C1510.1 838.2 1509.7 830.4 1510.4 824.3Z" stroke="#7a2e70" stroke-opacity="0.85" stroke-width="12.5"/>
<path d="M1514.8 821.6C1515.9 816.2 1517.8 811.3 1520.5 806.8C1523.1 802.3 1526.6 797.5 1530.7 794.8C1534.8 792.1 1540.8 789.9 1545.2 790.7C1549.6 791.5 1554.5 795.6 1557.2 799.5C1560 803.5 1561.1 809.5 1561.7 814.6C1562.2 819.7 1561.6 825.3 1560.5 830.4C1559.4 835.5 1557.6 840.8 1555 845.3C1552.4 849.9 1549.1 854.7 1545.1 857.6C1541.1 860.4 1535.2 863 1530.8 862.4C1526.3 861.9 1521.2 858.1 1518.3 854.3C1515.4 850.5 1514 844.9 1513.4 839.4C1512.8 834 1513.6 827 1514.8 821.6Z" stroke="#7a2e70" stroke-opacity="0.85" stroke-width="12.5"/>
</g>
<path clip-path="url(#cpj)" d="M961.8 421.6L969.6 445.7L995.0 445.7L974.5 460.6L982.3 484.7L961.8 469.8L941.3 484.7L949.1 460.6L928.6 445.7L954.0 445.7Z" fill="#ff0000" stroke="#ff0000" stroke-width="6.6" stroke-linejoin="round"/>
<rect x="335.5" y="430.5" width="1362" height="1362" fill="none" stroke="#262626" stroke-width="9"/>
<text x="335.5" y="1911" font-size="70" text-anchor="middle" fill="#262626" font-family="'DejaVu Sans', 'Liberation Sans', sans-serif">−6</text>
<text x="607.9" y="1911" font-size="70" text-anchor="middle" fill="#262626" font-family="'DejaVu Sans', 'Liberation Sans', sans-serif">−4</text>
<text x="880.3" y="1911" font-size="70" text-anchor="middle" fill="#262626" font-family="'DejaVu Sans', 'Liberation Sans', sans-serif">−2</text>
<text x="1152.7" y="1911" font-size="70" text-anchor="middle" fill="#262626" font-family="'DejaVu Sans', 'Liberation Sans', sans-serif">0</text>
<text x="1425.1" y="1911" font-size="70" text-anchor="middle" fill="#262626" font-family="'DejaVu Sans', 'Liberation Sans', sans-serif">2</text>
<text x="1697.5" y="1911" font-size="70" text-anchor="middle" fill="#262626" font-family="'DejaVu Sans', 'Liberation Sans', sans-serif">4</text>
<text x="268.6" y="1817.5" font-size="70" text-anchor="end" letter-spacing="-0.6" fill="#262626" font-family="'DejaVu Sans', 'Liberation Sans', sans-serif">0.5</text>
<text x="268.6" y="1550.7" font-size="70" text-anchor="end" letter-spacing="-0.6" fill="#262626" font-family="'DejaVu Sans', 'Liberation Sans', sans-serif">0.6</text>
<text x="268.6" y="1283.8" font-size="70" text-anchor="end" letter-spacing="-0.6" fill="#262626" font-family="'DejaVu Sans', 'Liberation Sans', sans-serif">0.7</text>
<text x="268.6" y="1016.9" font-size="70" text-anchor="end" letter-spacing="-0.6" fill="#262626" font-family="'DejaVu Sans', 'Liberation Sans', sans-serif">0.8</text>
<text x="268.6" y="750.1" font-size="70" text-anchor="end" letter-spacing="-0.6" fill="#262626" font-family="'DejaVu Sans', 'Liberation Sans', sans-serif">0.9</text>
<text x="268.6" y="483.2" font-size="70" text-anchor="end" letter-spacing="-0.6" fill="#262626" font-family="'DejaVu Sans', 'Liberation Sans', sans-serif">1.0</text>
<text x="1015.5" y="2017" font-size="83.5" text-anchor="middle" fill="#262626" font-family="'DejaVu Sans', 'Liberation Sans', sans-serif">Predicted Viral Selection Score</text>
<text transform="translate(113,1111.5) rotate(-90)" font-size="83.5" text-anchor="middle" fill="#262626" font-family="'DejaVu Sans', 'Liberation Sans', sans-serif">Sequence Similarity to Wild Type</text>
</svg></body></html>
